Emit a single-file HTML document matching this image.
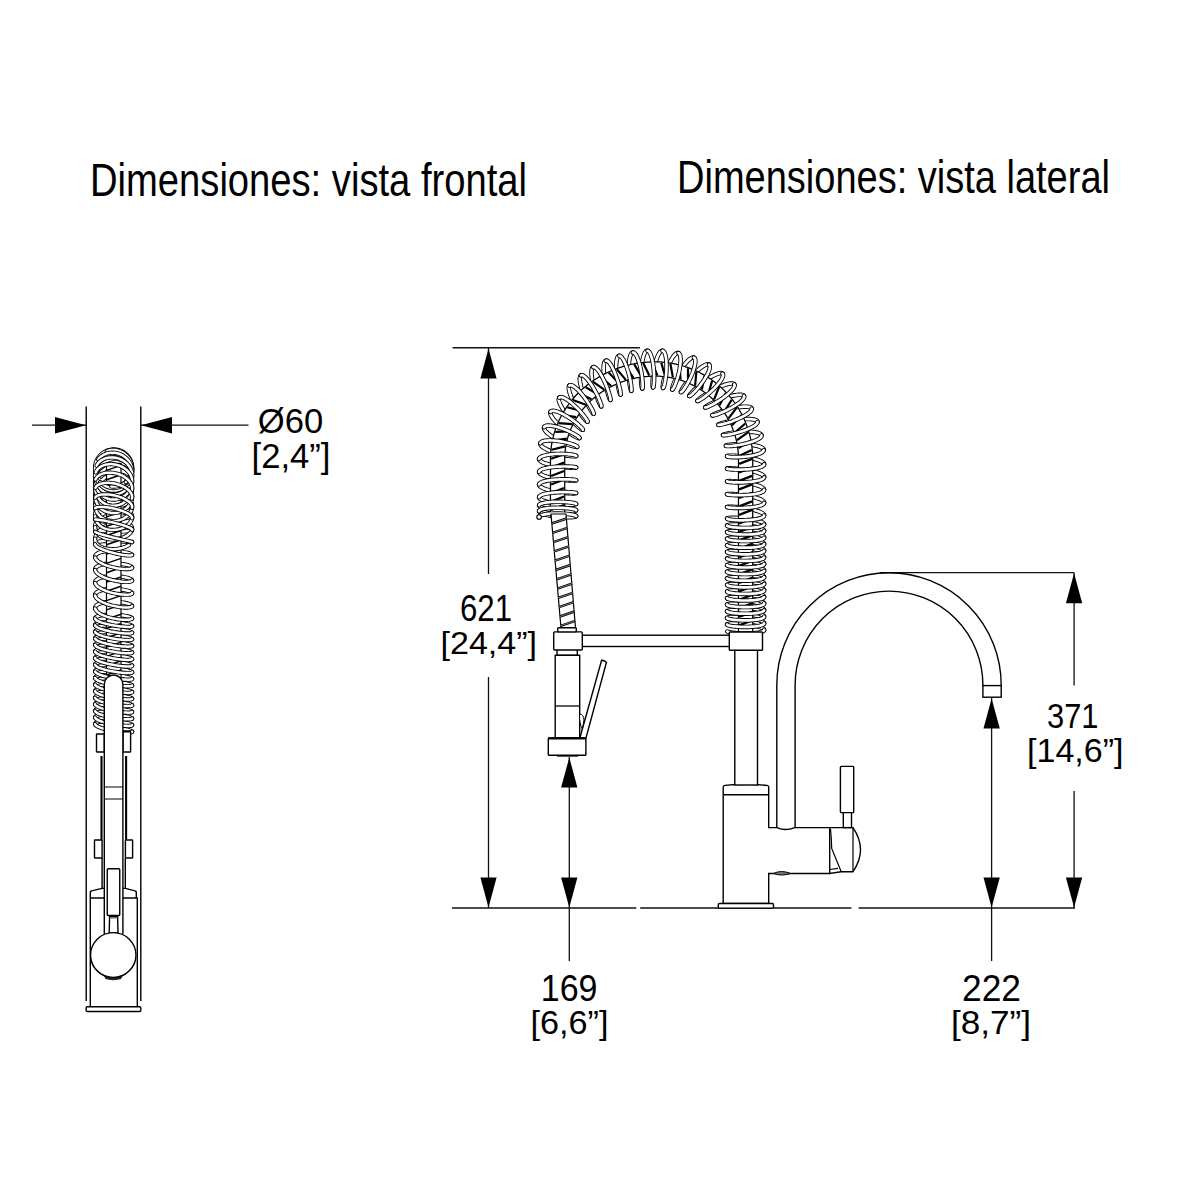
<!DOCTYPE html>
<html><head><meta charset="utf-8"><title>Dimensiones</title><style>
html,body{margin:0;padding:0;background:#fff;}
svg{display:block;}
</style></head><body>
<svg width="1200" height="1200" viewBox="0 0 1200 1200">
<rect width="1200" height="1200" fill="#fff"/>
<g font-family="Liberation Sans, sans-serif" fill="#000">
<text x="90" y="195.75" font-size="46.22" textLength="437" lengthAdjust="spacingAndGlyphs">Dimensiones: vista frontal</text>
<text x="677" y="193" font-size="46.63" textLength="433" lengthAdjust="spacingAndGlyphs">Dimensiones: vista lateral</text>
<text x="257.8" y="433" font-size="35.3" textLength="65.4" lengthAdjust="spacingAndGlyphs">Ø60</text>
<text x="251.5" y="468" font-size="34.17" textLength="79" lengthAdjust="spacingAndGlyphs">[2,4”]</text>
<text x="460" y="620.5" font-size="36.47" textLength="52" lengthAdjust="spacingAndGlyphs">621</text>
<text x="440.5" y="654" font-size="32.24" textLength="96.5" lengthAdjust="spacingAndGlyphs">[24,4”]</text>
<text x="540.75" y="1000.5" font-size="36.17" textLength="56.75" lengthAdjust="spacingAndGlyphs">169</text>
<text x="530.5" y="1034" font-size="33.73" textLength="78" lengthAdjust="spacingAndGlyphs">[6,6”]</text>
<text x="962" y="1000.5" font-size="36.17" textLength="59" lengthAdjust="spacingAndGlyphs">222</text>
<text x="951" y="1034" font-size="33.73" textLength="80" lengthAdjust="spacingAndGlyphs">[8,7”]</text>
<text x="1047" y="728" font-size="34.7" textLength="51.5" lengthAdjust="spacingAndGlyphs">371</text>
<text x="1027" y="762" font-size="33.09" textLength="96.5" lengthAdjust="spacingAndGlyphs">[14,6”]</text>
</g>
<line x1="32" y1="425.2" x2="86" y2="425.2" stroke="#111" stroke-width="1.3"/>
<polygon points="86.0,425.2 55.0,416.9 55.0,433.4" fill="#000"/>
<line x1="141" y1="425.2" x2="248.5" y2="425.2" stroke="#111" stroke-width="1.3"/>
<polygon points="141.0,425.2 172.0,416.9 172.0,433.4" fill="#000"/>
<line x1="86.2" y1="406.5" x2="86.2" y2="1001" stroke="#000" stroke-width="1.4"/>
<line x1="140.8" y1="406.5" x2="140.8" y2="1001" stroke="#000" stroke-width="1.4"/>
<line x1="452.6" y1="347.8" x2="640" y2="347.8" stroke="#111" stroke-width="1.4"/>
<line x1="488.5" y1="347.8" x2="488.5" y2="574" stroke="#111" stroke-width="1.3"/>
<line x1="488.5" y1="677" x2="488.5" y2="908" stroke="#111" stroke-width="1.3"/>
<polygon points="488.5,348.5 480.4,378.5 496.6,378.5" fill="#000"/>
<polygon points="488.5,907.5 480.4,877.5 496.6,877.5" fill="#000"/>
<line x1="452" y1="908" x2="636.3" y2="908" stroke="#111" stroke-width="1.4"/>
<line x1="640.2" y1="908" x2="851.4" y2="908" stroke="#111" stroke-width="1.4"/>
<line x1="858.6" y1="908" x2="1075" y2="908" stroke="#111" stroke-width="1.4"/>
<line x1="569.3" y1="757" x2="569.3" y2="961" stroke="#111" stroke-width="1.3"/>
<polygon points="569.3,757.5 561.1,787.5 577.4,787.5" fill="#000"/>
<polygon points="569.3,907.5 561.1,877.5 577.4,877.5" fill="#000"/>
<line x1="991.6" y1="698" x2="991.6" y2="961" stroke="#111" stroke-width="1.3"/>
<polygon points="991.6,698.5 983.5,728.5 999.8,728.5" fill="#000"/>
<polygon points="991.6,907.5 983.5,877.5 999.8,877.5" fill="#000"/>
<line x1="880" y1="572.6" x2="1074.1" y2="572.6" stroke="#111" stroke-width="1.4"/>
<line x1="1074.1" y1="572.6" x2="1074.1" y2="685.4" stroke="#111" stroke-width="1.3"/>
<line x1="1074.1" y1="791" x2="1074.1" y2="908" stroke="#111" stroke-width="1.3"/>
<polygon points="1074.1,573.2 1065.9,603.2 1082.2,603.2" fill="#000"/>
<polygon points="1074.1,907.5 1065.9,877.5 1082.2,877.5" fill="#000"/>
<path d="M576.1,516.2 L575.9,516.4 L575.7,516.5 L575.3,516.7 L574.8,516.8 L574.2,516.9 L573.5,517.0 L572.7,517.1 L571.8,517.2 L570.8,517.2 L569.7,517.2 L568.5,517.2 L567.3,517.2 L566.0,517.2 L564.7,517.2 L563.3,517.1 L561.9,517.0 L560.4,516.9 L558.9,516.8 L557.5,516.6 L556.0,516.5 L554.5,516.3 L553.1,516.1 L551.6,515.9 L550.3,515.6 L548.9,515.4 L547.7,515.1 L546.4,514.8 L545.3,514.6 L544.2,514.3 L543.3,513.9 L542.4,513.6 L541.6,513.3 L540.9,513.0 L540.3,512.7 L539.8,512.3 L539.5,512.0 L539.2,511.7 L539.1,511.4 L539.1,511.1 M576.1,510.3 L576.0,510.5 L575.8,510.6 L575.5,510.8 L575.1,510.9 L574.5,511.0 L573.9,511.1 L573.1,511.2 L572.3,511.3 L571.3,511.4 L570.3,511.4 L569.2,511.4 L568.0,511.4 L566.7,511.4 L565.4,511.4 L564.0,511.3 L562.6,511.3 L561.2,511.2 L559.7,511.1 L558.3,510.9 L556.8,510.8 L555.3,510.6 L553.8,510.4 L552.4,510.2 L551.0,510.0 L549.6,509.7 L548.3,509.5 L547.1,509.2 L545.9,508.9 L544.8,508.6 L543.8,508.3 L542.8,508.0 L542.0,507.7 L541.2,507.4 L540.6,507.0 L540.1,506.7 L539.7,506.4 L539.4,506.0 L539.2,505.7 L539.1,505.4 L539.2,505.1 M576.1,504.1 L575.9,504.2 L575.7,504.3 L575.3,504.4 L574.8,504.5 L574.2,504.6 L573.5,504.7 L572.7,504.7 L571.8,504.8 L570.9,504.8 L569.8,504.8 L568.6,504.8 L567.4,504.7 L566.1,504.7 L564.8,504.6 L563.4,504.5 L562.0,504.3 L560.5,504.2 L559.1,504.0 L557.6,503.8 L556.1,503.6 L554.6,503.4 L553.2,503.2 L551.8,502.9 L550.4,502.6 L549.0,502.3 L547.8,502.0 L546.5,501.7 L545.4,501.3 L544.3,501.0 L543.3,500.6 L542.4,500.2 L541.6,499.8 L540.9,499.5 L540.3,499.1 L539.9,498.7 L539.5,498.3 L539.3,497.9 L539.1,497.5 L539.1,497.1 M576.1,493.1 L576.0,493.2 L575.8,493.2 L575.5,493.3 L575.1,493.3 L574.6,493.4 L573.9,493.4 L573.2,493.4 L572.3,493.4 L571.4,493.3 L570.4,493.3 L569.3,493.2 L568.1,493.2 L566.8,493.0 L565.5,492.9 L564.2,492.8 L562.7,492.6 L561.3,492.4 L559.9,492.2 L558.4,492.0 L556.9,491.8 L555.4,491.5 L554.0,491.2 L552.5,490.9 L551.1,490.6 L549.8,490.3 L548.4,489.9 L547.2,489.6 L546.0,489.2 L544.9,488.8 L543.8,488.4 L542.9,488.0 L542.1,487.6 L541.3,487.2 L540.7,486.8 L540.1,486.4 L539.7,486.0 L539.4,485.6 L539.2,485.2 L539.1,484.7 L539.1,484.3 M576.1,480.3 L576.0,480.4 L575.7,480.5 L575.4,480.5 L574.9,480.5 L574.3,480.6 L573.6,480.6 L572.8,480.6 L571.9,480.6 L570.9,480.5 L569.9,480.5 L568.7,480.4 L567.5,480.3 L566.2,480.2 L564.9,480.1 L563.5,479.9 L562.1,479.7 L560.6,479.5 L559.2,479.3 L557.7,479.1 L556.2,478.8 L554.7,478.6 L553.3,478.3 L551.9,478.0 L550.5,477.7 L549.1,477.3 L547.9,477.0 L546.6,476.6 L545.5,476.2 L544.4,475.9 L543.4,475.5 L542.5,475.1 L541.7,474.6 L541.0,474.2 L540.4,473.8 L539.9,473.4 L539.5,473.0 L539.3,472.6 L539.1,472.2 L539.1,471.8 M576.1,467.5 L576.0,467.6 L575.9,467.6 L575.6,467.7 L575.1,467.7 L574.6,467.8 L574.0,467.8 L573.2,467.8 L572.4,467.8 L571.5,467.7 L570.5,467.7 L569.4,467.6 L568.2,467.6 L566.9,467.5 L565.6,467.3 L564.3,467.2 L562.9,467.0 L561.4,466.9 L560.0,466.7 L558.5,466.4 L557.0,466.2 L555.5,465.9 L554.1,465.6 L552.6,465.4 L551.2,465.0 L549.9,464.7 L548.5,464.4 L547.3,464.0 L546.1,463.6 L545.0,463.3 L543.9,462.9 L543.0,462.5 L542.1,462.1 L541.4,461.7 L540.7,461.2 L540.2,460.8 L539.7,460.4 L539.4,460.0 L539.2,459.6 L539.1,459.2 L539.1,458.8 M576.1,456.0 L576.0,456.1 L575.8,456.2 L575.4,456.2 L574.9,456.3 L574.4,456.3 L573.7,456.3 L572.9,456.3 L572.0,456.2 L571.0,456.1 L570.0,456.0 L568.8,455.8 L567.6,455.7 L566.3,455.5 L565.0,455.2 L563.7,454.9 L562.3,454.6 L560.8,454.3 L559.4,453.9 L557.9,453.5 L556.5,453.1 L555.0,452.7 L553.6,452.2 L552.2,451.7 L550.9,451.2 L549.6,450.7 L548.4,450.2 L547.2,449.7 L546.1,449.1 L545.0,448.5 L544.1,448.0 L543.2,447.4 L542.5,446.9 L541.8,446.3 L541.3,445.8 L540.9,445.3 L540.6,444.8 L540.4,444.3 L540.3,443.8 L540.3,443.3 M577.2,446.8 L577.0,446.8 L576.7,446.9 L576.3,446.9 L575.7,446.8 L575.1,446.7 L574.4,446.5 L573.6,446.3 L572.7,446.1 L571.7,445.8 L570.6,445.5 L569.5,445.1 L568.3,444.7 L567.1,444.2 L565.8,443.7 L564.5,443.1 L563.2,442.6 L561.8,441.9 L560.5,441.3 L559.1,440.6 L557.8,439.9 L556.4,439.2 L555.1,438.4 L553.9,437.7 L552.7,436.9 L551.5,436.1 L550.4,435.4 L549.4,434.6 L548.4,433.8 L547.5,433.1 L546.7,432.3 L546.0,431.6 L545.4,430.9 L544.9,430.3 L544.6,429.6 L544.3,429.1 L544.1,428.5 L544.0,428.0 L544.1,427.5 L544.2,427.1 M579.5,438.1 L579.3,438.2 L579.1,438.2 L578.7,438.1 L578.3,438.0 L577.7,437.8 L577.1,437.5 L576.4,437.2 L575.6,436.8 L574.7,436.3 L573.8,435.8 L572.8,435.2 L571.8,434.6 L570.7,433.9 L569.5,433.2 L568.4,432.4 L567.2,431.5 L566.0,430.7 L564.8,429.7 L563.5,428.8 L562.3,427.8 L561.2,426.8 L560.0,425.8 L558.9,424.8 L557.8,423.8 L556.8,422.8 L555.8,421.8 L554.9,420.8 L554.1,419.8 L553.3,418.9 L552.6,417.9 L552.0,417.1 L551.5,416.2 L551.0,415.4 L550.7,414.7 L550.5,414.0 L550.3,413.4 L550.3,412.8 L550.4,412.3 L550.5,411.9 M582.8,429.8 L582.6,429.8 L582.3,429.7 L581.9,429.6 L581.5,429.3 L581.0,429.0 L580.4,428.5 L579.7,428.0 L579.0,427.4 L578.2,426.8 L577.4,426.0 L576.5,425.2 L575.5,424.3 L574.6,423.4 L573.6,422.4 L572.6,421.3 L571.6,420.2 L570.6,419.1 L569.6,417.9 L568.5,416.7 L567.6,415.5 L566.6,414.3 L565.7,413.1 L564.8,411.8 L563.9,410.6 L563.1,409.4 L562.3,408.2 L561.7,407.0 L561.0,405.9 L560.5,404.8 L560.0,403.8 L559.6,402.8 L559.2,401.9 L559.0,401.1 L558.8,400.3 L558.8,399.6 L558.8,399.0 L558.9,398.4 L559.0,398.0 L559.3,397.6 M587.5,421.7 L587.4,421.7 L587.1,421.6 L586.9,421.4 L586.5,421.1 L586.1,420.7 L585.6,420.3 L585.1,419.7 L584.5,419.0 L583.9,418.2 L583.2,417.4 L582.5,416.5 L581.7,415.5 L581.0,414.4 L580.2,413.2 L579.4,412.0 L578.6,410.8 L577.8,409.5 L576.9,408.2 L576.1,406.8 L575.4,405.4 L574.6,404.0 L573.9,402.6 L573.2,401.3 L572.5,399.9 L571.9,398.5 L571.3,397.2 L570.8,395.9 L570.3,394.6 L569.9,393.4 L569.5,392.3 L569.3,391.2 L569.0,390.2 L568.9,389.3 L568.8,388.4 L568.8,387.7 L568.8,387.0 L569.0,386.5 L569.2,386.0 L569.4,385.6 M593.6,413.8 L593.4,413.7 L593.2,413.6 L592.9,413.3 L592.6,412.9 L592.3,412.4 L591.8,411.8 L591.4,411.1 L590.9,410.3 L590.4,409.4 L589.8,408.4 L589.2,407.3 L588.6,406.2 L588.0,405.0 L587.4,403.7 L586.8,402.4 L586.2,401.0 L585.6,399.6 L585.0,398.1 L584.4,396.6 L583.8,395.2 L583.2,393.7 L582.7,392.2 L582.2,390.7 L581.8,389.3 L581.4,387.9 L581.0,386.5 L580.7,385.1 L580.4,383.9 L580.2,382.7 L580.0,381.5 L579.9,380.5 L579.8,379.5 L579.8,378.6 L579.9,377.8 L580.0,377.1 L580.2,376.5 L580.4,376.0 L580.7,375.6 L581.0,375.4 M601.3,406.4 L601.2,406.4 L601.0,406.2 L600.8,406.0 L600.6,405.6 L600.3,405.1 L600.0,404.5 L599.6,403.8 L599.3,403.0 L598.9,402.1 L598.4,401.1 L598.0,400.1 L597.6,398.9 L597.1,397.7 L596.6,396.4 L596.2,395.0 L595.7,393.6 L595.3,392.2 L594.8,390.7 L594.4,389.2 L594.0,387.7 L593.6,386.1 L593.2,384.6 L592.9,383.1 L592.6,381.6 L592.3,380.2 L592.1,378.7 L591.9,377.4 L591.7,376.1 L591.6,374.8 L591.5,373.6 L591.5,372.5 L591.5,371.5 L591.6,370.6 L591.7,369.8 L591.9,369.1 L592.1,368.4 L592.3,367.9 L592.6,367.5 L593.0,367.2 L593.3,367.1 M610.4,399.9 L610.2,399.8 L610.1,399.6 L609.9,399.3 L609.7,398.8 L609.4,398.3 L609.1,397.6 L608.9,396.8 L608.6,395.9 L608.2,395.0 L607.9,393.9 L607.6,392.8 L607.2,391.6 L606.9,390.3 L606.5,388.9 L606.2,387.5 L605.9,386.1 L605.6,384.6 L605.3,383.1 L605.0,381.6 L604.7,380.1 L604.5,378.5 L604.3,377.0 L604.1,375.5 L603.9,374.0 L603.8,372.6 L603.7,371.2 L603.7,369.9 L603.6,368.6 L603.6,367.4 L603.7,366.3 L603.8,365.3 L603.9,364.3 L604.1,363.5 L604.3,362.7 L604.5,362.1 L604.8,361.6 L605.1,361.2 L605.5,360.9 L605.9,360.7 M620.6,394.6 L620.4,394.6 L620.3,394.4 L620.2,394.1 L620.0,393.7 L619.8,393.2 L619.6,392.6 L619.4,391.9 L619.1,391.0 L618.9,390.1 L618.7,389.1 L618.4,388.0 L618.2,386.8 L617.9,385.5 L617.7,384.2 L617.4,382.8 L617.2,381.4 L617.0,380.0 L616.8,378.5 L616.7,377.0 L616.5,375.4 L616.4,373.9 L616.3,372.4 L616.2,370.9 L616.1,369.4 L616.1,368.0 L616.1,366.6 L616.1,365.2 L616.2,364.0 L616.3,362.8 L616.4,361.6 L616.6,360.6 L616.8,359.6 L617.0,358.8 L617.2,358.0 L617.5,357.4 L617.8,356.8 L618.2,356.4 L618.5,356.1 L618.9,355.9 L619.3,355.8 M631.3,390.8 L631.2,390.7 L631.0,390.4 L630.9,390.1 L630.7,389.6 L630.6,389.0 L630.4,388.4 L630.3,387.6 L630.1,386.7 L629.9,385.7 L629.7,384.6 L629.6,383.5 L629.4,382.3 L629.3,381.0 L629.2,379.6 L629.0,378.2 L628.9,376.8 L628.9,375.3 L628.8,373.8 L628.7,372.3 L628.7,370.8 L628.7,369.3 L628.7,367.8 L628.8,366.3 L628.9,364.9 L629.0,363.5 L629.1,362.1 L629.2,360.8 L629.4,359.6 L629.6,358.5 L629.9,357.4 L630.1,356.4 L630.4,355.6 L630.7,354.8 L631.0,354.1 L631.4,353.6 L631.7,353.1 L632.1,352.8 L632.5,352.6 L632.9,352.5 M642.3,388.4 L642.2,388.4 L642.1,388.2 L642.0,387.9 L641.8,387.5 L641.7,387.0 L641.6,386.3 L641.5,385.6 L641.4,384.7 L641.3,383.8 L641.2,382.8 L641.2,381.7 L641.1,380.5 L641.1,379.2 L641.1,377.9 L641.1,376.5 L641.1,375.1 L641.1,373.6 L641.2,372.2 L641.3,370.7 L641.4,369.2 L641.5,367.7 L641.6,366.2 L641.8,364.7 L642.0,363.3 L642.2,361.9 L642.5,360.5 L642.7,359.2 L643.0,358.0 L643.3,356.9 L643.6,355.8 L644.0,354.8 L644.3,353.9 L644.7,353.1 L645.1,352.5 L645.5,351.9 L645.9,351.4 L646.3,351.1 L646.7,350.9 L647.2,350.7 L647.6,350.8 M653.0,387.5 L652.9,387.4 L652.8,387.1 L652.7,386.8 L652.7,386.3 L652.6,385.7 L652.6,385.0 L652.6,384.2 L652.6,383.3 L652.6,382.3 L652.6,381.3 L652.7,380.1 L652.8,378.9 L652.9,377.6 L653.0,376.3 L653.2,374.9 L653.3,373.5 L653.6,372.0 L653.8,370.6 L654.1,369.1 L654.3,367.6 L654.7,366.1 L655.0,364.7 L655.3,363.3 L655.7,361.9 L656.1,360.5 L656.5,359.3 L657.0,358.1 L657.4,356.9 L657.9,355.8 L658.3,354.9 L658.8,354.0 L659.3,353.2 L659.7,352.5 L660.2,351.9 L660.7,351.5 L661.2,351.1 L661.6,350.9 L662.1,350.8 L662.5,350.8 M663.0,387.9 L662.9,387.9 L662.9,387.7 L662.8,387.4 L662.8,386.9 L662.8,386.4 L662.8,385.8 L662.9,385.0 L663.0,384.2 L663.2,383.3 L663.3,382.3 L663.6,381.2 L663.8,380.0 L664.1,378.8 L664.4,377.5 L664.8,376.2 L665.2,374.8 L665.6,373.4 L666.1,372.0 L666.5,370.6 L667.0,369.2 L667.6,367.8 L668.1,366.4 L668.7,365.0 L669.3,363.7 L669.9,362.4 L670.5,361.2 L671.2,360.0 L671.8,358.9 L672.4,357.9 L673.0,356.9 L673.7,356.0 L674.3,355.3 L674.9,354.6 L675.5,354.1 L676.0,353.6 L676.6,353.3 L677.1,353.1 L677.6,352.9 L678.0,352.9 L678.5,353.1 M672.2,389.5 L672.2,389.4 L672.2,389.1 L672.2,388.8 L672.2,388.3 L672.4,387.7 L672.6,387.1 L672.8,386.3 L673.1,385.5 L673.4,384.6 L673.8,383.6 L674.2,382.5 L674.7,381.4 L675.2,380.2 L675.8,379.0 L676.4,377.7 L677.1,376.4 L677.8,375.1 L678.5,373.8 L679.3,372.5 L680.0,371.2 L680.9,369.9 L681.7,368.6 L682.5,367.4 L683.4,366.2 L684.2,365.0 L685.0,364.0 L685.9,362.9 L686.7,362.0 L687.5,361.1 L688.3,360.3 L689.1,359.6 L689.9,359.0 L690.6,358.5 L691.2,358.1 L691.9,357.8 L692.5,357.6 L693.0,357.5 L693.5,357.5 L693.9,357.6 M680.9,392.1 L680.9,392.0 L681.0,391.7 L681.1,391.3 L681.3,390.8 L681.6,390.2 L681.9,389.6 L682.3,388.8 L682.8,388.0 L683.3,387.1 L683.9,386.2 L684.6,385.2 L685.3,384.2 L686.1,383.1 L687.0,382.0 L687.8,380.8 L688.8,379.7 L689.7,378.5 L690.7,377.4 L691.8,376.2 L692.8,375.1 L693.9,373.9 L694.9,372.9 L696.0,371.8 L697.1,370.8 L698.2,369.9 L699.2,369.0 L700.3,368.1 L701.3,367.4 L702.2,366.7 L703.2,366.1 L704.1,365.6 L704.9,365.1 L705.7,364.8 L706.4,364.5 L707.1,364.4 L707.7,364.3 L708.2,364.4 L708.7,364.5 L709.1,364.7 M689.3,396.0 L689.3,395.8 L689.4,395.6 L689.5,395.3 L689.8,394.9 L690.1,394.4 L690.5,393.9 L691.0,393.3 L691.6,392.6 L692.3,391.8 L693.0,391.1 L693.8,390.2 L694.7,389.4 L695.7,388.5 L696.7,387.5 L697.8,386.6 L698.9,385.6 L700.1,384.6 L701.3,383.7 L702.5,382.7 L703.7,381.8 L705.0,380.8 L706.3,379.9 L707.6,379.1 L708.8,378.2 L710.1,377.5 L711.3,376.7 L712.5,376.0 L713.7,375.4 L714.8,374.9 L715.9,374.4 L716.9,374.0 L717.9,373.7 L718.8,373.4 L719.6,373.2 L720.3,373.1 L721.0,373.1 L721.6,373.2 L722.1,373.4 L722.5,373.6 M697.4,400.9 L697.5,400.7 L697.6,400.5 L697.9,400.2 L698.2,399.8 L698.7,399.4 L699.3,398.9 L699.9,398.4 L700.7,397.8 L701.5,397.1 L702.4,396.5 L703.4,395.8 L704.5,395.1 L705.6,394.3 L706.8,393.6 L708.1,392.8 L709.4,392.0 L710.7,391.3 L712.1,390.5 L713.5,389.8 L714.9,389.1 L716.3,388.4 L717.7,387.7 L719.2,387.1 L720.6,386.5 L721.9,385.9 L723.3,385.4 L724.5,384.9 L725.8,384.5 L727.0,384.2 L728.1,383.9 L729.1,383.7 L730.1,383.6 L731.0,383.5 L731.8,383.5 L732.5,383.5 L733.1,383.6 L733.6,383.8 L734.0,384.0 L734.3,384.4 M705.2,407.4 L705.2,407.3 L705.4,407.1 L705.6,406.9 L706.0,406.6 L706.4,406.3 L707.0,405.9 L707.7,405.5 L708.4,405.0 L709.3,404.5 L710.3,404.0 L711.3,403.5 L712.4,403.0 L713.6,402.4 L714.9,401.8 L716.2,401.2 L717.6,400.7 L719.0,400.1 L720.5,399.5 L721.9,399.0 L723.4,398.4 L724.9,397.9 L726.4,397.4 L727.9,397.0 L729.4,396.6 L730.8,396.2 L732.2,395.8 L733.6,395.5 L734.9,395.3 L736.2,395.1 L737.3,394.9 L738.4,394.8 L739.5,394.8 L740.4,394.8 L741.2,394.8 L742.0,394.9 L742.6,395.1 L743.2,395.3 L743.6,395.6 L743.9,395.9 M712.3,415.3 L712.4,415.2 L712.6,415.0 L713.0,414.8 L713.4,414.6 L714.0,414.3 L714.6,414.0 L715.4,413.6 L716.2,413.3 L717.2,412.9 L718.2,412.5 L719.4,412.1 L720.6,411.7 L721.9,411.2 L723.2,410.8 L724.6,410.4 L726.0,410.0 L727.5,409.6 L729.0,409.2 L730.5,408.8 L732.1,408.5 L733.6,408.1 L735.1,407.8 L736.6,407.6 L738.1,407.3 L739.5,407.1 L740.9,407.0 L742.3,406.8 L743.5,406.7 L744.7,406.7 L745.9,406.7 L746.9,406.7 L747.9,406.8 L748.7,406.9 L749.5,407.1 L750.2,407.3 L750.7,407.6 L751.1,407.8 L751.5,408.2 L751.7,408.6 M718.4,424.8 L718.4,424.6 L718.6,424.5 L718.9,424.3 L719.3,424.1 L719.8,423.9 L720.4,423.7 L721.2,423.4 L722.0,423.2 L722.9,422.9 L723.9,422.6 L725.0,422.3 L726.2,422.0 L727.5,421.7 L728.8,421.4 L730.2,421.1 L731.6,420.8 L733.1,420.5 L734.6,420.3 L736.1,420.1 L737.6,419.8 L739.1,419.6 L740.7,419.5 L742.2,419.3 L743.6,419.2 L745.1,419.1 L746.5,419.1 L747.8,419.0 L749.1,419.1 L750.4,419.1 L751.5,419.2 L752.6,419.3 L753.5,419.5 L754.4,419.6 L755.2,419.9 L755.8,420.1 L756.4,420.4 L756.9,420.7 L757.2,421.1 L757.4,421.5 L757.5,421.9 M723.0,435.0 L723.1,434.9 L723.3,434.8 L723.7,434.6 L724.2,434.4 L724.7,434.3 L725.4,434.1 L726.2,433.9 L727.1,433.7 L728.1,433.5 L729.2,433.3 L730.3,433.1 L731.5,432.9 L732.8,432.7 L734.2,432.5 L735.6,432.3 L737.0,432.2 L738.5,432.1 L740.0,431.9 L741.5,431.8 L743.0,431.8 L744.6,431.7 L746.1,431.7 L747.5,431.7 L749.0,431.7 L750.4,431.8 L751.7,431.9 L753.0,432.0 L754.3,432.1 L755.4,432.3 L756.5,432.5 L757.5,432.7 L758.3,433.0 L759.1,433.3 L759.8,433.6 L760.4,433.9 L760.8,434.2 L761.2,434.6 L761.4,435.0 L761.5,435.4 M725.9,445.8 L725.9,445.6 L726.1,445.5 L726.4,445.4 L726.8,445.3 L727.4,445.2 L728.0,445.0 L728.7,444.9 L729.6,444.8 L730.5,444.7 L731.6,444.6 L732.7,444.5 L733.9,444.4 L735.1,444.3 L736.5,444.2 L737.8,444.2 L739.3,444.2 L740.7,444.2 L742.2,444.2 L743.7,444.3 L745.2,444.3 L746.7,444.4 L748.2,444.5 L749.7,444.7 L751.1,444.8 L752.5,445.0 L753.9,445.2 L755.2,445.5 L756.4,445.7 L757.5,446.0 L758.6,446.3 L759.6,446.6 L760.5,447.0 L761.3,447.3 L762.0,447.7 L762.6,448.1 L763.0,448.5 L763.4,448.9 L763.6,449.3 L763.7,449.8 L763.7,450.2 M727.1,456.2 L727.2,456.1 L727.5,456.0 L727.8,455.9 L728.3,455.8 L728.9,455.8 L729.6,455.7 L730.4,455.7 L731.3,455.7 L732.3,455.7 L733.4,455.7 L734.5,455.8 L735.7,455.8 L737.0,455.9 L738.4,456.1 L739.8,456.2 L741.2,456.4 L742.6,456.6 L744.1,456.8 L745.6,457.0 L747.0,457.3 L748.5,457.5 L750.0,457.8 L751.4,458.1 L752.8,458.5 L754.1,458.8 L755.4,459.2 L756.6,459.5 L757.8,459.9 L758.9,460.3 L759.8,460.7 L760.7,461.1 L761.5,461.5 L762.2,461.9 L762.8,462.3 L763.3,462.7 L763.7,463.1 L763.9,463.6 L764.1,464.0 L764.1,464.4 M727.1,468.6 L727.2,468.6 L727.4,468.5 L727.7,468.4 L728.1,468.4 L728.6,468.4 L729.2,468.3 L730.0,468.3 L730.8,468.3 L731.8,468.4 L732.8,468.4 L733.9,468.5 L735.1,468.6 L736.3,468.7 L737.6,468.8 L739.0,468.9 L740.4,469.1 L741.8,469.3 L743.3,469.5 L744.8,469.7 L746.3,469.9 L747.7,470.2 L749.2,470.5 L750.6,470.8 L752.0,471.1 L753.4,471.4 L754.7,471.8 L756.0,472.1 L757.2,472.5 L758.3,472.9 L759.3,473.3 L760.3,473.7 L761.1,474.1 L761.9,474.5 L762.5,474.9 L763.1,475.3 L763.5,475.7 L763.8,476.1 L764.0,476.5 L764.1,477.0 L764.1,477.4 M727.1,481.4 L727.2,481.3 L727.5,481.3 L727.8,481.2 L728.3,481.2 L728.9,481.1 L729.6,481.1 L730.4,481.1 L731.2,481.2 L732.2,481.2 L733.3,481.2 L734.4,481.3 L735.6,481.4 L736.9,481.5 L738.3,481.6 L739.6,481.8 L741.1,482.0 L742.5,482.2 L744.0,482.4 L745.5,482.6 L746.9,482.9 L748.4,483.1 L749.9,483.4 L751.3,483.7 L752.7,484.0 L754.0,484.4 L755.3,484.7 L756.5,485.1 L757.7,485.5 L758.8,485.8 L759.8,486.2 L760.7,486.6 L761.5,487.1 L762.2,487.5 L762.8,487.9 L763.3,488.3 L763.7,488.7 L763.9,489.1 L764.1,489.5 L764.1,489.9 M727.2,494.2 L727.3,494.1 L727.6,494.0 L728.0,494.0 L728.6,494.0 L729.2,493.9 L729.9,493.9 L730.8,493.9 L731.7,494.0 L732.7,494.0 L733.8,494.1 L735.0,494.2 L736.2,494.3 L737.5,494.4 L738.9,494.5 L740.3,494.7 L741.7,494.9 L743.2,495.1 L744.7,495.3 L746.1,495.5 L747.6,495.8 L749.1,496.1 L750.5,496.4 L751.9,496.7 L753.3,497.0 L754.6,497.3 L755.9,497.7 L757.1,498.1 L758.2,498.4 L759.2,498.8 L760.2,499.2 L761.1,499.6 L761.8,500.0 L762.5,500.5 L763.0,500.9 L763.5,501.3 L763.8,501.7 L764.0,502.1 L764.1,502.5 L764.1,502.9 M727.1,507.0 L727.2,506.9 L727.5,506.9 L727.8,506.8 L728.3,506.8 L728.8,506.7 L729.5,506.7 L730.3,506.7 L731.2,506.8 L732.1,506.8 L733.2,506.8 L734.3,506.9 L735.5,507.0 L736.8,507.1 L738.2,507.2 L739.5,507.4 L740.9,507.6 L742.4,507.7 L743.9,508.0 L745.3,508.2 L746.8,508.4 L748.3,508.7 L749.7,509.0 L751.2,509.3 L752.6,509.6 L753.9,509.9 L755.2,510.3 L756.4,510.7 L757.6,511.0 L758.7,511.4 L759.7,511.8 L760.6,512.2 L761.4,512.6 L762.1,513.0 L762.7,513.4 L763.2,513.8 L763.6,514.3 L763.9,514.7 L764.1,515.1 L764.1,515.5 M727.1,518.5 L727.3,518.3 L727.6,518.2 L728.0,518.1 L728.5,518.0 L729.1,517.9 L729.9,517.9 L730.7,517.8 L731.6,517.8 L732.6,517.8 L733.7,517.8 L734.9,517.8 L736.1,517.8 L737.4,517.9 L738.8,517.9 L740.2,518.0 L741.6,518.1 L743.1,518.3 L744.5,518.4 L746.0,518.6 L747.5,518.8 L749.0,519.0 L750.4,519.2 L751.8,519.4 L753.2,519.7 L754.5,520.0 L755.8,520.2 L757.0,520.5 L758.1,520.8 L759.2,521.2 L760.1,521.5 L761.0,521.8 L761.8,522.1 L762.4,522.5 L763.0,522.8 L763.4,523.2 L763.8,523.5 L764.0,523.8 L764.1,524.2 L764.1,524.5 M727.1,525.5 L727.2,525.4 L727.4,525.2 L727.8,525.1 L728.2,525.0 L728.8,524.9 L729.5,524.8 L730.2,524.7 L731.1,524.6 L732.1,524.6 L733.1,524.6 L734.2,524.6 L735.5,524.6 L736.7,524.6 L738.0,524.6 L739.4,524.7 L740.8,524.8 L742.3,524.9 L743.7,525.0 L745.2,525.2 L746.7,525.4 L748.2,525.5 L749.6,525.7 L751.1,526.0 L752.5,526.2 L753.8,526.5 L755.1,526.7 L756.3,527.0 L757.5,527.3 L758.6,527.6 L759.6,527.9 L760.5,528.3 L761.4,528.6 L762.1,528.9 L762.7,529.2 L763.2,529.6 L763.6,529.9 L763.9,530.3 L764.1,530.6 L764.1,530.9 M727.1,532.0 L727.3,531.9 L727.6,531.8 L728.0,531.6 L728.5,531.5 L729.1,531.4 L729.8,531.3 L730.6,531.3 L731.5,531.2 L732.5,531.2 L733.6,531.2 L734.8,531.2 L736.0,531.2 L737.3,531.2 L738.7,531.3 L740.1,531.3 L741.5,531.4 L742.9,531.6 L744.4,531.7 L745.9,531.9 L747.4,532.0 L748.8,532.2 L750.3,532.4 L751.7,532.7 L753.1,532.9 L754.4,533.2 L755.7,533.5 L756.9,533.7 L758.0,534.0 L759.1,534.4 L760.0,534.7 L760.9,535.0 L761.7,535.3 L762.4,535.7 L762.9,536.0 L763.4,536.3 L763.8,536.7 L764.0,537.0 L764.1,537.3 L764.1,537.7 M727.1,538.7 L727.2,538.6 L727.4,538.4 L727.7,538.3 L728.2,538.2 L728.7,538.1 L729.4,538.0 L730.2,537.9 L731.0,537.8 L732.0,537.8 L733.0,537.8 L734.2,537.8 L735.4,537.8 L736.6,537.8 L737.9,537.8 L739.3,537.9 L740.7,538.0 L742.2,538.1 L743.6,538.2 L745.1,538.4 L746.6,538.5 L748.1,538.7 L749.5,538.9 L750.9,539.2 L752.3,539.4 L753.7,539.6 L755.0,539.9 L756.2,540.2 L757.4,540.5 L758.5,540.8 L759.5,541.1 L760.5,541.4 L761.3,541.8 L762.0,542.1 L762.7,542.4 L763.2,542.8 L763.6,543.1 L763.9,543.4 L764.0,543.8 L764.1,544.1 M727.1,545.3 L727.3,545.1 L727.5,545.0 L727.9,544.8 L728.4,544.7 L729.0,544.6 L729.7,544.5 L730.5,544.5 L731.5,544.4 L732.5,544.4 L733.5,544.4 L734.7,544.4 L735.9,544.4 L737.2,544.4 L738.6,544.5 L740.0,544.5 L741.4,544.6 L742.8,544.8 L744.3,544.9 L745.8,545.0 L747.3,545.2 L748.7,545.4 L750.2,545.6 L751.6,545.9 L753.0,546.1 L754.3,546.4 L755.6,546.6 L756.8,546.9 L757.9,547.2 L759.0,547.5 L760.0,547.9 L760.9,548.2 L761.6,548.5 L762.3,548.8 L762.9,549.2 L763.4,549.5 L763.7,549.8 L764.0,550.2 L764.1,550.5 L764.1,550.8 M727.1,551.9 L727.2,551.8 L727.4,551.7 L727.7,551.5 L728.1,551.4 L728.7,551.3 L729.3,551.2 L730.1,551.1 L731.0,551.0 L731.9,551.0 L732.9,551.0 L734.1,551.0 L735.3,551.0 L736.5,551.0 L737.8,551.0 L739.2,551.1 L740.6,551.2 L742.0,551.3 L743.5,551.4 L745.0,551.6 L746.5,551.7 L747.9,551.9 L749.4,552.1 L750.8,552.3 L752.2,552.6 L753.6,552.8 L754.9,553.1 L756.1,553.4 L757.3,553.7 L758.4,554.0 L759.5,554.3 L760.4,554.6 L761.2,554.9 L762.0,555.3 L762.6,555.6 L763.1,555.9 L763.6,556.3 L763.9,556.6 L764.0,556.9 L764.1,557.3 L764.0,557.6 M727.1,558.5 L727.3,558.3 L727.5,558.2 L727.9,558.1 L728.4,557.9 L729.0,557.8 L729.7,557.8 L730.5,557.7 L731.4,557.6 L732.4,557.6 L733.4,557.6 L734.6,557.6 L735.8,557.6 L737.1,557.6 L738.5,557.7 L739.8,557.7 L741.3,557.8 L742.7,557.9 L744.2,558.1 L745.7,558.2 L747.1,558.4 L748.6,558.6 L750.1,558.8 L751.5,559.0 L752.9,559.3 L754.2,559.5 L755.5,559.8 L756.7,560.1 L757.8,560.4 L758.9,560.7 L759.9,561.0 L760.8,561.3 L761.6,561.7 L762.3,562.0 L762.9,562.3 L763.3,562.7 L763.7,563.0 L764.0,563.4 L764.1,563.7 L764.1,564.0 M727.1,565.2 L727.2,565.0 L727.4,564.9 L727.7,564.7 L728.1,564.6 L728.6,564.5 L729.3,564.4 L730.0,564.3 L730.9,564.2 L731.8,564.2 L732.9,564.2 L734.0,564.2 L735.2,564.2 L736.4,564.2 L737.7,564.2 L739.1,564.3 L740.5,564.4 L741.9,564.5 L743.4,564.6 L744.9,564.7 L746.3,564.9 L747.8,565.1 L749.3,565.3 L750.7,565.5 L752.1,565.8 L753.5,566.0 L754.8,566.3 L756.0,566.5 L757.2,566.8 L758.3,567.1 L759.4,567.5 L760.3,567.8 L761.2,568.1 L761.9,568.4 L762.6,568.8 L763.1,569.1 L763.5,569.4 L763.8,569.8 L764.0,570.1 L764.1,570.4 L764.1,570.8 M727.1,571.7 L727.3,571.5 L727.5,571.4 L727.9,571.3 L728.3,571.2 L728.9,571.0 L729.6,571.0 L730.4,570.9 L731.3,570.8 L732.3,570.8 L733.4,570.8 L734.5,570.8 L735.7,570.8 L737.0,570.8 L738.3,570.9 L739.7,570.9 L741.1,571.0 L742.6,571.1 L744.1,571.3 L745.5,571.4 L747.0,571.6 L748.5,571.8 L749.9,572.0 L751.4,572.2 L752.8,572.5 L754.1,572.7 L755.4,573.0 L756.6,573.3 L757.8,573.6 L758.8,573.9 L759.8,574.2 L760.7,574.5 L761.5,574.9 L762.2,575.2 L762.8,575.5 L763.3,575.9 L763.7,576.2 L763.9,576.5 L764.1,576.9 L764.1,577.2 M727.1,578.4 L727.2,578.2 L727.4,578.1 L727.7,577.9 L728.1,577.8 L728.6,577.7 L729.2,577.6 L730.0,577.5 L730.8,577.5 L731.7,577.4 L732.8,577.4 L733.9,577.4 L735.1,577.4 L736.3,577.4 L737.6,577.4 L739.0,577.5 L740.4,577.6 L741.8,577.7 L743.3,577.8 L744.7,577.9 L746.2,578.1 L747.7,578.3 L749.2,578.5 L750.6,578.7 L752.0,578.9 L753.4,579.2 L754.7,579.4 L756.0,579.7 L757.1,580.0 L758.3,580.3 L759.3,580.6 L760.2,580.9 L761.1,581.3 L761.9,581.6 L762.5,581.9 L763.1,582.3 L763.5,582.6 L763.8,582.9 L764.0,583.3 L764.1,583.6 L764.1,583.9 M727.1,584.9 L727.2,584.7 L727.5,584.6 L727.8,584.5 L728.3,584.4 L728.9,584.3 L729.6,584.2 L730.3,584.1 L731.2,584.0 L732.2,584.0 L733.3,584.0 L734.4,584.0 L735.6,584.0 L736.9,584.0 L738.2,584.0 L739.6,584.1 L741.0,584.2 L742.5,584.3 L743.9,584.5 L745.4,584.6 L746.9,584.8 L748.4,585.0 L749.8,585.2 L751.3,585.4 L752.6,585.6 L754.0,585.9 L755.3,586.2 L756.5,586.5 L757.7,586.8 L758.7,587.1 L759.7,587.4 L760.7,587.7 L761.5,588.0 L762.2,588.4 L762.8,588.7 L763.3,589.0 L763.7,589.4 L763.9,589.7 L764.1,590.0 L764.1,590.4 M727.2,591.4 L727.3,591.3 L727.6,591.1 L728.0,591.0 L728.5,590.9 L729.2,590.8 L729.9,590.7 L730.7,590.7 L731.7,590.6 L732.7,590.6 L733.8,590.6 L735.0,590.6 L736.2,590.6 L737.5,590.6 L738.9,590.7 L740.3,590.8 L741.7,590.9 L743.2,591.0 L744.6,591.1 L746.1,591.3 L747.6,591.5 L749.0,591.7 L750.5,591.9 L751.9,592.1 L753.3,592.4 L754.6,592.6 L755.9,592.9 L757.1,593.2 L758.2,593.5 L759.2,593.8 L760.2,594.1 L761.0,594.4 L761.8,594.8 L762.5,595.1 L763.0,595.4 L763.5,595.8 L763.8,596.1 L764.0,596.5 L764.1,596.8 L764.1,597.1 M727.1,598.1 L727.2,598.0 L727.5,597.8 L727.8,597.7 L728.3,597.6 L728.8,597.5 L729.5,597.4 L730.3,597.3 L731.2,597.2 L732.1,597.2 L733.2,597.2 L734.3,597.2 L735.5,597.2 L736.8,597.2 L738.1,597.2 L739.5,597.3 L740.9,597.4 L742.4,597.5 L743.8,597.6 L745.3,597.8 L746.8,598.0 L748.3,598.2 L749.7,598.4 L751.1,598.6 L752.5,598.8 L753.9,599.1 L755.2,599.4 L756.4,599.6 L757.6,599.9 L758.7,600.2 L759.7,600.5 L760.6,600.9 L761.4,601.2 L762.1,601.5 L762.7,601.9 L763.2,602.2 L763.6,602.5 L763.9,602.9 L764.1,603.2 L764.1,603.5 M727.1,604.6 L727.3,604.5 L727.6,604.4 L728.0,604.2 L728.5,604.1 L729.1,604.0 L729.8,603.9 L730.7,603.9 L731.6,603.8 L732.6,603.8 L733.7,603.8 L734.9,603.8 L736.1,603.8 L737.4,603.8 L738.8,603.9 L740.2,604.0 L741.6,604.1 L743.0,604.2 L744.5,604.3 L746.0,604.5 L747.5,604.6 L748.9,604.8 L750.4,605.1 L751.8,605.3 L753.2,605.5 L754.5,605.8 L755.8,606.1 L757.0,606.4 L758.1,606.7 L759.1,607.0 L760.1,607.3 L761.0,607.6 L761.7,608.0 L762.4,608.3 L763.0,608.6 L763.4,609.0 L763.8,609.3 L764.0,609.6 L764.1,610.0 L764.1,610.3 M727.1,611.3 L727.2,611.2 L727.4,611.0 L727.8,610.9 L728.2,610.8 L728.8,610.7 L729.4,610.6 L730.2,610.5 L731.1,610.4 L732.0,610.4 L733.1,610.4 L734.2,610.4 L735.4,610.4 L736.7,610.4 L738.0,610.4 L739.4,610.5 L740.8,610.6 L742.2,610.7 L743.7,610.8 L745.2,611.0 L746.7,611.2 L748.1,611.3 L749.6,611.5 L751.0,611.8 L752.4,612.0 L753.8,612.3 L755.1,612.5 L756.3,612.8 L757.5,613.1 L758.6,613.4 L759.6,613.7 L760.5,614.0 L761.3,614.4 L762.1,614.7 L762.7,615.0 L763.2,615.4 L763.6,615.7 L763.9,616.0 L764.1,616.4 L764.1,616.7 M727.1,617.9 L727.3,617.7 L727.6,617.6 L728.0,617.4 L728.5,617.3 L729.1,617.2 L729.8,617.1 L730.6,617.1 L731.5,617.0 L732.5,617.0 L733.6,617.0 L734.8,617.0 L736.0,617.0 L737.3,617.0 L738.6,617.1 L740.0,617.1 L741.5,617.2 L742.9,617.4 L744.4,617.5 L745.9,617.7 L747.3,617.8 L748.8,618.0 L750.3,618.2 L751.7,618.5 L753.1,618.7 L754.4,619.0 L755.7,619.3 L756.9,619.5 L758.0,619.8 L759.1,620.2 L760.0,620.5 L760.9,620.8 L761.7,621.1 L762.4,621.5 L762.9,621.8 L763.4,622.1 L763.7,622.5 L764.0,622.8 L764.1,623.1 L764.1,623.5 M727.1,624.5 L727.2,624.4 L727.4,624.2 L727.7,624.1 L728.2,624.0 L728.7,623.9 L729.4,623.8 L730.1,623.7 L731.0,623.6 L732.0,623.6 L733.0,623.6 L734.1,623.6 L735.3,623.6 L736.6,623.6 L737.9,623.6 L739.3,623.7 L740.7,623.8 L742.1,623.9 L743.6,624.0 L745.1,624.2 L746.6,624.3 L748.0,624.5 L749.5,624.7 L750.9,624.9 L752.3,625.2 L753.7,625.4 L755.0,625.7 L756.2,626.0 L757.4,626.3 L758.5,626.6 L759.5,626.9 L760.4,627.2 L761.3,627.5 L762.0,627.9 L762.6,628.2 L763.2,628.6 L763.6,628.9 L763.9,629.2 L764.0,629.6 L764.1,629.9" fill="none" stroke="#000" stroke-width="4.5" stroke-linecap="round" stroke-linejoin="round"/>
<path d="M576.1,516.2 L575.9,516.4 L575.7,516.5 L575.3,516.7 L574.8,516.8 L574.2,516.9 L573.5,517.0 L572.7,517.1 L571.8,517.2 L570.8,517.2 L569.7,517.2 L568.5,517.2 L567.3,517.2 L566.0,517.2 L564.7,517.2 L563.3,517.1 L561.9,517.0 L560.4,516.9 L558.9,516.8 L557.5,516.6 L556.0,516.5 L554.5,516.3 L553.1,516.1 L551.6,515.9 L550.3,515.6 L548.9,515.4 L547.7,515.1 L546.4,514.8 L545.3,514.6 L544.2,514.3 L543.3,513.9 L542.4,513.6 L541.6,513.3 L540.9,513.0 L540.3,512.7 L539.8,512.3 L539.5,512.0 L539.2,511.7 L539.1,511.4 L539.1,511.1 M576.1,510.3 L576.0,510.5 L575.8,510.6 L575.5,510.8 L575.1,510.9 L574.5,511.0 L573.9,511.1 L573.1,511.2 L572.3,511.3 L571.3,511.4 L570.3,511.4 L569.2,511.4 L568.0,511.4 L566.7,511.4 L565.4,511.4 L564.0,511.3 L562.6,511.3 L561.2,511.2 L559.7,511.1 L558.3,510.9 L556.8,510.8 L555.3,510.6 L553.8,510.4 L552.4,510.2 L551.0,510.0 L549.6,509.7 L548.3,509.5 L547.1,509.2 L545.9,508.9 L544.8,508.6 L543.8,508.3 L542.8,508.0 L542.0,507.7 L541.2,507.4 L540.6,507.0 L540.1,506.7 L539.7,506.4 L539.4,506.0 L539.2,505.7 L539.1,505.4 L539.2,505.1 M576.1,504.1 L575.9,504.2 L575.7,504.3 L575.3,504.4 L574.8,504.5 L574.2,504.6 L573.5,504.7 L572.7,504.7 L571.8,504.8 L570.9,504.8 L569.8,504.8 L568.6,504.8 L567.4,504.7 L566.1,504.7 L564.8,504.6 L563.4,504.5 L562.0,504.3 L560.5,504.2 L559.1,504.0 L557.6,503.8 L556.1,503.6 L554.6,503.4 L553.2,503.2 L551.8,502.9 L550.4,502.6 L549.0,502.3 L547.8,502.0 L546.5,501.7 L545.4,501.3 L544.3,501.0 L543.3,500.6 L542.4,500.2 L541.6,499.8 L540.9,499.5 L540.3,499.1 L539.9,498.7 L539.5,498.3 L539.3,497.9 L539.1,497.5 L539.1,497.1 M576.1,493.1 L576.0,493.2 L575.8,493.2 L575.5,493.3 L575.1,493.3 L574.6,493.4 L573.9,493.4 L573.2,493.4 L572.3,493.4 L571.4,493.3 L570.4,493.3 L569.3,493.2 L568.1,493.2 L566.8,493.0 L565.5,492.9 L564.2,492.8 L562.7,492.6 L561.3,492.4 L559.9,492.2 L558.4,492.0 L556.9,491.8 L555.4,491.5 L554.0,491.2 L552.5,490.9 L551.1,490.6 L549.8,490.3 L548.4,489.9 L547.2,489.6 L546.0,489.2 L544.9,488.8 L543.8,488.4 L542.9,488.0 L542.1,487.6 L541.3,487.2 L540.7,486.8 L540.1,486.4 L539.7,486.0 L539.4,485.6 L539.2,485.2 L539.1,484.7 L539.1,484.3 M576.1,480.3 L576.0,480.4 L575.7,480.5 L575.4,480.5 L574.9,480.5 L574.3,480.6 L573.6,480.6 L572.8,480.6 L571.9,480.6 L570.9,480.5 L569.9,480.5 L568.7,480.4 L567.5,480.3 L566.2,480.2 L564.9,480.1 L563.5,479.9 L562.1,479.7 L560.6,479.5 L559.2,479.3 L557.7,479.1 L556.2,478.8 L554.7,478.6 L553.3,478.3 L551.9,478.0 L550.5,477.7 L549.1,477.3 L547.9,477.0 L546.6,476.6 L545.5,476.2 L544.4,475.9 L543.4,475.5 L542.5,475.1 L541.7,474.6 L541.0,474.2 L540.4,473.8 L539.9,473.4 L539.5,473.0 L539.3,472.6 L539.1,472.2 L539.1,471.8 M576.1,467.5 L576.0,467.6 L575.9,467.6 L575.6,467.7 L575.1,467.7 L574.6,467.8 L574.0,467.8 L573.2,467.8 L572.4,467.8 L571.5,467.7 L570.5,467.7 L569.4,467.6 L568.2,467.6 L566.9,467.5 L565.6,467.3 L564.3,467.2 L562.9,467.0 L561.4,466.9 L560.0,466.7 L558.5,466.4 L557.0,466.2 L555.5,465.9 L554.1,465.6 L552.6,465.4 L551.2,465.0 L549.9,464.7 L548.5,464.4 L547.3,464.0 L546.1,463.6 L545.0,463.3 L543.9,462.9 L543.0,462.5 L542.1,462.1 L541.4,461.7 L540.7,461.2 L540.2,460.8 L539.7,460.4 L539.4,460.0 L539.2,459.6 L539.1,459.2 L539.1,458.8 M576.1,456.0 L576.0,456.1 L575.8,456.2 L575.4,456.2 L574.9,456.3 L574.4,456.3 L573.7,456.3 L572.9,456.3 L572.0,456.2 L571.0,456.1 L570.0,456.0 L568.8,455.8 L567.6,455.7 L566.3,455.5 L565.0,455.2 L563.7,454.9 L562.3,454.6 L560.8,454.3 L559.4,453.9 L557.9,453.5 L556.5,453.1 L555.0,452.7 L553.6,452.2 L552.2,451.7 L550.9,451.2 L549.6,450.7 L548.4,450.2 L547.2,449.7 L546.1,449.1 L545.0,448.5 L544.1,448.0 L543.2,447.4 L542.5,446.9 L541.8,446.3 L541.3,445.8 L540.9,445.3 L540.6,444.8 L540.4,444.3 L540.3,443.8 L540.3,443.3 M577.2,446.8 L577.0,446.8 L576.7,446.9 L576.3,446.9 L575.7,446.8 L575.1,446.7 L574.4,446.5 L573.6,446.3 L572.7,446.1 L571.7,445.8 L570.6,445.5 L569.5,445.1 L568.3,444.7 L567.1,444.2 L565.8,443.7 L564.5,443.1 L563.2,442.6 L561.8,441.9 L560.5,441.3 L559.1,440.6 L557.8,439.9 L556.4,439.2 L555.1,438.4 L553.9,437.7 L552.7,436.9 L551.5,436.1 L550.4,435.4 L549.4,434.6 L548.4,433.8 L547.5,433.1 L546.7,432.3 L546.0,431.6 L545.4,430.9 L544.9,430.3 L544.6,429.6 L544.3,429.1 L544.1,428.5 L544.0,428.0 L544.1,427.5 L544.2,427.1 M579.5,438.1 L579.3,438.2 L579.1,438.2 L578.7,438.1 L578.3,438.0 L577.7,437.8 L577.1,437.5 L576.4,437.2 L575.6,436.8 L574.7,436.3 L573.8,435.8 L572.8,435.2 L571.8,434.6 L570.7,433.9 L569.5,433.2 L568.4,432.4 L567.2,431.5 L566.0,430.7 L564.8,429.7 L563.5,428.8 L562.3,427.8 L561.2,426.8 L560.0,425.8 L558.9,424.8 L557.8,423.8 L556.8,422.8 L555.8,421.8 L554.9,420.8 L554.1,419.8 L553.3,418.9 L552.6,417.9 L552.0,417.1 L551.5,416.2 L551.0,415.4 L550.7,414.7 L550.5,414.0 L550.3,413.4 L550.3,412.8 L550.4,412.3 L550.5,411.9 M582.8,429.8 L582.6,429.8 L582.3,429.7 L581.9,429.6 L581.5,429.3 L581.0,429.0 L580.4,428.5 L579.7,428.0 L579.0,427.4 L578.2,426.8 L577.4,426.0 L576.5,425.2 L575.5,424.3 L574.6,423.4 L573.6,422.4 L572.6,421.3 L571.6,420.2 L570.6,419.1 L569.6,417.9 L568.5,416.7 L567.6,415.5 L566.6,414.3 L565.7,413.1 L564.8,411.8 L563.9,410.6 L563.1,409.4 L562.3,408.2 L561.7,407.0 L561.0,405.9 L560.5,404.8 L560.0,403.8 L559.6,402.8 L559.2,401.9 L559.0,401.1 L558.8,400.3 L558.8,399.6 L558.8,399.0 L558.9,398.4 L559.0,398.0 L559.3,397.6 M587.5,421.7 L587.4,421.7 L587.1,421.6 L586.9,421.4 L586.5,421.1 L586.1,420.7 L585.6,420.3 L585.1,419.7 L584.5,419.0 L583.9,418.2 L583.2,417.4 L582.5,416.5 L581.7,415.5 L581.0,414.4 L580.2,413.2 L579.4,412.0 L578.6,410.8 L577.8,409.5 L576.9,408.2 L576.1,406.8 L575.4,405.4 L574.6,404.0 L573.9,402.6 L573.2,401.3 L572.5,399.9 L571.9,398.5 L571.3,397.2 L570.8,395.9 L570.3,394.6 L569.9,393.4 L569.5,392.3 L569.3,391.2 L569.0,390.2 L568.9,389.3 L568.8,388.4 L568.8,387.7 L568.8,387.0 L569.0,386.5 L569.2,386.0 L569.4,385.6 M593.6,413.8 L593.4,413.7 L593.2,413.6 L592.9,413.3 L592.6,412.9 L592.3,412.4 L591.8,411.8 L591.4,411.1 L590.9,410.3 L590.4,409.4 L589.8,408.4 L589.2,407.3 L588.6,406.2 L588.0,405.0 L587.4,403.7 L586.8,402.4 L586.2,401.0 L585.6,399.6 L585.0,398.1 L584.4,396.6 L583.8,395.2 L583.2,393.7 L582.7,392.2 L582.2,390.7 L581.8,389.3 L581.4,387.9 L581.0,386.5 L580.7,385.1 L580.4,383.9 L580.2,382.7 L580.0,381.5 L579.9,380.5 L579.8,379.5 L579.8,378.6 L579.9,377.8 L580.0,377.1 L580.2,376.5 L580.4,376.0 L580.7,375.6 L581.0,375.4 M601.3,406.4 L601.2,406.4 L601.0,406.2 L600.8,406.0 L600.6,405.6 L600.3,405.1 L600.0,404.5 L599.6,403.8 L599.3,403.0 L598.9,402.1 L598.4,401.1 L598.0,400.1 L597.6,398.9 L597.1,397.7 L596.6,396.4 L596.2,395.0 L595.7,393.6 L595.3,392.2 L594.8,390.7 L594.4,389.2 L594.0,387.7 L593.6,386.1 L593.2,384.6 L592.9,383.1 L592.6,381.6 L592.3,380.2 L592.1,378.7 L591.9,377.4 L591.7,376.1 L591.6,374.8 L591.5,373.6 L591.5,372.5 L591.5,371.5 L591.6,370.6 L591.7,369.8 L591.9,369.1 L592.1,368.4 L592.3,367.9 L592.6,367.5 L593.0,367.2 L593.3,367.1 M610.4,399.9 L610.2,399.8 L610.1,399.6 L609.9,399.3 L609.7,398.8 L609.4,398.3 L609.1,397.6 L608.9,396.8 L608.6,395.9 L608.2,395.0 L607.9,393.9 L607.6,392.8 L607.2,391.6 L606.9,390.3 L606.5,388.9 L606.2,387.5 L605.9,386.1 L605.6,384.6 L605.3,383.1 L605.0,381.6 L604.7,380.1 L604.5,378.5 L604.3,377.0 L604.1,375.5 L603.9,374.0 L603.8,372.6 L603.7,371.2 L603.7,369.9 L603.6,368.6 L603.6,367.4 L603.7,366.3 L603.8,365.3 L603.9,364.3 L604.1,363.5 L604.3,362.7 L604.5,362.1 L604.8,361.6 L605.1,361.2 L605.5,360.9 L605.9,360.7 M620.6,394.6 L620.4,394.6 L620.3,394.4 L620.2,394.1 L620.0,393.7 L619.8,393.2 L619.6,392.6 L619.4,391.9 L619.1,391.0 L618.9,390.1 L618.7,389.1 L618.4,388.0 L618.2,386.8 L617.9,385.5 L617.7,384.2 L617.4,382.8 L617.2,381.4 L617.0,380.0 L616.8,378.5 L616.7,377.0 L616.5,375.4 L616.4,373.9 L616.3,372.4 L616.2,370.9 L616.1,369.4 L616.1,368.0 L616.1,366.6 L616.1,365.2 L616.2,364.0 L616.3,362.8 L616.4,361.6 L616.6,360.6 L616.8,359.6 L617.0,358.8 L617.2,358.0 L617.5,357.4 L617.8,356.8 L618.2,356.4 L618.5,356.1 L618.9,355.9 L619.3,355.8 M631.3,390.8 L631.2,390.7 L631.0,390.4 L630.9,390.1 L630.7,389.6 L630.6,389.0 L630.4,388.4 L630.3,387.6 L630.1,386.7 L629.9,385.7 L629.7,384.6 L629.6,383.5 L629.4,382.3 L629.3,381.0 L629.2,379.6 L629.0,378.2 L628.9,376.8 L628.9,375.3 L628.8,373.8 L628.7,372.3 L628.7,370.8 L628.7,369.3 L628.7,367.8 L628.8,366.3 L628.9,364.9 L629.0,363.5 L629.1,362.1 L629.2,360.8 L629.4,359.6 L629.6,358.5 L629.9,357.4 L630.1,356.4 L630.4,355.6 L630.7,354.8 L631.0,354.1 L631.4,353.6 L631.7,353.1 L632.1,352.8 L632.5,352.6 L632.9,352.5 M642.3,388.4 L642.2,388.4 L642.1,388.2 L642.0,387.9 L641.8,387.5 L641.7,387.0 L641.6,386.3 L641.5,385.6 L641.4,384.7 L641.3,383.8 L641.2,382.8 L641.2,381.7 L641.1,380.5 L641.1,379.2 L641.1,377.9 L641.1,376.5 L641.1,375.1 L641.1,373.6 L641.2,372.2 L641.3,370.7 L641.4,369.2 L641.5,367.7 L641.6,366.2 L641.8,364.7 L642.0,363.3 L642.2,361.9 L642.5,360.5 L642.7,359.2 L643.0,358.0 L643.3,356.9 L643.6,355.8 L644.0,354.8 L644.3,353.9 L644.7,353.1 L645.1,352.5 L645.5,351.9 L645.9,351.4 L646.3,351.1 L646.7,350.9 L647.2,350.7 L647.6,350.8 M653.0,387.5 L652.9,387.4 L652.8,387.1 L652.7,386.8 L652.7,386.3 L652.6,385.7 L652.6,385.0 L652.6,384.2 L652.6,383.3 L652.6,382.3 L652.6,381.3 L652.7,380.1 L652.8,378.9 L652.9,377.6 L653.0,376.3 L653.2,374.9 L653.3,373.5 L653.6,372.0 L653.8,370.6 L654.1,369.1 L654.3,367.6 L654.7,366.1 L655.0,364.7 L655.3,363.3 L655.7,361.9 L656.1,360.5 L656.5,359.3 L657.0,358.1 L657.4,356.9 L657.9,355.8 L658.3,354.9 L658.8,354.0 L659.3,353.2 L659.7,352.5 L660.2,351.9 L660.7,351.5 L661.2,351.1 L661.6,350.9 L662.1,350.8 L662.5,350.8 M663.0,387.9 L662.9,387.9 L662.9,387.7 L662.8,387.4 L662.8,386.9 L662.8,386.4 L662.8,385.8 L662.9,385.0 L663.0,384.2 L663.2,383.3 L663.3,382.3 L663.6,381.2 L663.8,380.0 L664.1,378.8 L664.4,377.5 L664.8,376.2 L665.2,374.8 L665.6,373.4 L666.1,372.0 L666.5,370.6 L667.0,369.2 L667.6,367.8 L668.1,366.4 L668.7,365.0 L669.3,363.7 L669.9,362.4 L670.5,361.2 L671.2,360.0 L671.8,358.9 L672.4,357.9 L673.0,356.9 L673.7,356.0 L674.3,355.3 L674.9,354.6 L675.5,354.1 L676.0,353.6 L676.6,353.3 L677.1,353.1 L677.6,352.9 L678.0,352.9 L678.5,353.1 M672.2,389.5 L672.2,389.4 L672.2,389.1 L672.2,388.8 L672.2,388.3 L672.4,387.7 L672.6,387.1 L672.8,386.3 L673.1,385.5 L673.4,384.6 L673.8,383.6 L674.2,382.5 L674.7,381.4 L675.2,380.2 L675.8,379.0 L676.4,377.7 L677.1,376.4 L677.8,375.1 L678.5,373.8 L679.3,372.5 L680.0,371.2 L680.9,369.9 L681.7,368.6 L682.5,367.4 L683.4,366.2 L684.2,365.0 L685.0,364.0 L685.9,362.9 L686.7,362.0 L687.5,361.1 L688.3,360.3 L689.1,359.6 L689.9,359.0 L690.6,358.5 L691.2,358.1 L691.9,357.8 L692.5,357.6 L693.0,357.5 L693.5,357.5 L693.9,357.6 M680.9,392.1 L680.9,392.0 L681.0,391.7 L681.1,391.3 L681.3,390.8 L681.6,390.2 L681.9,389.6 L682.3,388.8 L682.8,388.0 L683.3,387.1 L683.9,386.2 L684.6,385.2 L685.3,384.2 L686.1,383.1 L687.0,382.0 L687.8,380.8 L688.8,379.7 L689.7,378.5 L690.7,377.4 L691.8,376.2 L692.8,375.1 L693.9,373.9 L694.9,372.9 L696.0,371.8 L697.1,370.8 L698.2,369.9 L699.2,369.0 L700.3,368.1 L701.3,367.4 L702.2,366.7 L703.2,366.1 L704.1,365.6 L704.9,365.1 L705.7,364.8 L706.4,364.5 L707.1,364.4 L707.7,364.3 L708.2,364.4 L708.7,364.5 L709.1,364.7 M689.3,396.0 L689.3,395.8 L689.4,395.6 L689.5,395.3 L689.8,394.9 L690.1,394.4 L690.5,393.9 L691.0,393.3 L691.6,392.6 L692.3,391.8 L693.0,391.1 L693.8,390.2 L694.7,389.4 L695.7,388.5 L696.7,387.5 L697.8,386.6 L698.9,385.6 L700.1,384.6 L701.3,383.7 L702.5,382.7 L703.7,381.8 L705.0,380.8 L706.3,379.9 L707.6,379.1 L708.8,378.2 L710.1,377.5 L711.3,376.7 L712.5,376.0 L713.7,375.4 L714.8,374.9 L715.9,374.4 L716.9,374.0 L717.9,373.7 L718.8,373.4 L719.6,373.2 L720.3,373.1 L721.0,373.1 L721.6,373.2 L722.1,373.4 L722.5,373.6 M697.4,400.9 L697.5,400.7 L697.6,400.5 L697.9,400.2 L698.2,399.8 L698.7,399.4 L699.3,398.9 L699.9,398.4 L700.7,397.8 L701.5,397.1 L702.4,396.5 L703.4,395.8 L704.5,395.1 L705.6,394.3 L706.8,393.6 L708.1,392.8 L709.4,392.0 L710.7,391.3 L712.1,390.5 L713.5,389.8 L714.9,389.1 L716.3,388.4 L717.7,387.7 L719.2,387.1 L720.6,386.5 L721.9,385.9 L723.3,385.4 L724.5,384.9 L725.8,384.5 L727.0,384.2 L728.1,383.9 L729.1,383.7 L730.1,383.6 L731.0,383.5 L731.8,383.5 L732.5,383.5 L733.1,383.6 L733.6,383.8 L734.0,384.0 L734.3,384.4 M705.2,407.4 L705.2,407.3 L705.4,407.1 L705.6,406.9 L706.0,406.6 L706.4,406.3 L707.0,405.9 L707.7,405.5 L708.4,405.0 L709.3,404.5 L710.3,404.0 L711.3,403.5 L712.4,403.0 L713.6,402.4 L714.9,401.8 L716.2,401.2 L717.6,400.7 L719.0,400.1 L720.5,399.5 L721.9,399.0 L723.4,398.4 L724.9,397.9 L726.4,397.4 L727.9,397.0 L729.4,396.6 L730.8,396.2 L732.2,395.8 L733.6,395.5 L734.9,395.3 L736.2,395.1 L737.3,394.9 L738.4,394.8 L739.5,394.8 L740.4,394.8 L741.2,394.8 L742.0,394.9 L742.6,395.1 L743.2,395.3 L743.6,395.6 L743.9,395.9 M712.3,415.3 L712.4,415.2 L712.6,415.0 L713.0,414.8 L713.4,414.6 L714.0,414.3 L714.6,414.0 L715.4,413.6 L716.2,413.3 L717.2,412.9 L718.2,412.5 L719.4,412.1 L720.6,411.7 L721.9,411.2 L723.2,410.8 L724.6,410.4 L726.0,410.0 L727.5,409.6 L729.0,409.2 L730.5,408.8 L732.1,408.5 L733.6,408.1 L735.1,407.8 L736.6,407.6 L738.1,407.3 L739.5,407.1 L740.9,407.0 L742.3,406.8 L743.5,406.7 L744.7,406.7 L745.9,406.7 L746.9,406.7 L747.9,406.8 L748.7,406.9 L749.5,407.1 L750.2,407.3 L750.7,407.6 L751.1,407.8 L751.5,408.2 L751.7,408.6 M718.4,424.8 L718.4,424.6 L718.6,424.5 L718.9,424.3 L719.3,424.1 L719.8,423.9 L720.4,423.7 L721.2,423.4 L722.0,423.2 L722.9,422.9 L723.9,422.6 L725.0,422.3 L726.2,422.0 L727.5,421.7 L728.8,421.4 L730.2,421.1 L731.6,420.8 L733.1,420.5 L734.6,420.3 L736.1,420.1 L737.6,419.8 L739.1,419.6 L740.7,419.5 L742.2,419.3 L743.6,419.2 L745.1,419.1 L746.5,419.1 L747.8,419.0 L749.1,419.1 L750.4,419.1 L751.5,419.2 L752.6,419.3 L753.5,419.5 L754.4,419.6 L755.2,419.9 L755.8,420.1 L756.4,420.4 L756.9,420.7 L757.2,421.1 L757.4,421.5 L757.5,421.9 M723.0,435.0 L723.1,434.9 L723.3,434.8 L723.7,434.6 L724.2,434.4 L724.7,434.3 L725.4,434.1 L726.2,433.9 L727.1,433.7 L728.1,433.5 L729.2,433.3 L730.3,433.1 L731.5,432.9 L732.8,432.7 L734.2,432.5 L735.6,432.3 L737.0,432.2 L738.5,432.1 L740.0,431.9 L741.5,431.8 L743.0,431.8 L744.6,431.7 L746.1,431.7 L747.5,431.7 L749.0,431.7 L750.4,431.8 L751.7,431.9 L753.0,432.0 L754.3,432.1 L755.4,432.3 L756.5,432.5 L757.5,432.7 L758.3,433.0 L759.1,433.3 L759.8,433.6 L760.4,433.9 L760.8,434.2 L761.2,434.6 L761.4,435.0 L761.5,435.4 M725.9,445.8 L725.9,445.6 L726.1,445.5 L726.4,445.4 L726.8,445.3 L727.4,445.2 L728.0,445.0 L728.7,444.9 L729.6,444.8 L730.5,444.7 L731.6,444.6 L732.7,444.5 L733.9,444.4 L735.1,444.3 L736.5,444.2 L737.8,444.2 L739.3,444.2 L740.7,444.2 L742.2,444.2 L743.7,444.3 L745.2,444.3 L746.7,444.4 L748.2,444.5 L749.7,444.7 L751.1,444.8 L752.5,445.0 L753.9,445.2 L755.2,445.5 L756.4,445.7 L757.5,446.0 L758.6,446.3 L759.6,446.6 L760.5,447.0 L761.3,447.3 L762.0,447.7 L762.6,448.1 L763.0,448.5 L763.4,448.9 L763.6,449.3 L763.7,449.8 L763.7,450.2 M727.1,456.2 L727.2,456.1 L727.5,456.0 L727.8,455.9 L728.3,455.8 L728.9,455.8 L729.6,455.7 L730.4,455.7 L731.3,455.7 L732.3,455.7 L733.4,455.7 L734.5,455.8 L735.7,455.8 L737.0,455.9 L738.4,456.1 L739.8,456.2 L741.2,456.4 L742.6,456.6 L744.1,456.8 L745.6,457.0 L747.0,457.3 L748.5,457.5 L750.0,457.8 L751.4,458.1 L752.8,458.5 L754.1,458.8 L755.4,459.2 L756.6,459.5 L757.8,459.9 L758.9,460.3 L759.8,460.7 L760.7,461.1 L761.5,461.5 L762.2,461.9 L762.8,462.3 L763.3,462.7 L763.7,463.1 L763.9,463.6 L764.1,464.0 L764.1,464.4 M727.1,468.6 L727.2,468.6 L727.4,468.5 L727.7,468.4 L728.1,468.4 L728.6,468.4 L729.2,468.3 L730.0,468.3 L730.8,468.3 L731.8,468.4 L732.8,468.4 L733.9,468.5 L735.1,468.6 L736.3,468.7 L737.6,468.8 L739.0,468.9 L740.4,469.1 L741.8,469.3 L743.3,469.5 L744.8,469.7 L746.3,469.9 L747.7,470.2 L749.2,470.5 L750.6,470.8 L752.0,471.1 L753.4,471.4 L754.7,471.8 L756.0,472.1 L757.2,472.5 L758.3,472.9 L759.3,473.3 L760.3,473.7 L761.1,474.1 L761.9,474.5 L762.5,474.9 L763.1,475.3 L763.5,475.7 L763.8,476.1 L764.0,476.5 L764.1,477.0 L764.1,477.4 M727.1,481.4 L727.2,481.3 L727.5,481.3 L727.8,481.2 L728.3,481.2 L728.9,481.1 L729.6,481.1 L730.4,481.1 L731.2,481.2 L732.2,481.2 L733.3,481.2 L734.4,481.3 L735.6,481.4 L736.9,481.5 L738.3,481.6 L739.6,481.8 L741.1,482.0 L742.5,482.2 L744.0,482.4 L745.5,482.6 L746.9,482.9 L748.4,483.1 L749.9,483.4 L751.3,483.7 L752.7,484.0 L754.0,484.4 L755.3,484.7 L756.5,485.1 L757.7,485.5 L758.8,485.8 L759.8,486.2 L760.7,486.6 L761.5,487.1 L762.2,487.5 L762.8,487.9 L763.3,488.3 L763.7,488.7 L763.9,489.1 L764.1,489.5 L764.1,489.9 M727.2,494.2 L727.3,494.1 L727.6,494.0 L728.0,494.0 L728.6,494.0 L729.2,493.9 L729.9,493.9 L730.8,493.9 L731.7,494.0 L732.7,494.0 L733.8,494.1 L735.0,494.2 L736.2,494.3 L737.5,494.4 L738.9,494.5 L740.3,494.7 L741.7,494.9 L743.2,495.1 L744.7,495.3 L746.1,495.5 L747.6,495.8 L749.1,496.1 L750.5,496.4 L751.9,496.7 L753.3,497.0 L754.6,497.3 L755.9,497.7 L757.1,498.1 L758.2,498.4 L759.2,498.8 L760.2,499.2 L761.1,499.6 L761.8,500.0 L762.5,500.5 L763.0,500.9 L763.5,501.3 L763.8,501.7 L764.0,502.1 L764.1,502.5 L764.1,502.9 M727.1,507.0 L727.2,506.9 L727.5,506.9 L727.8,506.8 L728.3,506.8 L728.8,506.7 L729.5,506.7 L730.3,506.7 L731.2,506.8 L732.1,506.8 L733.2,506.8 L734.3,506.9 L735.5,507.0 L736.8,507.1 L738.2,507.2 L739.5,507.4 L740.9,507.6 L742.4,507.7 L743.9,508.0 L745.3,508.2 L746.8,508.4 L748.3,508.7 L749.7,509.0 L751.2,509.3 L752.6,509.6 L753.9,509.9 L755.2,510.3 L756.4,510.7 L757.6,511.0 L758.7,511.4 L759.7,511.8 L760.6,512.2 L761.4,512.6 L762.1,513.0 L762.7,513.4 L763.2,513.8 L763.6,514.3 L763.9,514.7 L764.1,515.1 L764.1,515.5 M727.1,518.5 L727.3,518.3 L727.6,518.2 L728.0,518.1 L728.5,518.0 L729.1,517.9 L729.9,517.9 L730.7,517.8 L731.6,517.8 L732.6,517.8 L733.7,517.8 L734.9,517.8 L736.1,517.8 L737.4,517.9 L738.8,517.9 L740.2,518.0 L741.6,518.1 L743.1,518.3 L744.5,518.4 L746.0,518.6 L747.5,518.8 L749.0,519.0 L750.4,519.2 L751.8,519.4 L753.2,519.7 L754.5,520.0 L755.8,520.2 L757.0,520.5 L758.1,520.8 L759.2,521.2 L760.1,521.5 L761.0,521.8 L761.8,522.1 L762.4,522.5 L763.0,522.8 L763.4,523.2 L763.8,523.5 L764.0,523.8 L764.1,524.2 L764.1,524.5 M727.1,525.5 L727.2,525.4 L727.4,525.2 L727.8,525.1 L728.2,525.0 L728.8,524.9 L729.5,524.8 L730.2,524.7 L731.1,524.6 L732.1,524.6 L733.1,524.6 L734.2,524.6 L735.5,524.6 L736.7,524.6 L738.0,524.6 L739.4,524.7 L740.8,524.8 L742.3,524.9 L743.7,525.0 L745.2,525.2 L746.7,525.4 L748.2,525.5 L749.6,525.7 L751.1,526.0 L752.5,526.2 L753.8,526.5 L755.1,526.7 L756.3,527.0 L757.5,527.3 L758.6,527.6 L759.6,527.9 L760.5,528.3 L761.4,528.6 L762.1,528.9 L762.7,529.2 L763.2,529.6 L763.6,529.9 L763.9,530.3 L764.1,530.6 L764.1,530.9 M727.1,532.0 L727.3,531.9 L727.6,531.8 L728.0,531.6 L728.5,531.5 L729.1,531.4 L729.8,531.3 L730.6,531.3 L731.5,531.2 L732.5,531.2 L733.6,531.2 L734.8,531.2 L736.0,531.2 L737.3,531.2 L738.7,531.3 L740.1,531.3 L741.5,531.4 L742.9,531.6 L744.4,531.7 L745.9,531.9 L747.4,532.0 L748.8,532.2 L750.3,532.4 L751.7,532.7 L753.1,532.9 L754.4,533.2 L755.7,533.5 L756.9,533.7 L758.0,534.0 L759.1,534.4 L760.0,534.7 L760.9,535.0 L761.7,535.3 L762.4,535.7 L762.9,536.0 L763.4,536.3 L763.8,536.7 L764.0,537.0 L764.1,537.3 L764.1,537.7 M727.1,538.7 L727.2,538.6 L727.4,538.4 L727.7,538.3 L728.2,538.2 L728.7,538.1 L729.4,538.0 L730.2,537.9 L731.0,537.8 L732.0,537.8 L733.0,537.8 L734.2,537.8 L735.4,537.8 L736.6,537.8 L737.9,537.8 L739.3,537.9 L740.7,538.0 L742.2,538.1 L743.6,538.2 L745.1,538.4 L746.6,538.5 L748.1,538.7 L749.5,538.9 L750.9,539.2 L752.3,539.4 L753.7,539.6 L755.0,539.9 L756.2,540.2 L757.4,540.5 L758.5,540.8 L759.5,541.1 L760.5,541.4 L761.3,541.8 L762.0,542.1 L762.7,542.4 L763.2,542.8 L763.6,543.1 L763.9,543.4 L764.0,543.8 L764.1,544.1 M727.1,545.3 L727.3,545.1 L727.5,545.0 L727.9,544.8 L728.4,544.7 L729.0,544.6 L729.7,544.5 L730.5,544.5 L731.5,544.4 L732.5,544.4 L733.5,544.4 L734.7,544.4 L735.9,544.4 L737.2,544.4 L738.6,544.5 L740.0,544.5 L741.4,544.6 L742.8,544.8 L744.3,544.9 L745.8,545.0 L747.3,545.2 L748.7,545.4 L750.2,545.6 L751.6,545.9 L753.0,546.1 L754.3,546.4 L755.6,546.6 L756.8,546.9 L757.9,547.2 L759.0,547.5 L760.0,547.9 L760.9,548.2 L761.6,548.5 L762.3,548.8 L762.9,549.2 L763.4,549.5 L763.7,549.8 L764.0,550.2 L764.1,550.5 L764.1,550.8 M727.1,551.9 L727.2,551.8 L727.4,551.7 L727.7,551.5 L728.1,551.4 L728.7,551.3 L729.3,551.2 L730.1,551.1 L731.0,551.0 L731.9,551.0 L732.9,551.0 L734.1,551.0 L735.3,551.0 L736.5,551.0 L737.8,551.0 L739.2,551.1 L740.6,551.2 L742.0,551.3 L743.5,551.4 L745.0,551.6 L746.5,551.7 L747.9,551.9 L749.4,552.1 L750.8,552.3 L752.2,552.6 L753.6,552.8 L754.9,553.1 L756.1,553.4 L757.3,553.7 L758.4,554.0 L759.5,554.3 L760.4,554.6 L761.2,554.9 L762.0,555.3 L762.6,555.6 L763.1,555.9 L763.6,556.3 L763.9,556.6 L764.0,556.9 L764.1,557.3 L764.0,557.6 M727.1,558.5 L727.3,558.3 L727.5,558.2 L727.9,558.1 L728.4,557.9 L729.0,557.8 L729.7,557.8 L730.5,557.7 L731.4,557.6 L732.4,557.6 L733.4,557.6 L734.6,557.6 L735.8,557.6 L737.1,557.6 L738.5,557.7 L739.8,557.7 L741.3,557.8 L742.7,557.9 L744.2,558.1 L745.7,558.2 L747.1,558.4 L748.6,558.6 L750.1,558.8 L751.5,559.0 L752.9,559.3 L754.2,559.5 L755.5,559.8 L756.7,560.1 L757.8,560.4 L758.9,560.7 L759.9,561.0 L760.8,561.3 L761.6,561.7 L762.3,562.0 L762.9,562.3 L763.3,562.7 L763.7,563.0 L764.0,563.4 L764.1,563.7 L764.1,564.0 M727.1,565.2 L727.2,565.0 L727.4,564.9 L727.7,564.7 L728.1,564.6 L728.6,564.5 L729.3,564.4 L730.0,564.3 L730.9,564.2 L731.8,564.2 L732.9,564.2 L734.0,564.2 L735.2,564.2 L736.4,564.2 L737.7,564.2 L739.1,564.3 L740.5,564.4 L741.9,564.5 L743.4,564.6 L744.9,564.7 L746.3,564.9 L747.8,565.1 L749.3,565.3 L750.7,565.5 L752.1,565.8 L753.5,566.0 L754.8,566.3 L756.0,566.5 L757.2,566.8 L758.3,567.1 L759.4,567.5 L760.3,567.8 L761.2,568.1 L761.9,568.4 L762.6,568.8 L763.1,569.1 L763.5,569.4 L763.8,569.8 L764.0,570.1 L764.1,570.4 L764.1,570.8 M727.1,571.7 L727.3,571.5 L727.5,571.4 L727.9,571.3 L728.3,571.2 L728.9,571.0 L729.6,571.0 L730.4,570.9 L731.3,570.8 L732.3,570.8 L733.4,570.8 L734.5,570.8 L735.7,570.8 L737.0,570.8 L738.3,570.9 L739.7,570.9 L741.1,571.0 L742.6,571.1 L744.1,571.3 L745.5,571.4 L747.0,571.6 L748.5,571.8 L749.9,572.0 L751.4,572.2 L752.8,572.5 L754.1,572.7 L755.4,573.0 L756.6,573.3 L757.8,573.6 L758.8,573.9 L759.8,574.2 L760.7,574.5 L761.5,574.9 L762.2,575.2 L762.8,575.5 L763.3,575.9 L763.7,576.2 L763.9,576.5 L764.1,576.9 L764.1,577.2 M727.1,578.4 L727.2,578.2 L727.4,578.1 L727.7,577.9 L728.1,577.8 L728.6,577.7 L729.2,577.6 L730.0,577.5 L730.8,577.5 L731.7,577.4 L732.8,577.4 L733.9,577.4 L735.1,577.4 L736.3,577.4 L737.6,577.4 L739.0,577.5 L740.4,577.6 L741.8,577.7 L743.3,577.8 L744.7,577.9 L746.2,578.1 L747.7,578.3 L749.2,578.5 L750.6,578.7 L752.0,578.9 L753.4,579.2 L754.7,579.4 L756.0,579.7 L757.1,580.0 L758.3,580.3 L759.3,580.6 L760.2,580.9 L761.1,581.3 L761.9,581.6 L762.5,581.9 L763.1,582.3 L763.5,582.6 L763.8,582.9 L764.0,583.3 L764.1,583.6 L764.1,583.9 M727.1,584.9 L727.2,584.7 L727.5,584.6 L727.8,584.5 L728.3,584.4 L728.9,584.3 L729.6,584.2 L730.3,584.1 L731.2,584.0 L732.2,584.0 L733.3,584.0 L734.4,584.0 L735.6,584.0 L736.9,584.0 L738.2,584.0 L739.6,584.1 L741.0,584.2 L742.5,584.3 L743.9,584.5 L745.4,584.6 L746.9,584.8 L748.4,585.0 L749.8,585.2 L751.3,585.4 L752.6,585.6 L754.0,585.9 L755.3,586.2 L756.5,586.5 L757.7,586.8 L758.7,587.1 L759.7,587.4 L760.7,587.7 L761.5,588.0 L762.2,588.4 L762.8,588.7 L763.3,589.0 L763.7,589.4 L763.9,589.7 L764.1,590.0 L764.1,590.4 M727.2,591.4 L727.3,591.3 L727.6,591.1 L728.0,591.0 L728.5,590.9 L729.2,590.8 L729.9,590.7 L730.7,590.7 L731.7,590.6 L732.7,590.6 L733.8,590.6 L735.0,590.6 L736.2,590.6 L737.5,590.6 L738.9,590.7 L740.3,590.8 L741.7,590.9 L743.2,591.0 L744.6,591.1 L746.1,591.3 L747.6,591.5 L749.0,591.7 L750.5,591.9 L751.9,592.1 L753.3,592.4 L754.6,592.6 L755.9,592.9 L757.1,593.2 L758.2,593.5 L759.2,593.8 L760.2,594.1 L761.0,594.4 L761.8,594.8 L762.5,595.1 L763.0,595.4 L763.5,595.8 L763.8,596.1 L764.0,596.5 L764.1,596.8 L764.1,597.1 M727.1,598.1 L727.2,598.0 L727.5,597.8 L727.8,597.7 L728.3,597.6 L728.8,597.5 L729.5,597.4 L730.3,597.3 L731.2,597.2 L732.1,597.2 L733.2,597.2 L734.3,597.2 L735.5,597.2 L736.8,597.2 L738.1,597.2 L739.5,597.3 L740.9,597.4 L742.4,597.5 L743.8,597.6 L745.3,597.8 L746.8,598.0 L748.3,598.2 L749.7,598.4 L751.1,598.6 L752.5,598.8 L753.9,599.1 L755.2,599.4 L756.4,599.6 L757.6,599.9 L758.7,600.2 L759.7,600.5 L760.6,600.9 L761.4,601.2 L762.1,601.5 L762.7,601.9 L763.2,602.2 L763.6,602.5 L763.9,602.9 L764.1,603.2 L764.1,603.5 M727.1,604.6 L727.3,604.5 L727.6,604.4 L728.0,604.2 L728.5,604.1 L729.1,604.0 L729.8,603.9 L730.7,603.9 L731.6,603.8 L732.6,603.8 L733.7,603.8 L734.9,603.8 L736.1,603.8 L737.4,603.8 L738.8,603.9 L740.2,604.0 L741.6,604.1 L743.0,604.2 L744.5,604.3 L746.0,604.5 L747.5,604.6 L748.9,604.8 L750.4,605.1 L751.8,605.3 L753.2,605.5 L754.5,605.8 L755.8,606.1 L757.0,606.4 L758.1,606.7 L759.1,607.0 L760.1,607.3 L761.0,607.6 L761.7,608.0 L762.4,608.3 L763.0,608.6 L763.4,609.0 L763.8,609.3 L764.0,609.6 L764.1,610.0 L764.1,610.3 M727.1,611.3 L727.2,611.2 L727.4,611.0 L727.8,610.9 L728.2,610.8 L728.8,610.7 L729.4,610.6 L730.2,610.5 L731.1,610.4 L732.0,610.4 L733.1,610.4 L734.2,610.4 L735.4,610.4 L736.7,610.4 L738.0,610.4 L739.4,610.5 L740.8,610.6 L742.2,610.7 L743.7,610.8 L745.2,611.0 L746.7,611.2 L748.1,611.3 L749.6,611.5 L751.0,611.8 L752.4,612.0 L753.8,612.3 L755.1,612.5 L756.3,612.8 L757.5,613.1 L758.6,613.4 L759.6,613.7 L760.5,614.0 L761.3,614.4 L762.1,614.7 L762.7,615.0 L763.2,615.4 L763.6,615.7 L763.9,616.0 L764.1,616.4 L764.1,616.7 M727.1,617.9 L727.3,617.7 L727.6,617.6 L728.0,617.4 L728.5,617.3 L729.1,617.2 L729.8,617.1 L730.6,617.1 L731.5,617.0 L732.5,617.0 L733.6,617.0 L734.8,617.0 L736.0,617.0 L737.3,617.0 L738.6,617.1 L740.0,617.1 L741.5,617.2 L742.9,617.4 L744.4,617.5 L745.9,617.7 L747.3,617.8 L748.8,618.0 L750.3,618.2 L751.7,618.5 L753.1,618.7 L754.4,619.0 L755.7,619.3 L756.9,619.5 L758.0,619.8 L759.1,620.2 L760.0,620.5 L760.9,620.8 L761.7,621.1 L762.4,621.5 L762.9,621.8 L763.4,622.1 L763.7,622.5 L764.0,622.8 L764.1,623.1 L764.1,623.5 M727.1,624.5 L727.2,624.4 L727.4,624.2 L727.7,624.1 L728.2,624.0 L728.7,623.9 L729.4,623.8 L730.1,623.7 L731.0,623.6 L732.0,623.6 L733.0,623.6 L734.1,623.6 L735.3,623.6 L736.6,623.6 L737.9,623.6 L739.3,623.7 L740.7,623.8 L742.1,623.9 L743.6,624.0 L745.1,624.2 L746.6,624.3 L748.0,624.5 L749.5,624.7 L750.9,624.9 L752.3,625.2 L753.7,625.4 L755.0,625.7 L756.2,626.0 L757.4,626.3 L758.5,626.6 L759.5,626.9 L760.4,627.2 L761.3,627.5 L762.0,627.9 L762.6,628.2 L763.2,628.6 L763.6,628.9 L763.9,629.2 L764.0,629.6 L764.1,629.9" fill="none" stroke="#fff" stroke-width="2.7" stroke-linecap="round" stroke-linejoin="round"/>
<path d="M557.6,518.0 L557.6,516.3 L557.6,514.5 L557.6,512.8 L557.6,511.0 L557.6,509.3 L557.6,507.5 L557.6,505.8 L557.6,504.1 L557.6,502.3 L557.6,500.6 L557.6,498.8 L557.6,497.1 L557.6,495.3 L557.6,493.6 L557.6,491.9 L557.6,490.1 L557.6,488.4 L557.6,486.6 L557.6,484.9 L557.6,483.1 L557.6,481.4 L557.6,479.7 L557.6,477.9 L557.6,476.2 L557.6,474.4 L557.6,472.7 L557.6,470.9 L557.6,469.2 L557.6,467.5 L557.6,465.7 L557.6,464.0 L557.6,462.2 L557.6,460.5 L557.6,458.7 L557.6,457.0 L557.7,455.3 L557.8,453.5 L557.9,451.8 L558.1,450.0 L558.3,448.3 L558.5,446.6 L558.8,444.9 L559.1,443.2 L559.5,441.5 L559.9,439.8 L560.3,438.1 L560.7,436.4 L561.2,434.7 L561.7,433.0 L562.3,431.4 L562.9,429.8 L563.5,428.1 L564.2,426.5 L564.9,424.9 L565.6,423.3 L566.3,421.8 L567.1,420.2 L567.9,418.7 L568.8,417.1 L569.7,415.6 L570.6,414.1 L571.5,412.7 L572.5,411.2 L573.5,409.8 L574.5,408.4 L575.5,407.0 L576.6,405.6 L577.7,404.3 L578.8,402.9 L580.0,401.6 L581.1,400.3 L582.3,399.1 L583.6,397.8 L584.8,396.6 L586.1,395.4 L587.4,394.2 L588.7,393.1 L590.0,392.0 L591.4,390.9 L592.7,389.8 L594.1,388.7 L595.5,387.7 L597.0,386.7 L598.4,385.7 L599.9,384.8 L601.4,383.9 L602.9,383.0 L604.4,382.1 L605.9,381.3 L607.4,380.5 L609.0,379.7 L610.6,378.9 L612.1,378.2 L613.7,377.5 L615.3,376.8 L617.0,376.1 L618.6,375.5 L620.2,374.9 L621.9,374.4 L623.5,373.8 L625.2,373.3 L626.9,372.8 L628.6,372.4 L630.2,372.0 L631.9,371.6 L633.6,371.2 L635.4,370.9 L637.1,370.5 L638.8,370.3 L640.5,370.0 L642.2,369.8 L644.0,369.6 L645.7,369.4 L647.4,369.3 L649.2,369.2 L650.9,369.1 L652.7,369.0 L654.4,369.0 L656.1,369.0 L657.9,369.0 L659.6,369.1 L661.4,369.2 L663.1,369.4 L664.8,369.5 L666.6,369.7 L668.3,370.0 L670.0,370.2 L671.7,370.5 L673.4,370.9 L675.1,371.3 L676.8,371.7 L678.5,372.1 L680.2,372.6 L681.9,373.1 L683.5,373.6 L685.2,374.1 L686.8,374.7 L688.5,375.4 L690.1,376.0 L691.7,376.7 L693.3,377.4 L694.8,378.2 L696.4,378.9 L697.9,379.8 L699.5,380.6 L701.0,381.5 L702.5,382.3 L704.0,383.3 L705.4,384.2 L706.9,385.2 L708.3,386.2 L709.7,387.2 L711.1,388.3 L712.4,389.4 L713.8,390.5 L715.1,391.6 L716.4,392.8 L717.7,394.0 L718.9,395.2 L720.1,396.4 L721.3,397.7 L722.5,399.0 L723.7,400.3 L724.8,401.6 L725.9,403.0 L727.0,404.3 L728.0,405.7 L729.1,407.1 L730.0,408.6 L731.0,410.0 L732.0,411.5 L732.9,413.0 L733.7,414.5 L734.6,416.0 L735.4,417.5 L736.2,419.1 L737.0,420.7 L737.7,422.2 L738.4,423.8 L739.1,425.5 L739.7,427.1 L740.3,428.7 L740.9,430.4 L741.4,432.0 L741.9,433.7 L742.4,435.4 L742.9,437.0 L743.3,438.7 L743.7,440.4 L744.0,442.1 L744.3,443.9 L744.6,445.6 L744.8,447.3 L745.0,449.0 L745.2,450.8 L745.4,452.5 L745.5,454.2 L745.5,456.0 L745.6,457.7 L745.6,459.5 L745.6,461.2 L745.6,463.0 L745.6,464.7 L745.6,466.4 L745.6,468.2 L745.6,469.9 L745.6,471.7 L745.6,473.4 L745.6,475.2 L745.6,476.9 L745.6,478.6 L745.6,480.4 L745.6,482.1 L745.6,483.9 L745.6,485.6 L745.6,487.4 L745.6,489.1 L745.6,490.8 L745.6,492.6 L745.6,494.3 L745.6,496.1 L745.6,497.8 L745.6,499.6 L745.6,501.3 L745.6,503.0 L745.6,504.8 L745.6,506.5 L745.6,508.3 L745.6,510.0 L745.6,511.7 L745.6,513.5 L745.6,515.2 L745.6,517.0 L745.6,518.7 L745.6,520.5 L745.6,522.2 L745.6,523.9 L745.6,525.7 L745.6,527.4 L745.6,529.2 L745.6,530.9 L745.6,532.7 L745.6,534.4 L745.6,536.1 L745.6,537.9 L745.6,539.6 L745.6,541.4 L745.6,543.1 L745.6,544.9 L745.6,546.6 L745.6,548.3 L745.6,550.1 L745.6,551.8 L745.6,553.6 L745.6,555.3 L745.6,557.1 L745.6,558.8 L745.6,560.5 L745.6,562.3 L745.6,564.0 L745.6,565.8 L745.6,567.5 L745.6,569.3 L745.6,571.0 L745.6,572.7 L745.6,574.5 L745.6,576.2 L745.6,578.0 L745.6,579.7 L745.6,581.5 L745.6,583.2 L745.6,584.9 L745.6,586.7 L745.6,588.4 L745.6,590.2 L745.6,591.9 L745.6,593.7 L745.6,595.4 L745.6,597.1 L745.6,598.9 L745.6,600.6 L745.6,602.4 L745.6,604.1 L745.6,605.9 L745.6,607.6 L745.6,609.3 L745.6,611.1 L745.6,612.8 L745.6,614.6 L745.6,616.3 L745.6,618.1 L745.6,619.8 L745.6,621.5 L745.6,623.3 L745.6,625.0 L745.6,626.8 L745.6,628.5 L745.6,630.3 L745.6,632.0" fill="none" stroke="#000" stroke-width="15.5"/>
<path d="M557.6,518.0 L557.6,516.3 L557.6,514.5 L557.6,512.8 L557.6,511.0 L557.6,509.3 L557.6,507.5 L557.6,505.8 L557.6,504.1 L557.6,502.3 L557.6,500.6 L557.6,498.8 L557.6,497.1 L557.6,495.3 L557.6,493.6 L557.6,491.9 L557.6,490.1 L557.6,488.4 L557.6,486.6 L557.6,484.9 L557.6,483.1 L557.6,481.4 L557.6,479.7 L557.6,477.9 L557.6,476.2 L557.6,474.4 L557.6,472.7 L557.6,470.9 L557.6,469.2 L557.6,467.5 L557.6,465.7 L557.6,464.0 L557.6,462.2 L557.6,460.5 L557.6,458.7 L557.6,457.0 L557.7,455.3 L557.8,453.5 L557.9,451.8 L558.1,450.0 L558.3,448.3 L558.5,446.6 L558.8,444.9 L559.1,443.2 L559.5,441.5 L559.9,439.8 L560.3,438.1 L560.7,436.4 L561.2,434.7 L561.7,433.0 L562.3,431.4 L562.9,429.8 L563.5,428.1 L564.2,426.5 L564.9,424.9 L565.6,423.3 L566.3,421.8 L567.1,420.2 L567.9,418.7 L568.8,417.1 L569.7,415.6 L570.6,414.1 L571.5,412.7 L572.5,411.2 L573.5,409.8 L574.5,408.4 L575.5,407.0 L576.6,405.6 L577.7,404.3 L578.8,402.9 L580.0,401.6 L581.1,400.3 L582.3,399.1 L583.6,397.8 L584.8,396.6 L586.1,395.4 L587.4,394.2 L588.7,393.1 L590.0,392.0 L591.4,390.9 L592.7,389.8 L594.1,388.7 L595.5,387.7 L597.0,386.7 L598.4,385.7 L599.9,384.8 L601.4,383.9 L602.9,383.0 L604.4,382.1 L605.9,381.3 L607.4,380.5 L609.0,379.7 L610.6,378.9 L612.1,378.2 L613.7,377.5 L615.3,376.8 L617.0,376.1 L618.6,375.5 L620.2,374.9 L621.9,374.4 L623.5,373.8 L625.2,373.3 L626.9,372.8 L628.6,372.4 L630.2,372.0 L631.9,371.6 L633.6,371.2 L635.4,370.9 L637.1,370.5 L638.8,370.3 L640.5,370.0 L642.2,369.8 L644.0,369.6 L645.7,369.4 L647.4,369.3 L649.2,369.2 L650.9,369.1 L652.7,369.0 L654.4,369.0 L656.1,369.0 L657.9,369.0 L659.6,369.1 L661.4,369.2 L663.1,369.4 L664.8,369.5 L666.6,369.7 L668.3,370.0 L670.0,370.2 L671.7,370.5 L673.4,370.9 L675.1,371.3 L676.8,371.7 L678.5,372.1 L680.2,372.6 L681.9,373.1 L683.5,373.6 L685.2,374.1 L686.8,374.7 L688.5,375.4 L690.1,376.0 L691.7,376.7 L693.3,377.4 L694.8,378.2 L696.4,378.9 L697.9,379.8 L699.5,380.6 L701.0,381.5 L702.5,382.3 L704.0,383.3 L705.4,384.2 L706.9,385.2 L708.3,386.2 L709.7,387.2 L711.1,388.3 L712.4,389.4 L713.8,390.5 L715.1,391.6 L716.4,392.8 L717.7,394.0 L718.9,395.2 L720.1,396.4 L721.3,397.7 L722.5,399.0 L723.7,400.3 L724.8,401.6 L725.9,403.0 L727.0,404.3 L728.0,405.7 L729.1,407.1 L730.0,408.6 L731.0,410.0 L732.0,411.5 L732.9,413.0 L733.7,414.5 L734.6,416.0 L735.4,417.5 L736.2,419.1 L737.0,420.7 L737.7,422.2 L738.4,423.8 L739.1,425.5 L739.7,427.1 L740.3,428.7 L740.9,430.4 L741.4,432.0 L741.9,433.7 L742.4,435.4 L742.9,437.0 L743.3,438.7 L743.7,440.4 L744.0,442.1 L744.3,443.9 L744.6,445.6 L744.8,447.3 L745.0,449.0 L745.2,450.8 L745.4,452.5 L745.5,454.2 L745.5,456.0 L745.6,457.7 L745.6,459.5 L745.6,461.2 L745.6,463.0 L745.6,464.7 L745.6,466.4 L745.6,468.2 L745.6,469.9 L745.6,471.7 L745.6,473.4 L745.6,475.2 L745.6,476.9 L745.6,478.6 L745.6,480.4 L745.6,482.1 L745.6,483.9 L745.6,485.6 L745.6,487.4 L745.6,489.1 L745.6,490.8 L745.6,492.6 L745.6,494.3 L745.6,496.1 L745.6,497.8 L745.6,499.6 L745.6,501.3 L745.6,503.0 L745.6,504.8 L745.6,506.5 L745.6,508.3 L745.6,510.0 L745.6,511.7 L745.6,513.5 L745.6,515.2 L745.6,517.0 L745.6,518.7 L745.6,520.5 L745.6,522.2 L745.6,523.9 L745.6,525.7 L745.6,527.4 L745.6,529.2 L745.6,530.9 L745.6,532.7 L745.6,534.4 L745.6,536.1 L745.6,537.9 L745.6,539.6 L745.6,541.4 L745.6,543.1 L745.6,544.9 L745.6,546.6 L745.6,548.3 L745.6,550.1 L745.6,551.8 L745.6,553.6 L745.6,555.3 L745.6,557.1 L745.6,558.8 L745.6,560.5 L745.6,562.3 L745.6,564.0 L745.6,565.8 L745.6,567.5 L745.6,569.3 L745.6,571.0 L745.6,572.7 L745.6,574.5 L745.6,576.2 L745.6,578.0 L745.6,579.7 L745.6,581.5 L745.6,583.2 L745.6,584.9 L745.6,586.7 L745.6,588.4 L745.6,590.2 L745.6,591.9 L745.6,593.7 L745.6,595.4 L745.6,597.1 L745.6,598.9 L745.6,600.6 L745.6,602.4 L745.6,604.1 L745.6,605.9 L745.6,607.6 L745.6,609.3 L745.6,611.1 L745.6,612.8 L745.6,614.6 L745.6,616.3 L745.6,618.1 L745.6,619.8 L745.6,621.5 L745.6,623.3 L745.6,625.0 L745.6,626.8 L745.6,628.5 L745.6,630.3 L745.6,632.0" fill="none" stroke="#fff" stroke-width="13"/>
<path d="M551.1,518.5 L564.1,513.5 M551.1,510.0 L564.1,505.0 M551.1,501.5 L564.1,496.5 M551.1,493.0 L564.1,488.0 M551.1,484.5 L564.1,479.5 M551.1,476.0 L564.1,471.0 M551.1,467.5 L564.1,462.5 M551.1,458.8 L564.2,454.2 M551.6,449.7 L565.1,446.4 M553.0,440.6 L566.8,438.7 M555.3,431.8 L569.2,431.3 M558.5,423.2 L572.4,424.1 M562.5,415.0 L576.2,417.2 M567.3,407.2 L580.7,410.8 M572.8,400.0 L585.8,404.8 M578.9,393.2 L591.5,399.2 M585.6,387.1 L597.6,394.2 M592.8,381.6 L604.2,389.7 M600.5,376.8 L611.1,385.9 M608.6,372.6 L618.3,382.6 M616.9,369.2 L625.8,379.9 M625.5,366.4 L633.5,377.8 M634.3,364.4 L641.4,376.4 M643.2,363.1 L649.3,375.6 M652.2,362.5 L657.3,375.5 M661.3,362.7 L665.1,376.1 M670.4,363.7 L672.9,377.4 M679.3,365.5 L680.6,379.4 M688.0,368.2 L688.0,382.1 M696.4,371.7 L695.1,385.6 M704.5,375.9 L701.9,389.6 M712.1,380.9 L708.2,394.3 M719.2,386.6 L714.1,399.5 M725.8,392.9 L719.5,405.3 M731.7,399.8 L724.3,411.6 M737.0,407.3 L728.5,418.3 M741.5,415.2 L732.0,425.3 M745.3,423.5 L734.8,432.7 M748.3,432.1 L737.0,440.2 M750.4,441.0 L738.4,448.0 M751.7,450.0 L739.1,455.9 M752.1,458.9 L739.1,463.9 M752.1,467.4 L739.1,472.4 M752.1,475.9 L739.1,480.9 M752.1,484.4 L739.1,489.4 M752.1,492.9 L739.1,497.9 M752.1,501.4 L739.1,506.4 M752.1,509.9 L739.1,514.9 M752.1,518.4 L739.1,523.4 M752.1,526.9 L739.1,531.9 M752.1,535.4 L739.1,540.4 M752.1,543.9 L739.1,548.9 M752.1,552.4 L739.1,557.4 M752.1,560.9 L739.1,565.9 M752.1,569.4 L739.1,574.4 M752.1,577.9 L739.1,582.9 M752.1,586.4 L739.1,591.4 M752.1,594.9 L739.1,599.9 M752.1,603.4 L739.1,608.4 M752.1,611.9 L739.1,616.9 M752.1,620.4 L739.1,625.4" fill="none" stroke="#000" stroke-width="2.2"/>
<path d="M539.1,517.0 L539.2,516.7 L539.3,516.4 L539.6,516.1 L540.0,515.8 L540.6,515.5 L541.2,515.3 L541.9,515.0 L542.8,514.8 L543.7,514.6 L544.7,514.4 L545.8,514.2 L547.0,514.1 L548.2,513.9 L549.5,513.8 L550.9,513.7 L552.3,513.7 L553.7,513.6 L555.2,513.6 L556.7,513.5 L558.1,513.6 L559.6,513.6 L561.1,513.6 L562.5,513.7 L563.9,513.8 L565.3,513.8 L566.6,513.9 L567.9,514.1 L569.1,514.2 L570.2,514.3 L571.2,514.5 L572.2,514.7 L573.1,514.8 L573.8,515.0 L574.5,515.2 L575.0,515.4 L575.5,515.5 L575.8,515.7 L576.0,515.9 L576.1,516.1 L576.1,516.2 M539.1,511.1 L539.2,510.7 L539.5,510.5 L539.8,510.2 L540.3,509.9 L540.8,509.6 L541.5,509.4 L542.3,509.1 L543.2,508.9 L544.2,508.7 L545.2,508.5 L546.3,508.4 L547.6,508.2 L548.8,508.1 L550.2,508.0 L551.5,507.9 L553.0,507.8 L554.4,507.8 L555.9,507.8 L557.3,507.7 L558.8,507.8 L560.3,507.8 L561.7,507.8 L563.2,507.9 L564.6,508.0 L565.9,508.1 L567.2,508.2 L568.4,508.3 L569.6,508.5 L570.7,508.6 L571.7,508.8 L572.6,508.9 L573.4,509.1 L574.1,509.3 L574.7,509.5 L575.2,509.6 L575.6,509.8 L575.9,510.0 L576.1,510.2 L576.1,510.3 M539.2,505.1 L539.3,504.8 L539.6,504.5 L540.0,504.2 L540.5,503.9 L541.1,503.7 L541.9,503.4 L542.7,503.2 L543.6,503.0 L544.6,502.8 L545.7,502.6 L546.9,502.4 L548.1,502.3 L549.4,502.1 L550.8,502.0 L552.2,501.9 L553.6,501.9 L555.1,501.8 L556.5,501.8 L558.0,501.8 L559.5,501.8 L561.0,501.8 L562.4,501.9 L563.8,501.9 L565.2,502.0 L566.5,502.1 L567.8,502.2 L569.0,502.3 L570.1,502.4 L571.2,502.6 L572.1,502.7 L573.0,502.9 L573.8,503.0 L574.4,503.2 L575.0,503.3 L575.4,503.5 L575.8,503.6 L576.0,503.8 L576.1,503.9 L576.1,504.1 M539.1,497.1 L539.2,496.8 L539.4,496.4 L539.8,496.0 L540.2,495.7 L540.8,495.3 L541.5,495.0 L542.2,494.7 L543.1,494.4 L544.1,494.1 L545.1,493.8 L546.3,493.6 L547.5,493.4 L548.7,493.2 L550.1,493.0 L551.4,492.8 L552.8,492.6 L554.3,492.5 L555.7,492.4 L557.2,492.3 L558.7,492.2 L560.2,492.2 L561.6,492.1 L563.1,492.1 L564.5,492.1 L565.8,492.1 L567.1,492.1 L568.3,492.2 L569.5,492.2 L570.6,492.3 L571.6,492.3 L572.5,492.4 L573.4,492.5 L574.1,492.6 L574.7,492.7 L575.2,492.8 L575.6,492.8 L575.9,492.9 L576.1,493.0 L576.1,493.1 M539.1,484.3 L539.3,484.0 L539.6,483.6 L540.0,483.2 L540.5,482.8 L541.1,482.5 L541.8,482.2 L542.6,481.8 L543.5,481.5 L544.5,481.3 L545.6,481.0 L546.8,480.7 L548.0,480.5 L549.3,480.3 L550.7,480.1 L552.1,479.9 L553.5,479.8 L555.0,479.7 L556.4,479.6 L557.9,479.5 L559.4,479.4 L560.8,479.3 L562.3,479.3 L563.7,479.3 L565.1,479.3 L566.4,479.3 L567.7,479.3 L568.9,479.4 L570.0,479.4 L571.1,479.5 L572.1,479.6 L572.9,479.6 L573.7,479.7 L574.4,479.8 L575.0,479.9 L575.4,480.0 L575.8,480.1 L576.0,480.2 L576.1,480.3 L576.1,480.3 M539.1,471.8 L539.2,471.4 L539.4,471.0 L539.7,470.6 L540.2,470.2 L540.7,469.9 L541.4,469.5 L542.2,469.2 L543.0,468.9 L544.0,468.6 L545.0,468.3 L546.2,468.1 L547.4,467.8 L548.6,467.6 L549.9,467.4 L551.3,467.2 L552.7,467.1 L554.2,466.9 L555.6,466.8 L557.1,466.7 L558.6,466.6 L560.1,466.6 L561.5,466.5 L562.9,466.5 L564.3,466.5 L565.7,466.5 L567.0,466.5 L568.2,466.6 L569.4,466.6 L570.5,466.7 L571.5,466.7 L572.5,466.8 L573.3,466.9 L574.0,467.0 L574.7,467.1 L575.2,467.1 L575.6,467.2 L575.9,467.3 L576.0,467.4 L576.1,467.5 M539.1,458.8 L539.3,458.4 L539.5,458.0 L539.9,457.6 L540.4,457.2 L541.0,456.9 L541.7,456.5 L542.6,456.2 L543.5,455.9 L544.5,455.6 L545.6,455.3 L546.7,455.0 L548.0,454.8 L549.3,454.6 L550.6,454.4 L552.0,454.3 L553.5,454.1 L554.9,454.0 L556.4,453.9 L557.9,453.9 L559.4,453.9 L560.8,453.8 L562.3,453.9 L563.7,453.9 L565.1,454.0 L566.4,454.0 L567.7,454.1 L568.9,454.3 L570.1,454.4 L571.1,454.5 L572.1,454.7 L573.0,454.8 L573.8,455.0 L574.4,455.1 L575.0,455.3 L575.5,455.5 L575.8,455.6 L576.0,455.7 L576.2,455.9 L576.1,456.0 M540.3,443.3 L540.5,442.9 L540.7,442.5 L541.1,442.2 L541.6,441.8 L542.2,441.5 L542.9,441.2 L543.7,441.0 L544.6,440.8 L545.6,440.7 L546.7,440.6 L547.8,440.5 L549.1,440.4 L550.3,440.4 L551.7,440.5 L553.1,440.5 L554.5,440.6 L555.9,440.8 L557.4,440.9 L558.9,441.1 L560.3,441.3 L561.8,441.6 L563.2,441.9 L564.6,442.2 L566.0,442.5 L567.3,442.8 L568.6,443.1 L569.8,443.4 L571.0,443.8 L572.0,444.1 L573.0,444.4 L573.9,444.8 L574.7,445.1 L575.4,445.4 L576.0,445.7 L576.4,445.9 L576.8,446.2 L577.1,446.4 L577.2,446.5 L577.3,446.7 L577.2,446.8 M544.2,427.1 L544.5,426.7 L544.9,426.4 L545.3,426.1 L545.9,425.9 L546.6,425.7 L547.4,425.6 L548.2,425.6 L549.2,425.6 L550.2,425.7 L551.3,425.8 L552.5,426.0 L553.7,426.2 L555.0,426.5 L556.3,426.8 L557.6,427.1 L559.0,427.6 L560.4,428.0 L561.8,428.5 L563.2,429.0 L564.6,429.5 L566.0,430.1 L567.3,430.6 L568.6,431.2 L569.9,431.8 L571.1,432.4 L572.2,433.0 L573.3,433.5 L574.3,434.1 L575.3,434.7 L576.1,435.2 L576.9,435.7 L577.6,436.1 L578.2,436.6 L578.6,436.9 L579.0,437.3 L579.3,437.6 L579.5,437.8 L579.5,438.0 L579.5,438.1 M550.5,411.9 L550.8,411.5 L551.2,411.2 L551.6,411.0 L552.2,410.9 L552.8,410.8 L553.5,410.8 L554.3,410.9 L555.2,411.1 L556.1,411.3 L557.1,411.6 L558.2,412.0 L559.3,412.4 L560.5,412.9 L561.7,413.5 L562.9,414.1 L564.2,414.8 L565.4,415.5 L566.7,416.2 L568.0,417.0 L569.2,417.8 L570.5,418.6 L571.7,419.4 L572.9,420.3 L574.0,421.1 L575.1,422.0 L576.2,422.8 L577.1,423.6 L578.1,424.4 L578.9,425.2 L579.7,425.9 L580.4,426.5 L581.0,427.2 L581.6,427.7 L582.0,428.2 L582.4,428.7 L582.6,429.1 L582.8,429.4 L582.9,429.6 L582.9,429.8 L582.8,429.8 M559.3,397.6 L559.7,397.4 L560.1,397.2 L560.6,397.1 L561.2,397.1 L561.8,397.2 L562.5,397.4 L563.3,397.7 L564.2,398.1 L565.1,398.5 L566.0,399.1 L567.0,399.7 L568.0,400.4 L569.1,401.1 L570.1,401.9 L571.2,402.8 L572.3,403.7 L573.4,404.7 L574.5,405.7 L575.6,406.7 L576.7,407.7 L577.8,408.8 L578.8,409.8 L579.8,410.9 L580.7,411.9 L581.6,413.0 L582.5,414.0 L583.3,415.0 L584.0,415.9 L584.7,416.8 L585.3,417.6 L585.9,418.4 L586.3,419.1 L586.7,419.7 L587.1,420.3 L587.3,420.7 L587.5,421.1 L587.6,421.4 L587.6,421.6 L587.5,421.7 M569.4,385.6 L569.8,385.4 L570.2,385.2 L570.7,385.2 L571.2,385.2 L571.8,385.4 L572.4,385.6 L573.1,386.0 L573.8,386.4 L574.6,387.0 L575.4,387.6 L576.3,388.4 L577.2,389.2 L578.1,390.0 L579.0,391.0 L579.9,392.0 L580.8,393.0 L581.8,394.2 L582.7,395.3 L583.6,396.5 L584.6,397.7 L585.4,398.9 L586.3,400.1 L587.1,401.3 L587.9,402.5 L588.7,403.7 L589.4,404.8 L590.1,405.9 L590.7,407.0 L591.3,408.0 L591.8,409.0 L592.3,409.8 L592.7,410.7 L593.0,411.4 L593.3,412.0 L593.5,412.6 L593.6,413.0 L593.7,413.4 L593.7,413.6 L593.7,413.8 L593.6,413.8 M581.0,375.4 L581.4,375.2 L581.8,375.1 L582.3,375.2 L582.9,375.4 L583.4,375.7 L584.0,376.1 L584.7,376.6 L585.4,377.2 L586.1,377.9 L586.8,378.7 L587.6,379.5 L588.3,380.5 L589.1,381.5 L589.9,382.6 L590.7,383.7 L591.5,384.9 L592.3,386.1 L593.1,387.4 L593.8,388.7 L594.6,390.0 L595.3,391.3 L596.0,392.6 L596.6,393.9 L597.3,395.2 L597.9,396.4 L598.4,397.6 L598.9,398.8 L599.4,399.9 L599.8,400.9 L600.2,401.9 L600.5,402.8 L600.8,403.6 L601.0,404.3 L601.2,404.9 L601.3,405.4 L601.4,405.8 L601.4,406.1 L601.4,406.3 L601.3,406.4 M593.3,367.1 L593.8,367.0 L594.2,367.1 L594.7,367.3 L595.2,367.6 L595.8,368.0 L596.4,368.5 L597.0,369.1 L597.6,369.8 L598.3,370.6 L598.9,371.5 L599.6,372.5 L600.3,373.5 L600.9,374.7 L601.6,375.9 L602.3,377.1 L602.9,378.4 L603.6,379.7 L604.2,381.0 L604.9,382.4 L605.5,383.7 L606.0,385.1 L606.6,386.5 L607.1,387.8 L607.6,389.1 L608.1,390.4 L608.5,391.6 L608.9,392.7 L609.2,393.8 L609.5,394.9 L609.8,395.8 L610.0,396.7 L610.2,397.4 L610.4,398.1 L610.5,398.7 L610.5,399.2 L610.5,399.5 L610.5,399.8 L610.5,399.9 L610.4,399.9 M605.9,360.7 L606.3,360.6 L606.7,360.7 L607.2,360.8 L607.7,361.1 L608.2,361.5 L608.7,362.0 L609.3,362.6 L609.8,363.4 L610.4,364.2 L611.0,365.1 L611.6,366.1 L612.2,367.1 L612.7,368.3 L613.3,369.5 L613.9,370.7 L614.5,372.0 L615.0,373.4 L615.6,374.7 L616.1,376.1 L616.6,377.5 L617.1,378.9 L617.6,380.3 L618.0,381.7 L618.4,383.0 L618.8,384.3 L619.1,385.6 L619.4,386.8 L619.7,388.0 L619.9,389.0 L620.2,390.0 L620.3,391.0 L620.5,391.8 L620.6,392.5 L620.7,393.1 L620.7,393.7 L620.7,394.1 L620.7,394.4 L620.6,394.6 L620.6,394.6 M619.3,355.8 L619.7,355.8 L620.2,356.0 L620.7,356.3 L621.1,356.6 L621.6,357.1 L622.1,357.8 L622.6,358.5 L623.2,359.3 L623.7,360.2 L624.2,361.2 L624.7,362.2 L625.2,363.4 L625.7,364.6 L626.2,365.9 L626.7,367.2 L627.2,368.5 L627.6,369.9 L628.1,371.3 L628.5,372.8 L628.9,374.2 L629.2,375.6 L629.6,377.0 L629.9,378.4 L630.2,379.8 L630.4,381.1 L630.7,382.3 L630.9,383.5 L631.1,384.6 L631.2,385.7 L631.3,386.7 L631.4,387.5 L631.5,388.3 L631.5,389.0 L631.5,389.6 L631.5,390.0 L631.5,390.4 L631.4,390.6 L631.4,390.8 L631.3,390.8 M632.9,352.5 L633.4,352.5 L633.8,352.6 L634.2,352.9 L634.7,353.3 L635.2,353.8 L635.6,354.4 L636.1,355.1 L636.5,355.9 L637.0,356.8 L637.4,357.8 L637.9,358.9 L638.3,360.0 L638.7,361.2 L639.1,362.5 L639.5,363.8 L639.8,365.2 L640.2,366.6 L640.5,368.1 L640.8,369.5 L641.1,371.0 L641.4,372.4 L641.6,373.9 L641.8,375.3 L642.0,376.7 L642.2,378.0 L642.3,379.3 L642.4,380.5 L642.5,381.7 L642.6,382.8 L642.7,383.8 L642.7,384.8 L642.7,385.6 L642.7,386.3 L642.6,387.0 L642.6,387.5 L642.5,387.9 L642.5,388.2 L642.4,388.4 L642.3,388.4 M647.6,350.8 L648.0,350.9 L648.4,351.1 L648.9,351.5 L649.3,352.0 L649.7,352.6 L650.1,353.3 L650.5,354.1 L650.8,355.0 L651.2,356.0 L651.5,357.0 L651.9,358.2 L652.2,359.4 L652.5,360.7 L652.7,362.0 L653.0,363.4 L653.2,364.8 L653.4,366.3 L653.5,367.8 L653.7,369.2 L653.8,370.7 L653.9,372.2 L654.0,373.6 L654.1,375.1 L654.1,376.4 L654.1,377.8 L654.1,379.0 L654.1,380.3 L654.1,381.4 L654.0,382.5 L653.9,383.4 L653.8,384.3 L653.8,385.1 L653.7,385.8 L653.6,386.4 L653.4,386.8 L653.3,387.2 L653.2,387.4 L653.1,387.5 L653.0,387.5 M662.5,350.8 L662.9,350.9 L663.4,351.1 L663.7,351.5 L664.1,351.9 L664.5,352.5 L664.8,353.2 L665.1,354.0 L665.4,354.9 L665.6,355.9 L665.8,356.9 L666.0,358.1 L666.2,359.3 L666.3,360.6 L666.4,361.9 L666.5,363.3 L666.5,364.7 L666.5,366.2 L666.5,367.7 L666.5,369.1 L666.4,370.6 L666.3,372.1 L666.2,373.6 L666.1,375.0 L665.9,376.4 L665.7,377.7 L665.5,379.0 L665.3,380.3 L665.1,381.4 L664.9,382.5 L664.7,383.5 L664.5,384.4 L664.3,385.3 L664.1,386.0 L663.8,386.6 L663.7,387.1 L663.5,387.5 L663.3,387.7 L663.2,387.9 L663.0,387.9 M678.5,353.1 L678.9,353.3 L679.2,353.6 L679.5,354.1 L679.8,354.7 L680.1,355.3 L680.2,356.1 L680.4,357.0 L680.5,357.9 L680.6,359.0 L680.6,360.1 L680.6,361.3 L680.5,362.5 L680.4,363.8 L680.2,365.2 L680.0,366.6 L679.8,368.0 L679.6,369.4 L679.3,370.9 L679.0,372.3 L678.6,373.8 L678.3,375.2 L677.9,376.6 L677.5,378.0 L677.1,379.3 L676.7,380.6 L676.2,381.8 L675.8,382.9 L675.4,384.0 L675.0,385.0 L674.6,385.9 L674.2,386.7 L673.9,387.4 L673.5,388.1 L673.2,388.6 L673.0,389.0 L672.7,389.3 L672.5,389.5 L672.4,389.6 L672.2,389.5 M693.9,357.6 L694.3,357.8 L694.7,358.2 L694.9,358.6 L695.1,359.2 L695.3,359.8 L695.4,360.5 L695.4,361.3 L695.3,362.3 L695.2,363.2 L695.1,364.3 L694.8,365.4 L694.6,366.6 L694.2,367.8 L693.9,369.1 L693.4,370.4 L693.0,371.7 L692.5,373.1 L691.9,374.4 L691.3,375.8 L690.7,377.2 L690.1,378.5 L689.5,379.8 L688.8,381.1 L688.1,382.4 L687.5,383.6 L686.8,384.7 L686.2,385.8 L685.5,386.8 L684.9,387.8 L684.3,388.6 L683.8,389.4 L683.3,390.1 L682.8,390.7 L682.4,391.2 L682.0,391.6 L681.7,391.9 L681.4,392.1 L681.2,392.2 L681.0,392.2 L680.9,392.1 M709.1,364.7 L709.4,365.0 L709.6,365.5 L709.7,366.0 L709.8,366.5 L709.8,367.2 L709.7,368.0 L709.5,368.8 L709.3,369.7 L709.0,370.7 L708.6,371.7 L708.1,372.8 L707.6,373.9 L707.0,375.0 L706.3,376.2 L705.6,377.4 L704.9,378.6 L704.1,379.9 L703.3,381.1 L702.4,382.3 L701.5,383.5 L700.7,384.7 L699.8,385.9 L698.9,387.0 L698.0,388.1 L697.1,389.1 L696.2,390.1 L695.4,391.0 L694.5,391.9 L693.8,392.6 L693.0,393.4 L692.4,394.0 L691.7,394.5 L691.2,395.0 L690.7,395.4 L690.3,395.7 L689.9,395.9 L689.6,396.0 L689.4,396.0 L689.3,396.0 M722.5,373.6 L722.8,373.9 L723.0,374.3 L723.1,374.8 L723.1,375.3 L723.0,375.9 L722.8,376.6 L722.5,377.4 L722.2,378.1 L721.7,379.0 L721.2,379.9 L720.6,380.8 L719.9,381.8 L719.1,382.8 L718.3,383.9 L717.4,384.9 L716.5,386.0 L715.5,387.0 L714.5,388.1 L713.4,389.2 L712.3,390.2 L711.2,391.2 L710.1,392.2 L709.0,393.2 L708.0,394.1 L706.9,395.0 L705.8,395.9 L704.8,396.7 L703.8,397.4 L702.9,398.1 L702.0,398.7 L701.2,399.2 L700.4,399.7 L699.8,400.1 L699.2,400.4 L698.6,400.7 L698.2,400.9 L697.9,401.0 L697.6,401.1 L697.5,401.0 L697.4,400.9 M734.3,384.4 L734.5,384.7 L734.6,385.2 L734.6,385.7 L734.5,386.2 L734.2,386.8 L733.9,387.5 L733.5,388.2 L732.9,388.9 L732.3,389.7 L731.6,390.5 L730.8,391.4 L729.9,392.2 L729.0,393.1 L728.0,394.0 L726.9,394.9 L725.8,395.8 L724.6,396.7 L723.4,397.6 L722.2,398.5 L721.0,399.3 L719.7,400.2 L718.5,401.0 L717.3,401.7 L716.0,402.5 L714.9,403.2 L713.7,403.8 L712.6,404.5 L711.5,405.0 L710.5,405.5 L709.6,406.0 L708.8,406.4 L708.0,406.7 L707.3,407.0 L706.7,407.2 L706.2,407.4 L705.8,407.5 L705.5,407.5 L705.3,407.5 L705.2,407.4 M743.9,395.9 L744.1,396.3 L744.2,396.7 L744.1,397.2 L744.0,397.7 L743.7,398.2 L743.4,398.8 L742.9,399.4 L742.3,400.1 L741.7,400.7 L740.9,401.4 L740.0,402.2 L739.1,402.9 L738.1,403.6 L737.0,404.4 L735.9,405.1 L734.7,405.9 L733.4,406.7 L732.2,407.4 L730.9,408.1 L729.5,408.8 L728.2,409.5 L726.9,410.2 L725.6,410.8 L724.3,411.4 L723.0,412.0 L721.7,412.5 L720.6,413.0 L719.4,413.5 L718.3,413.9 L717.3,414.3 L716.4,414.6 L715.5,414.9 L714.8,415.1 L714.1,415.3 L713.6,415.4 L713.1,415.5 L712.7,415.5 L712.5,415.5 L712.4,415.4 L712.3,415.3 M751.7,408.6 L751.8,409.0 L751.7,409.4 L751.6,409.9 L751.3,410.4 L750.9,410.9 L750.5,411.5 L749.9,412.0 L749.2,412.6 L748.4,413.3 L747.5,413.9 L746.6,414.5 L745.5,415.2 L744.4,415.8 L743.2,416.4 L742.0,417.1 L740.7,417.7 L739.4,418.3 L738.1,418.9 L736.7,419.5 L735.3,420.1 L733.9,420.6 L732.6,421.2 L731.2,421.7 L729.9,422.1 L728.6,422.6 L727.3,423.0 L726.1,423.3 L725.0,423.6 L723.9,423.9 L722.9,424.2 L722.0,424.4 L721.2,424.6 L720.5,424.7 L719.9,424.8 L719.4,424.9 L718.9,424.9 L718.6,424.9 L718.5,424.8 L718.4,424.8 M757.5,421.9 L757.5,422.3 L757.3,422.7 L757.1,423.2 L756.7,423.7 L756.2,424.2 L755.6,424.8 L755.0,425.3 L754.2,425.8 L753.3,426.4 L752.3,426.9 L751.2,427.5 L750.1,428.0 L748.9,428.6 L747.7,429.1 L746.4,429.7 L745.0,430.2 L743.7,430.7 L742.3,431.2 L740.8,431.6 L739.4,432.1 L738.0,432.5 L736.6,432.9 L735.3,433.2 L733.9,433.6 L732.6,433.9 L731.4,434.2 L730.2,434.4 L729.1,434.6 L728.0,434.8 L727.1,435.0 L726.2,435.1 L725.4,435.2 L724.7,435.2 L724.2,435.3 L723.7,435.3 L723.4,435.2 L723.1,435.2 L723.0,435.1 L723.0,435.0 M761.5,435.4 L761.5,435.9 L761.4,436.3 L761.1,436.8 L760.7,437.2 L760.3,437.7 L759.7,438.2 L759.0,438.6 L758.2,439.1 L757.3,439.6 L756.3,440.1 L755.2,440.5 L754.1,441.0 L752.9,441.5 L751.6,441.9 L750.3,442.3 L748.9,442.7 L747.5,443.1 L746.1,443.5 L744.7,443.8 L743.2,444.1 L741.8,444.5 L740.3,444.7 L738.9,445.0 L737.6,445.2 L736.2,445.4 L734.9,445.6 L733.7,445.7 L732.5,445.9 L731.4,446.0 L730.4,446.0 L729.5,446.1 L728.7,446.1 L727.9,446.1 L727.3,446.1 L726.8,446.1 L726.4,446.0 L726.1,445.9 L725.9,445.9 L725.9,445.8 M763.7,450.2 L763.6,450.6 L763.3,451.1 L763.0,451.5 L762.5,451.9 L761.9,452.3 L761.2,452.8 L760.4,453.2 L759.5,453.6 L758.5,453.9 L757.5,454.3 L756.3,454.6 L755.1,455.0 L753.8,455.3 L752.5,455.6 L751.1,455.8 L749.6,456.1 L748.2,456.3 L746.7,456.5 L745.2,456.7 L743.8,456.8 L742.3,456.9 L740.9,457.0 L739.4,457.1 L738.1,457.2 L736.7,457.2 L735.5,457.2 L734.3,457.2 L733.1,457.2 L732.1,457.2 L731.1,457.1 L730.2,457.0 L729.4,456.9 L728.8,456.9 L728.2,456.8 L727.7,456.6 L727.4,456.5 L727.2,456.4 L727.1,456.3 L727.1,456.2 M764.1,464.4 L764.0,464.8 L763.8,465.2 L763.4,465.5 L763.0,465.9 L762.4,466.3 L761.8,466.6 L761.0,466.9 L760.1,467.2 L759.2,467.5 L758.1,467.8 L757.0,468.1 L755.8,468.3 L754.5,468.5 L753.2,468.7 L751.8,468.9 L750.4,469.1 L749.0,469.2 L747.5,469.3 L746.0,469.4 L744.5,469.5 L743.1,469.5 L741.6,469.6 L740.2,469.6 L738.8,469.6 L737.4,469.6 L736.1,469.6 L734.9,469.6 L733.7,469.5 L732.6,469.5 L731.6,469.4 L730.7,469.3 L729.9,469.2 L729.1,469.1 L728.5,469.1 L728.0,469.0 L727.6,468.9 L727.3,468.8 L727.2,468.7 L727.1,468.6 M764.1,477.4 L763.9,477.7 L763.6,478.1 L763.2,478.5 L762.7,478.9 L762.1,479.2 L761.4,479.5 L760.6,479.9 L759.7,480.2 L758.7,480.5 L757.6,480.7 L756.4,481.0 L755.2,481.2 L753.9,481.4 L752.6,481.6 L751.2,481.8 L749.8,481.9 L748.3,482.0 L746.8,482.2 L745.3,482.2 L743.9,482.3 L742.4,482.4 L741.0,482.4 L739.5,482.4 L738.2,482.4 L736.8,482.4 L735.6,482.4 L734.4,482.3 L733.2,482.3 L732.2,482.2 L731.2,482.2 L730.3,482.1 L729.5,482.0 L728.8,481.9 L728.3,481.8 L727.8,481.7 L727.5,481.6 L727.2,481.5 L727.1,481.5 L727.1,481.4 M764.1,489.9 L764.0,490.3 L763.8,490.7 L763.5,491.1 L763.0,491.5 L762.5,491.8 L761.8,492.2 L761.1,492.5 L760.2,492.8 L759.2,493.1 L758.2,493.4 L757.1,493.6 L755.9,493.9 L754.6,494.1 L753.3,494.3 L751.9,494.5 L750.5,494.6 L749.1,494.8 L747.6,494.9 L746.1,495.0 L744.7,495.1 L743.2,495.1 L741.7,495.2 L740.3,495.2 L738.9,495.2 L737.5,495.2 L736.2,495.2 L735.0,495.2 L733.8,495.1 L732.7,495.1 L731.7,495.0 L730.8,494.9 L729.9,494.8 L729.2,494.8 L728.6,494.7 L728.0,494.6 L727.6,494.5 L727.3,494.4 L727.2,494.3 L727.1,494.2 L727.2,494.2 M764.1,502.9 L763.9,503.3 L763.7,503.7 L763.3,504.1 L762.8,504.4 L762.2,504.8 L761.5,505.1 L760.7,505.4 L759.8,505.7 L758.8,506.0 L757.7,506.3 L756.5,506.6 L755.3,506.8 L754.0,507.0 L752.7,507.2 L751.3,507.4 L749.9,507.5 L748.4,507.6 L746.9,507.7 L745.5,507.8 L744.0,507.9 L742.5,508.0 L741.1,508.0 L739.7,508.0 L738.3,508.0 L736.9,508.0 L735.7,508.0 L734.4,507.9 L733.3,507.9 L732.2,507.8 L731.3,507.8 L730.4,507.7 L729.6,507.6 L728.9,507.5 L728.3,507.4 L727.8,507.3 L727.5,507.2 L727.2,507.2 L727.1,507.1 L727.1,507.0 M764.1,515.5 L764.0,515.9 L763.8,516.2 L763.5,516.6 L763.1,517.0 L762.5,517.3 L761.9,517.6 L761.1,518.0 L760.3,518.2 L759.3,518.5 L758.3,518.8 L757.2,519.0 L756.0,519.2 L754.7,519.4 L753.4,519.6 L752.0,519.8 L750.6,519.9 L749.2,520.0 L747.7,520.1 L746.3,520.2 L744.8,520.2 L743.3,520.3 L741.9,520.3 L740.4,520.3 L739.0,520.3 L737.7,520.2 L736.3,520.2 L735.1,520.1 L733.9,520.0 L732.8,519.9 L731.8,519.8 L730.8,519.7 L730.0,519.5 L729.2,519.4 L728.6,519.3 L728.1,519.1 L727.7,519.0 L727.4,518.9 L727.2,518.7 L727.1,518.6 L727.1,518.5 M764.1,524.5 L763.9,524.8 L763.7,525.1 L763.3,525.4 L762.8,525.7 L762.2,526.0 L761.5,526.2 L760.7,526.5 L759.8,526.7 L758.9,526.9 L757.8,527.1 L756.6,527.3 L755.4,527.4 L754.1,527.5 L752.8,527.7 L751.4,527.8 L750.0,527.8 L748.5,527.9 L747.1,527.9 L745.6,527.9 L744.1,527.9 L742.6,527.9 L741.2,527.9 L739.8,527.8 L738.4,527.7 L737.0,527.6 L735.8,527.5 L734.5,527.4 L733.4,527.3 L732.3,527.1 L731.3,527.0 L730.4,526.8 L729.6,526.7 L728.9,526.5 L728.4,526.3 L727.9,526.2 L727.5,526.0 L727.3,525.8 L727.1,525.7 L727.1,525.5 M764.1,530.9 L764.0,531.2 L763.8,531.5 L763.5,531.8 L763.1,532.1 L762.6,532.4 L761.9,532.7 L761.2,532.9 L760.3,533.2 L759.4,533.4 L758.4,533.6 L757.3,533.8 L756.1,533.9 L754.8,534.1 L753.5,534.2 L752.2,534.3 L750.8,534.4 L749.3,534.5 L747.9,534.5 L746.4,534.5 L744.9,534.5 L743.4,534.5 L742.0,534.5 L740.5,534.4 L739.1,534.4 L737.8,534.3 L736.4,534.2 L735.2,534.1 L734.0,533.9 L732.9,533.8 L731.9,533.7 L730.9,533.5 L730.1,533.4 L729.3,533.2 L728.7,533.0 L728.1,532.9 L727.7,532.7 L727.4,532.5 L727.2,532.4 L727.1,532.2 L727.1,532.0 M764.1,537.7 L764.0,538.0 L763.7,538.3 L763.4,538.6 L762.9,538.9 L762.3,539.1 L761.6,539.4 L760.8,539.6 L759.9,539.9 L758.9,540.1 L757.9,540.3 L756.7,540.4 L755.5,540.6 L754.2,540.7 L752.9,540.9 L751.5,540.9 L750.1,541.0 L748.6,541.1 L747.2,541.1 L745.7,541.1 L744.2,541.1 L742.8,541.1 L741.3,541.1 L739.9,541.0 L738.5,540.9 L737.1,540.8 L735.9,540.7 L734.6,540.6 L733.5,540.5 L732.4,540.4 L731.4,540.2 L730.5,540.0 L729.7,539.9 L729.0,539.7 L728.4,539.6 L727.9,539.4 L727.5,539.2 L727.3,539.1 L727.1,538.9 L727.1,538.7 M764.1,544.1 L764.0,544.4 L763.9,544.7 L763.6,545.0 L763.1,545.3 L762.6,545.6 L762.0,545.9 L761.3,546.1 L760.4,546.3 L759.5,546.6 L758.5,546.8 L757.4,547.0 L756.2,547.1 L754.9,547.3 L753.6,547.4 L752.3,547.5 L750.9,547.6 L749.4,547.7 L748.0,547.7 L746.5,547.7 L745.0,547.7 L743.5,547.7 L742.1,547.7 L740.6,547.6 L739.2,547.6 L737.9,547.5 L736.5,547.4 L735.3,547.3 L734.1,547.2 L733.0,547.0 L731.9,546.9 L731.0,546.7 L730.1,546.6 L729.4,546.4 L728.7,546.2 L728.2,546.1 L727.7,545.9 L727.4,545.7 L727.2,545.6 L727.1,545.4 L727.1,545.3 M764.1,550.8 L764.0,551.2 L763.7,551.5 L763.4,551.8 L762.9,552.0 L762.3,552.3 L761.7,552.6 L760.9,552.8 L760.0,553.1 L759.0,553.3 L758.0,553.5 L756.8,553.6 L755.6,553.8 L754.3,553.9 L753.0,554.0 L751.6,554.1 L750.2,554.2 L748.8,554.3 L747.3,554.3 L745.8,554.3 L744.3,554.3 L742.9,554.3 L741.4,554.3 L740.0,554.2 L738.6,554.1 L737.3,554.0 L736.0,553.9 L734.7,553.8 L733.6,553.7 L732.5,553.6 L731.5,553.4 L730.6,553.3 L729.8,553.1 L729.0,552.9 L728.4,552.8 L727.9,552.6 L727.6,552.4 L727.3,552.3 L727.1,552.1 L727.1,551.9 M764.0,557.6 L763.9,557.9 L763.6,558.2 L763.2,558.5 L762.7,558.8 L762.0,559.0 L761.3,559.3 L760.5,559.5 L759.6,559.8 L758.5,560.0 L757.4,560.1 L756.3,560.3 L755.0,560.5 L753.7,560.6 L752.4,560.7 L751.0,560.8 L749.5,560.8 L748.1,560.9 L746.6,560.9 L745.1,560.9 L743.7,560.9 L742.2,560.9 L740.8,560.8 L739.3,560.8 L738.0,560.7 L736.6,560.6 L735.4,560.5 L734.2,560.4 L733.1,560.2 L732.0,560.1 L731.1,559.9 L730.2,559.8 L729.4,559.6 L728.8,559.5 L728.2,559.3 L727.7,559.1 L727.4,559.0 L727.2,558.8 L727.1,558.6 L727.1,558.5 M764.1,564.0 L764.0,564.3 L763.8,564.6 L763.4,564.9 L763.0,565.2 L762.4,565.5 L761.7,565.8 L760.9,566.0 L760.1,566.2 L759.1,566.4 L758.0,566.6 L756.9,566.8 L755.7,567.0 L754.4,567.1 L753.1,567.2 L751.7,567.3 L750.3,567.4 L748.9,567.5 L747.4,567.5 L745.9,567.5 L744.5,567.5 L743.0,567.5 L741.5,567.5 L740.1,567.4 L738.7,567.3 L737.4,567.3 L736.1,567.2 L734.8,567.0 L733.7,566.9 L732.6,566.8 L731.6,566.6 L730.6,566.5 L729.8,566.3 L729.1,566.1 L728.5,566.0 L728.0,565.8 L727.6,565.6 L727.3,565.5 L727.1,565.3 L727.1,565.2 M764.1,570.8 L763.9,571.1 L763.6,571.4 L763.2,571.7 L762.7,572.0 L762.1,572.2 L761.4,572.5 L760.6,572.7 L759.6,572.9 L758.6,573.1 L757.5,573.3 L756.4,573.5 L755.1,573.6 L753.8,573.8 L752.5,573.9 L751.1,574.0 L749.7,574.0 L748.2,574.1 L746.7,574.1 L745.3,574.1 L743.8,574.1 L742.3,574.1 L740.9,574.0 L739.5,574.0 L738.1,573.9 L736.8,573.8 L735.5,573.7 L734.3,573.6 L733.1,573.4 L732.1,573.3 L731.1,573.2 L730.3,573.0 L729.5,572.8 L728.8,572.7 L728.2,572.5 L727.8,572.3 L727.4,572.2 L727.2,572.0 L727.1,571.8 L727.1,571.7 M764.1,577.2 L764.0,577.5 L763.8,577.8 L763.4,578.1 L763.0,578.4 L762.4,578.7 L761.8,578.9 L761.0,579.2 L760.1,579.4 L759.2,579.6 L758.1,579.8 L757.0,580.0 L755.8,580.2 L754.5,580.3 L753.2,580.4 L751.8,580.5 L750.4,580.6 L749.0,580.7 L747.5,580.7 L746.1,580.7 L744.6,580.7 L743.1,580.7 L741.6,580.7 L740.2,580.6 L738.8,580.5 L737.5,580.5 L736.2,580.4 L734.9,580.2 L733.7,580.1 L732.6,580.0 L731.6,579.8 L730.7,579.7 L729.9,579.5 L729.2,579.4 L728.5,579.2 L728.0,579.0 L727.6,578.9 L727.3,578.7 L727.2,578.5 L727.1,578.4 M764.1,583.9 L763.9,584.2 L763.6,584.6 L763.3,584.8 L762.8,585.1 L762.2,585.4 L761.4,585.7 L760.6,585.9 L759.7,586.1 L758.7,586.3 L757.6,586.5 L756.5,586.7 L755.2,586.8 L753.9,587.0 L752.6,587.1 L751.2,587.2 L749.8,587.2 L748.3,587.3 L746.9,587.3 L745.4,587.3 L743.9,587.3 L742.4,587.3 L741.0,587.2 L739.6,587.2 L738.2,587.1 L736.9,587.0 L735.6,586.9 L734.4,586.8 L733.2,586.7 L732.2,586.5 L731.2,586.4 L730.3,586.2 L729.5,586.1 L728.9,585.9 L728.3,585.7 L727.8,585.5 L727.5,585.4 L727.2,585.2 L727.1,585.1 L727.1,584.9 M764.1,590.4 L764.0,590.7 L763.8,591.0 L763.5,591.3 L763.0,591.6 L762.5,591.9 L761.8,592.1 L761.1,592.4 L760.2,592.6 L759.3,592.8 L758.2,593.0 L757.1,593.2 L755.9,593.4 L754.6,593.5 L753.3,593.6 L752.0,593.7 L750.6,593.8 L749.1,593.9 L747.6,593.9 L746.2,593.9 L744.7,593.9 L743.2,593.9 L741.8,593.9 L740.3,593.8 L738.9,593.8 L737.6,593.7 L736.3,593.6 L735.0,593.5 L733.8,593.3 L732.7,593.2 L731.7,593.1 L730.8,592.9 L729.9,592.7 L729.2,592.6 L728.6,592.4 L728.0,592.2 L727.6,592.1 L727.3,591.9 L727.2,591.7 L727.1,591.6 L727.2,591.4 M764.1,597.1 L763.9,597.4 L763.7,597.7 L763.3,598.0 L762.8,598.3 L762.2,598.6 L761.5,598.8 L760.7,599.1 L759.8,599.3 L758.8,599.5 L757.7,599.7 L756.6,599.9 L755.3,600.0 L754.0,600.2 L752.7,600.3 L751.3,600.4 L749.9,600.4 L748.4,600.5 L747.0,600.5 L745.5,600.5 L744.0,600.5 L742.5,600.5 L741.1,600.5 L739.7,600.4 L738.3,600.3 L737.0,600.2 L735.7,600.1 L734.5,600.0 L733.3,599.9 L732.3,599.7 L731.3,599.6 L730.4,599.4 L729.6,599.3 L728.9,599.1 L728.3,598.9 L727.8,598.8 L727.5,598.6 L727.2,598.4 L727.1,598.3 L727.1,598.1 M764.1,603.5 L764.0,603.9 L763.8,604.2 L763.5,604.5 L763.1,604.8 L762.5,605.0 L761.9,605.3 L761.1,605.5 L760.3,605.8 L759.3,606.0 L758.3,606.2 L757.2,606.4 L756.0,606.5 L754.7,606.7 L753.4,606.8 L752.1,606.9 L750.7,607.0 L749.2,607.1 L747.8,607.1 L746.3,607.1 L744.8,607.1 L743.3,607.1 L741.9,607.1 L740.4,607.0 L739.0,607.0 L737.7,606.9 L736.4,606.8 L735.1,606.7 L733.9,606.5 L732.8,606.4 L731.8,606.3 L730.9,606.1 L730.0,606.0 L729.3,605.8 L728.6,605.6 L728.1,605.5 L727.7,605.3 L727.4,605.1 L727.2,605.0 L727.1,604.8 L727.1,604.6 M764.1,610.3 L763.9,610.6 L763.7,610.9 L763.3,611.2 L762.8,611.5 L762.3,611.8 L761.6,612.0 L760.8,612.3 L759.9,612.5 L758.9,612.7 L757.8,612.9 L756.7,613.1 L755.4,613.2 L754.2,613.3 L752.8,613.5 L751.4,613.6 L750.0,613.6 L748.6,613.7 L747.1,613.7 L745.6,613.7 L744.1,613.7 L742.7,613.7 L741.2,613.7 L739.8,613.6 L738.4,613.5 L737.1,613.4 L735.8,613.3 L734.6,613.2 L733.4,613.1 L732.3,612.9 L731.3,612.8 L730.5,612.6 L729.7,612.5 L729.0,612.3 L728.4,612.1 L727.9,612.0 L727.5,611.8 L727.3,611.6 L727.1,611.5 L727.1,611.3 M764.1,616.7 L764.0,617.0 L763.8,617.3 L763.5,617.6 L763.1,617.9 L762.6,618.2 L761.9,618.5 L761.2,618.7 L760.4,619.0 L759.4,619.2 L758.4,619.4 L757.3,619.6 L756.1,619.7 L754.9,619.9 L753.5,620.0 L752.2,620.1 L750.8,620.2 L749.3,620.3 L747.9,620.3 L746.4,620.3 L744.9,620.3 L743.5,620.3 L742.0,620.3 L740.6,620.2 L739.1,620.2 L737.8,620.1 L736.5,620.0 L735.2,619.9 L734.0,619.8 L732.9,619.6 L731.9,619.5 L730.9,619.3 L730.1,619.2 L729.3,619.0 L728.7,618.8 L728.1,618.7 L727.7,618.5 L727.4,618.3 L727.2,618.2 L727.1,618.0 L727.1,617.9 M764.1,623.5 L764.0,623.8 L763.7,624.1 L763.4,624.4 L762.9,624.7 L762.3,624.9 L761.6,625.2 L760.8,625.4 L759.9,625.7 L759.0,625.9 L757.9,626.1 L756.7,626.2 L755.5,626.4 L754.3,626.5 L752.9,626.7 L751.5,626.7 L750.1,626.8 L748.7,626.9 L747.2,626.9 L745.7,626.9 L744.2,626.9 L742.8,626.9 L741.3,626.9 L739.9,626.8 L738.5,626.7 L737.2,626.6 L735.9,626.5 L734.7,626.4 L733.5,626.3 L732.4,626.2 L731.4,626.0 L730.5,625.9 L729.7,625.7 L729.0,625.5 L728.4,625.4 L727.9,625.2 L727.5,625.0 L727.3,624.9 L727.1,624.7 L727.1,624.5 M764.1,629.9 L764.0,630.2 L763.9,630.5 L763.6,630.8 L763.2,631.1 L762.6,631.4 L762.0,631.7 L761.3,631.9 L760.4,632.1 L759.5,632.4 L758.5,632.6 L757.4,632.8 L756.2,632.9 L755.0,633.1 L753.6,633.2 L752.3,633.3 L750.9,633.4 L749.5,633.4 L748.0,633.5 L746.5,633.5 L745.0,633.5 L743.6,633.5 L742.1,633.5 L740.7,633.4 L739.3,633.4 L737.9,633.3 L736.6,633.2 L735.3,633.1 L734.1,633.0 L733.0,632.8 L731.9,632.7 L731.0,632.5 L730.1,632.4 L729.4,632.2 L728.7,632.0 L728.2,631.9 L727.7,631.7 L727.4,631.5" fill="none" stroke="#000" stroke-width="4.5" stroke-linecap="round" stroke-linejoin="round"/>
<path d="M539.1,517.0 L539.2,516.7 L539.3,516.4 L539.6,516.1 L540.0,515.8 L540.6,515.5 L541.2,515.3 L541.9,515.0 L542.8,514.8 L543.7,514.6 L544.7,514.4 L545.8,514.2 L547.0,514.1 L548.2,513.9 L549.5,513.8 L550.9,513.7 L552.3,513.7 L553.7,513.6 L555.2,513.6 L556.7,513.5 L558.1,513.6 L559.6,513.6 L561.1,513.6 L562.5,513.7 L563.9,513.8 L565.3,513.8 L566.6,513.9 L567.9,514.1 L569.1,514.2 L570.2,514.3 L571.2,514.5 L572.2,514.7 L573.1,514.8 L573.8,515.0 L574.5,515.2 L575.0,515.4 L575.5,515.5 L575.8,515.7 L576.0,515.9 L576.1,516.1 L576.1,516.2 M539.1,511.1 L539.2,510.7 L539.5,510.5 L539.8,510.2 L540.3,509.9 L540.8,509.6 L541.5,509.4 L542.3,509.1 L543.2,508.9 L544.2,508.7 L545.2,508.5 L546.3,508.4 L547.6,508.2 L548.8,508.1 L550.2,508.0 L551.5,507.9 L553.0,507.8 L554.4,507.8 L555.9,507.8 L557.3,507.7 L558.8,507.8 L560.3,507.8 L561.7,507.8 L563.2,507.9 L564.6,508.0 L565.9,508.1 L567.2,508.2 L568.4,508.3 L569.6,508.5 L570.7,508.6 L571.7,508.8 L572.6,508.9 L573.4,509.1 L574.1,509.3 L574.7,509.5 L575.2,509.6 L575.6,509.8 L575.9,510.0 L576.1,510.2 L576.1,510.3 M539.2,505.1 L539.3,504.8 L539.6,504.5 L540.0,504.2 L540.5,503.9 L541.1,503.7 L541.9,503.4 L542.7,503.2 L543.6,503.0 L544.6,502.8 L545.7,502.6 L546.9,502.4 L548.1,502.3 L549.4,502.1 L550.8,502.0 L552.2,501.9 L553.6,501.9 L555.1,501.8 L556.5,501.8 L558.0,501.8 L559.5,501.8 L561.0,501.8 L562.4,501.9 L563.8,501.9 L565.2,502.0 L566.5,502.1 L567.8,502.2 L569.0,502.3 L570.1,502.4 L571.2,502.6 L572.1,502.7 L573.0,502.9 L573.8,503.0 L574.4,503.2 L575.0,503.3 L575.4,503.5 L575.8,503.6 L576.0,503.8 L576.1,503.9 L576.1,504.1 M539.1,497.1 L539.2,496.8 L539.4,496.4 L539.8,496.0 L540.2,495.7 L540.8,495.3 L541.5,495.0 L542.2,494.7 L543.1,494.4 L544.1,494.1 L545.1,493.8 L546.3,493.6 L547.5,493.4 L548.7,493.2 L550.1,493.0 L551.4,492.8 L552.8,492.6 L554.3,492.5 L555.7,492.4 L557.2,492.3 L558.7,492.2 L560.2,492.2 L561.6,492.1 L563.1,492.1 L564.5,492.1 L565.8,492.1 L567.1,492.1 L568.3,492.2 L569.5,492.2 L570.6,492.3 L571.6,492.3 L572.5,492.4 L573.4,492.5 L574.1,492.6 L574.7,492.7 L575.2,492.8 L575.6,492.8 L575.9,492.9 L576.1,493.0 L576.1,493.1 M539.1,484.3 L539.3,484.0 L539.6,483.6 L540.0,483.2 L540.5,482.8 L541.1,482.5 L541.8,482.2 L542.6,481.8 L543.5,481.5 L544.5,481.3 L545.6,481.0 L546.8,480.7 L548.0,480.5 L549.3,480.3 L550.7,480.1 L552.1,479.9 L553.5,479.8 L555.0,479.7 L556.4,479.6 L557.9,479.5 L559.4,479.4 L560.8,479.3 L562.3,479.3 L563.7,479.3 L565.1,479.3 L566.4,479.3 L567.7,479.3 L568.9,479.4 L570.0,479.4 L571.1,479.5 L572.1,479.6 L572.9,479.6 L573.7,479.7 L574.4,479.8 L575.0,479.9 L575.4,480.0 L575.8,480.1 L576.0,480.2 L576.1,480.3 L576.1,480.3 M539.1,471.8 L539.2,471.4 L539.4,471.0 L539.7,470.6 L540.2,470.2 L540.7,469.9 L541.4,469.5 L542.2,469.2 L543.0,468.9 L544.0,468.6 L545.0,468.3 L546.2,468.1 L547.4,467.8 L548.6,467.6 L549.9,467.4 L551.3,467.2 L552.7,467.1 L554.2,466.9 L555.6,466.8 L557.1,466.7 L558.6,466.6 L560.1,466.6 L561.5,466.5 L562.9,466.5 L564.3,466.5 L565.7,466.5 L567.0,466.5 L568.2,466.6 L569.4,466.6 L570.5,466.7 L571.5,466.7 L572.5,466.8 L573.3,466.9 L574.0,467.0 L574.7,467.1 L575.2,467.1 L575.6,467.2 L575.9,467.3 L576.0,467.4 L576.1,467.5 M539.1,458.8 L539.3,458.4 L539.5,458.0 L539.9,457.6 L540.4,457.2 L541.0,456.9 L541.7,456.5 L542.6,456.2 L543.5,455.9 L544.5,455.6 L545.6,455.3 L546.7,455.0 L548.0,454.8 L549.3,454.6 L550.6,454.4 L552.0,454.3 L553.5,454.1 L554.9,454.0 L556.4,453.9 L557.9,453.9 L559.4,453.9 L560.8,453.8 L562.3,453.9 L563.7,453.9 L565.1,454.0 L566.4,454.0 L567.7,454.1 L568.9,454.3 L570.1,454.4 L571.1,454.5 L572.1,454.7 L573.0,454.8 L573.8,455.0 L574.4,455.1 L575.0,455.3 L575.5,455.5 L575.8,455.6 L576.0,455.7 L576.2,455.9 L576.1,456.0 M540.3,443.3 L540.5,442.9 L540.7,442.5 L541.1,442.2 L541.6,441.8 L542.2,441.5 L542.9,441.2 L543.7,441.0 L544.6,440.8 L545.6,440.7 L546.7,440.6 L547.8,440.5 L549.1,440.4 L550.3,440.4 L551.7,440.5 L553.1,440.5 L554.5,440.6 L555.9,440.8 L557.4,440.9 L558.9,441.1 L560.3,441.3 L561.8,441.6 L563.2,441.9 L564.6,442.2 L566.0,442.5 L567.3,442.8 L568.6,443.1 L569.8,443.4 L571.0,443.8 L572.0,444.1 L573.0,444.4 L573.9,444.8 L574.7,445.1 L575.4,445.4 L576.0,445.7 L576.4,445.9 L576.8,446.2 L577.1,446.4 L577.2,446.5 L577.3,446.7 L577.2,446.8 M544.2,427.1 L544.5,426.7 L544.9,426.4 L545.3,426.1 L545.9,425.9 L546.6,425.7 L547.4,425.6 L548.2,425.6 L549.2,425.6 L550.2,425.7 L551.3,425.8 L552.5,426.0 L553.7,426.2 L555.0,426.5 L556.3,426.8 L557.6,427.1 L559.0,427.6 L560.4,428.0 L561.8,428.5 L563.2,429.0 L564.6,429.5 L566.0,430.1 L567.3,430.6 L568.6,431.2 L569.9,431.8 L571.1,432.4 L572.2,433.0 L573.3,433.5 L574.3,434.1 L575.3,434.7 L576.1,435.2 L576.9,435.7 L577.6,436.1 L578.2,436.6 L578.6,436.9 L579.0,437.3 L579.3,437.6 L579.5,437.8 L579.5,438.0 L579.5,438.1 M550.5,411.9 L550.8,411.5 L551.2,411.2 L551.6,411.0 L552.2,410.9 L552.8,410.8 L553.5,410.8 L554.3,410.9 L555.2,411.1 L556.1,411.3 L557.1,411.6 L558.2,412.0 L559.3,412.4 L560.5,412.9 L561.7,413.5 L562.9,414.1 L564.2,414.8 L565.4,415.5 L566.7,416.2 L568.0,417.0 L569.2,417.8 L570.5,418.6 L571.7,419.4 L572.9,420.3 L574.0,421.1 L575.1,422.0 L576.2,422.8 L577.1,423.6 L578.1,424.4 L578.9,425.2 L579.7,425.9 L580.4,426.5 L581.0,427.2 L581.6,427.7 L582.0,428.2 L582.4,428.7 L582.6,429.1 L582.8,429.4 L582.9,429.6 L582.9,429.8 L582.8,429.8 M559.3,397.6 L559.7,397.4 L560.1,397.2 L560.6,397.1 L561.2,397.1 L561.8,397.2 L562.5,397.4 L563.3,397.7 L564.2,398.1 L565.1,398.5 L566.0,399.1 L567.0,399.7 L568.0,400.4 L569.1,401.1 L570.1,401.9 L571.2,402.8 L572.3,403.7 L573.4,404.7 L574.5,405.7 L575.6,406.7 L576.7,407.7 L577.8,408.8 L578.8,409.8 L579.8,410.9 L580.7,411.9 L581.6,413.0 L582.5,414.0 L583.3,415.0 L584.0,415.9 L584.7,416.8 L585.3,417.6 L585.9,418.4 L586.3,419.1 L586.7,419.7 L587.1,420.3 L587.3,420.7 L587.5,421.1 L587.6,421.4 L587.6,421.6 L587.5,421.7 M569.4,385.6 L569.8,385.4 L570.2,385.2 L570.7,385.2 L571.2,385.2 L571.8,385.4 L572.4,385.6 L573.1,386.0 L573.8,386.4 L574.6,387.0 L575.4,387.6 L576.3,388.4 L577.2,389.2 L578.1,390.0 L579.0,391.0 L579.9,392.0 L580.8,393.0 L581.8,394.2 L582.7,395.3 L583.6,396.5 L584.6,397.7 L585.4,398.9 L586.3,400.1 L587.1,401.3 L587.9,402.5 L588.7,403.7 L589.4,404.8 L590.1,405.9 L590.7,407.0 L591.3,408.0 L591.8,409.0 L592.3,409.8 L592.7,410.7 L593.0,411.4 L593.3,412.0 L593.5,412.6 L593.6,413.0 L593.7,413.4 L593.7,413.6 L593.7,413.8 L593.6,413.8 M581.0,375.4 L581.4,375.2 L581.8,375.1 L582.3,375.2 L582.9,375.4 L583.4,375.7 L584.0,376.1 L584.7,376.6 L585.4,377.2 L586.1,377.9 L586.8,378.7 L587.6,379.5 L588.3,380.5 L589.1,381.5 L589.9,382.6 L590.7,383.7 L591.5,384.9 L592.3,386.1 L593.1,387.4 L593.8,388.7 L594.6,390.0 L595.3,391.3 L596.0,392.6 L596.6,393.9 L597.3,395.2 L597.9,396.4 L598.4,397.6 L598.9,398.8 L599.4,399.9 L599.8,400.9 L600.2,401.9 L600.5,402.8 L600.8,403.6 L601.0,404.3 L601.2,404.9 L601.3,405.4 L601.4,405.8 L601.4,406.1 L601.4,406.3 L601.3,406.4 M593.3,367.1 L593.8,367.0 L594.2,367.1 L594.7,367.3 L595.2,367.6 L595.8,368.0 L596.4,368.5 L597.0,369.1 L597.6,369.8 L598.3,370.6 L598.9,371.5 L599.6,372.5 L600.3,373.5 L600.9,374.7 L601.6,375.9 L602.3,377.1 L602.9,378.4 L603.6,379.7 L604.2,381.0 L604.9,382.4 L605.5,383.7 L606.0,385.1 L606.6,386.5 L607.1,387.8 L607.6,389.1 L608.1,390.4 L608.5,391.6 L608.9,392.7 L609.2,393.8 L609.5,394.9 L609.8,395.8 L610.0,396.7 L610.2,397.4 L610.4,398.1 L610.5,398.7 L610.5,399.2 L610.5,399.5 L610.5,399.8 L610.5,399.9 L610.4,399.9 M605.9,360.7 L606.3,360.6 L606.7,360.7 L607.2,360.8 L607.7,361.1 L608.2,361.5 L608.7,362.0 L609.3,362.6 L609.8,363.4 L610.4,364.2 L611.0,365.1 L611.6,366.1 L612.2,367.1 L612.7,368.3 L613.3,369.5 L613.9,370.7 L614.5,372.0 L615.0,373.4 L615.6,374.7 L616.1,376.1 L616.6,377.5 L617.1,378.9 L617.6,380.3 L618.0,381.7 L618.4,383.0 L618.8,384.3 L619.1,385.6 L619.4,386.8 L619.7,388.0 L619.9,389.0 L620.2,390.0 L620.3,391.0 L620.5,391.8 L620.6,392.5 L620.7,393.1 L620.7,393.7 L620.7,394.1 L620.7,394.4 L620.6,394.6 L620.6,394.6 M619.3,355.8 L619.7,355.8 L620.2,356.0 L620.7,356.3 L621.1,356.6 L621.6,357.1 L622.1,357.8 L622.6,358.5 L623.2,359.3 L623.7,360.2 L624.2,361.2 L624.7,362.2 L625.2,363.4 L625.7,364.6 L626.2,365.9 L626.7,367.2 L627.2,368.5 L627.6,369.9 L628.1,371.3 L628.5,372.8 L628.9,374.2 L629.2,375.6 L629.6,377.0 L629.9,378.4 L630.2,379.8 L630.4,381.1 L630.7,382.3 L630.9,383.5 L631.1,384.6 L631.2,385.7 L631.3,386.7 L631.4,387.5 L631.5,388.3 L631.5,389.0 L631.5,389.6 L631.5,390.0 L631.5,390.4 L631.4,390.6 L631.4,390.8 L631.3,390.8 M632.9,352.5 L633.4,352.5 L633.8,352.6 L634.2,352.9 L634.7,353.3 L635.2,353.8 L635.6,354.4 L636.1,355.1 L636.5,355.9 L637.0,356.8 L637.4,357.8 L637.9,358.9 L638.3,360.0 L638.7,361.2 L639.1,362.5 L639.5,363.8 L639.8,365.2 L640.2,366.6 L640.5,368.1 L640.8,369.5 L641.1,371.0 L641.4,372.4 L641.6,373.9 L641.8,375.3 L642.0,376.7 L642.2,378.0 L642.3,379.3 L642.4,380.5 L642.5,381.7 L642.6,382.8 L642.7,383.8 L642.7,384.8 L642.7,385.6 L642.7,386.3 L642.6,387.0 L642.6,387.5 L642.5,387.9 L642.5,388.2 L642.4,388.4 L642.3,388.4 M647.6,350.8 L648.0,350.9 L648.4,351.1 L648.9,351.5 L649.3,352.0 L649.7,352.6 L650.1,353.3 L650.5,354.1 L650.8,355.0 L651.2,356.0 L651.5,357.0 L651.9,358.2 L652.2,359.4 L652.5,360.7 L652.7,362.0 L653.0,363.4 L653.2,364.8 L653.4,366.3 L653.5,367.8 L653.7,369.2 L653.8,370.7 L653.9,372.2 L654.0,373.6 L654.1,375.1 L654.1,376.4 L654.1,377.8 L654.1,379.0 L654.1,380.3 L654.1,381.4 L654.0,382.5 L653.9,383.4 L653.8,384.3 L653.8,385.1 L653.7,385.8 L653.6,386.4 L653.4,386.8 L653.3,387.2 L653.2,387.4 L653.1,387.5 L653.0,387.5 M662.5,350.8 L662.9,350.9 L663.4,351.1 L663.7,351.5 L664.1,351.9 L664.5,352.5 L664.8,353.2 L665.1,354.0 L665.4,354.9 L665.6,355.9 L665.8,356.9 L666.0,358.1 L666.2,359.3 L666.3,360.6 L666.4,361.9 L666.5,363.3 L666.5,364.7 L666.5,366.2 L666.5,367.7 L666.5,369.1 L666.4,370.6 L666.3,372.1 L666.2,373.6 L666.1,375.0 L665.9,376.4 L665.7,377.7 L665.5,379.0 L665.3,380.3 L665.1,381.4 L664.9,382.5 L664.7,383.5 L664.5,384.4 L664.3,385.3 L664.1,386.0 L663.8,386.6 L663.7,387.1 L663.5,387.5 L663.3,387.7 L663.2,387.9 L663.0,387.9 M678.5,353.1 L678.9,353.3 L679.2,353.6 L679.5,354.1 L679.8,354.7 L680.1,355.3 L680.2,356.1 L680.4,357.0 L680.5,357.9 L680.6,359.0 L680.6,360.1 L680.6,361.3 L680.5,362.5 L680.4,363.8 L680.2,365.2 L680.0,366.6 L679.8,368.0 L679.6,369.4 L679.3,370.9 L679.0,372.3 L678.6,373.8 L678.3,375.2 L677.9,376.6 L677.5,378.0 L677.1,379.3 L676.7,380.6 L676.2,381.8 L675.8,382.9 L675.4,384.0 L675.0,385.0 L674.6,385.9 L674.2,386.7 L673.9,387.4 L673.5,388.1 L673.2,388.6 L673.0,389.0 L672.7,389.3 L672.5,389.5 L672.4,389.6 L672.2,389.5 M693.9,357.6 L694.3,357.8 L694.7,358.2 L694.9,358.6 L695.1,359.2 L695.3,359.8 L695.4,360.5 L695.4,361.3 L695.3,362.3 L695.2,363.2 L695.1,364.3 L694.8,365.4 L694.6,366.6 L694.2,367.8 L693.9,369.1 L693.4,370.4 L693.0,371.7 L692.5,373.1 L691.9,374.4 L691.3,375.8 L690.7,377.2 L690.1,378.5 L689.5,379.8 L688.8,381.1 L688.1,382.4 L687.5,383.6 L686.8,384.7 L686.2,385.8 L685.5,386.8 L684.9,387.8 L684.3,388.6 L683.8,389.4 L683.3,390.1 L682.8,390.7 L682.4,391.2 L682.0,391.6 L681.7,391.9 L681.4,392.1 L681.2,392.2 L681.0,392.2 L680.9,392.1 M709.1,364.7 L709.4,365.0 L709.6,365.5 L709.7,366.0 L709.8,366.5 L709.8,367.2 L709.7,368.0 L709.5,368.8 L709.3,369.7 L709.0,370.7 L708.6,371.7 L708.1,372.8 L707.6,373.9 L707.0,375.0 L706.3,376.2 L705.6,377.4 L704.9,378.6 L704.1,379.9 L703.3,381.1 L702.4,382.3 L701.5,383.5 L700.7,384.7 L699.8,385.9 L698.9,387.0 L698.0,388.1 L697.1,389.1 L696.2,390.1 L695.4,391.0 L694.5,391.9 L693.8,392.6 L693.0,393.4 L692.4,394.0 L691.7,394.5 L691.2,395.0 L690.7,395.4 L690.3,395.7 L689.9,395.9 L689.6,396.0 L689.4,396.0 L689.3,396.0 M722.5,373.6 L722.8,373.9 L723.0,374.3 L723.1,374.8 L723.1,375.3 L723.0,375.9 L722.8,376.6 L722.5,377.4 L722.2,378.1 L721.7,379.0 L721.2,379.9 L720.6,380.8 L719.9,381.8 L719.1,382.8 L718.3,383.9 L717.4,384.9 L716.5,386.0 L715.5,387.0 L714.5,388.1 L713.4,389.2 L712.3,390.2 L711.2,391.2 L710.1,392.2 L709.0,393.2 L708.0,394.1 L706.9,395.0 L705.8,395.9 L704.8,396.7 L703.8,397.4 L702.9,398.1 L702.0,398.7 L701.2,399.2 L700.4,399.7 L699.8,400.1 L699.2,400.4 L698.6,400.7 L698.2,400.9 L697.9,401.0 L697.6,401.1 L697.5,401.0 L697.4,400.9 M734.3,384.4 L734.5,384.7 L734.6,385.2 L734.6,385.7 L734.5,386.2 L734.2,386.8 L733.9,387.5 L733.5,388.2 L732.9,388.9 L732.3,389.7 L731.6,390.5 L730.8,391.4 L729.9,392.2 L729.0,393.1 L728.0,394.0 L726.9,394.9 L725.8,395.8 L724.6,396.7 L723.4,397.6 L722.2,398.5 L721.0,399.3 L719.7,400.2 L718.5,401.0 L717.3,401.7 L716.0,402.5 L714.9,403.2 L713.7,403.8 L712.6,404.5 L711.5,405.0 L710.5,405.5 L709.6,406.0 L708.8,406.4 L708.0,406.7 L707.3,407.0 L706.7,407.2 L706.2,407.4 L705.8,407.5 L705.5,407.5 L705.3,407.5 L705.2,407.4 M743.9,395.9 L744.1,396.3 L744.2,396.7 L744.1,397.2 L744.0,397.7 L743.7,398.2 L743.4,398.8 L742.9,399.4 L742.3,400.1 L741.7,400.7 L740.9,401.4 L740.0,402.2 L739.1,402.9 L738.1,403.6 L737.0,404.4 L735.9,405.1 L734.7,405.9 L733.4,406.7 L732.2,407.4 L730.9,408.1 L729.5,408.8 L728.2,409.5 L726.9,410.2 L725.6,410.8 L724.3,411.4 L723.0,412.0 L721.7,412.5 L720.6,413.0 L719.4,413.5 L718.3,413.9 L717.3,414.3 L716.4,414.6 L715.5,414.9 L714.8,415.1 L714.1,415.3 L713.6,415.4 L713.1,415.5 L712.7,415.5 L712.5,415.5 L712.4,415.4 L712.3,415.3 M751.7,408.6 L751.8,409.0 L751.7,409.4 L751.6,409.9 L751.3,410.4 L750.9,410.9 L750.5,411.5 L749.9,412.0 L749.2,412.6 L748.4,413.3 L747.5,413.9 L746.6,414.5 L745.5,415.2 L744.4,415.8 L743.2,416.4 L742.0,417.1 L740.7,417.7 L739.4,418.3 L738.1,418.9 L736.7,419.5 L735.3,420.1 L733.9,420.6 L732.6,421.2 L731.2,421.7 L729.9,422.1 L728.6,422.6 L727.3,423.0 L726.1,423.3 L725.0,423.6 L723.9,423.9 L722.9,424.2 L722.0,424.4 L721.2,424.6 L720.5,424.7 L719.9,424.8 L719.4,424.9 L718.9,424.9 L718.6,424.9 L718.5,424.8 L718.4,424.8 M757.5,421.9 L757.5,422.3 L757.3,422.7 L757.1,423.2 L756.7,423.7 L756.2,424.2 L755.6,424.8 L755.0,425.3 L754.2,425.8 L753.3,426.4 L752.3,426.9 L751.2,427.5 L750.1,428.0 L748.9,428.6 L747.7,429.1 L746.4,429.7 L745.0,430.2 L743.7,430.7 L742.3,431.2 L740.8,431.6 L739.4,432.1 L738.0,432.5 L736.6,432.9 L735.3,433.2 L733.9,433.6 L732.6,433.9 L731.4,434.2 L730.2,434.4 L729.1,434.6 L728.0,434.8 L727.1,435.0 L726.2,435.1 L725.4,435.2 L724.7,435.2 L724.2,435.3 L723.7,435.3 L723.4,435.2 L723.1,435.2 L723.0,435.1 L723.0,435.0 M761.5,435.4 L761.5,435.9 L761.4,436.3 L761.1,436.8 L760.7,437.2 L760.3,437.7 L759.7,438.2 L759.0,438.6 L758.2,439.1 L757.3,439.6 L756.3,440.1 L755.2,440.5 L754.1,441.0 L752.9,441.5 L751.6,441.9 L750.3,442.3 L748.9,442.7 L747.5,443.1 L746.1,443.5 L744.7,443.8 L743.2,444.1 L741.8,444.5 L740.3,444.7 L738.9,445.0 L737.6,445.2 L736.2,445.4 L734.9,445.6 L733.7,445.7 L732.5,445.9 L731.4,446.0 L730.4,446.0 L729.5,446.1 L728.7,446.1 L727.9,446.1 L727.3,446.1 L726.8,446.1 L726.4,446.0 L726.1,445.9 L725.9,445.9 L725.9,445.8 M763.7,450.2 L763.6,450.6 L763.3,451.1 L763.0,451.5 L762.5,451.9 L761.9,452.3 L761.2,452.8 L760.4,453.2 L759.5,453.6 L758.5,453.9 L757.5,454.3 L756.3,454.6 L755.1,455.0 L753.8,455.3 L752.5,455.6 L751.1,455.8 L749.6,456.1 L748.2,456.3 L746.7,456.5 L745.2,456.7 L743.8,456.8 L742.3,456.9 L740.9,457.0 L739.4,457.1 L738.1,457.2 L736.7,457.2 L735.5,457.2 L734.3,457.2 L733.1,457.2 L732.1,457.2 L731.1,457.1 L730.2,457.0 L729.4,456.9 L728.8,456.9 L728.2,456.8 L727.7,456.6 L727.4,456.5 L727.2,456.4 L727.1,456.3 L727.1,456.2 M764.1,464.4 L764.0,464.8 L763.8,465.2 L763.4,465.5 L763.0,465.9 L762.4,466.3 L761.8,466.6 L761.0,466.9 L760.1,467.2 L759.2,467.5 L758.1,467.8 L757.0,468.1 L755.8,468.3 L754.5,468.5 L753.2,468.7 L751.8,468.9 L750.4,469.1 L749.0,469.2 L747.5,469.3 L746.0,469.4 L744.5,469.5 L743.1,469.5 L741.6,469.6 L740.2,469.6 L738.8,469.6 L737.4,469.6 L736.1,469.6 L734.9,469.6 L733.7,469.5 L732.6,469.5 L731.6,469.4 L730.7,469.3 L729.9,469.2 L729.1,469.1 L728.5,469.1 L728.0,469.0 L727.6,468.9 L727.3,468.8 L727.2,468.7 L727.1,468.6 M764.1,477.4 L763.9,477.7 L763.6,478.1 L763.2,478.5 L762.7,478.9 L762.1,479.2 L761.4,479.5 L760.6,479.9 L759.7,480.2 L758.7,480.5 L757.6,480.7 L756.4,481.0 L755.2,481.2 L753.9,481.4 L752.6,481.6 L751.2,481.8 L749.8,481.9 L748.3,482.0 L746.8,482.2 L745.3,482.2 L743.9,482.3 L742.4,482.4 L741.0,482.4 L739.5,482.4 L738.2,482.4 L736.8,482.4 L735.6,482.4 L734.4,482.3 L733.2,482.3 L732.2,482.2 L731.2,482.2 L730.3,482.1 L729.5,482.0 L728.8,481.9 L728.3,481.8 L727.8,481.7 L727.5,481.6 L727.2,481.5 L727.1,481.5 L727.1,481.4 M764.1,489.9 L764.0,490.3 L763.8,490.7 L763.5,491.1 L763.0,491.5 L762.5,491.8 L761.8,492.2 L761.1,492.5 L760.2,492.8 L759.2,493.1 L758.2,493.4 L757.1,493.6 L755.9,493.9 L754.6,494.1 L753.3,494.3 L751.9,494.5 L750.5,494.6 L749.1,494.8 L747.6,494.9 L746.1,495.0 L744.7,495.1 L743.2,495.1 L741.7,495.2 L740.3,495.2 L738.9,495.2 L737.5,495.2 L736.2,495.2 L735.0,495.2 L733.8,495.1 L732.7,495.1 L731.7,495.0 L730.8,494.9 L729.9,494.8 L729.2,494.8 L728.6,494.7 L728.0,494.6 L727.6,494.5 L727.3,494.4 L727.2,494.3 L727.1,494.2 L727.2,494.2 M764.1,502.9 L763.9,503.3 L763.7,503.7 L763.3,504.1 L762.8,504.4 L762.2,504.8 L761.5,505.1 L760.7,505.4 L759.8,505.7 L758.8,506.0 L757.7,506.3 L756.5,506.6 L755.3,506.8 L754.0,507.0 L752.7,507.2 L751.3,507.4 L749.9,507.5 L748.4,507.6 L746.9,507.7 L745.5,507.8 L744.0,507.9 L742.5,508.0 L741.1,508.0 L739.7,508.0 L738.3,508.0 L736.9,508.0 L735.7,508.0 L734.4,507.9 L733.3,507.9 L732.2,507.8 L731.3,507.8 L730.4,507.7 L729.6,507.6 L728.9,507.5 L728.3,507.4 L727.8,507.3 L727.5,507.2 L727.2,507.2 L727.1,507.1 L727.1,507.0 M764.1,515.5 L764.0,515.9 L763.8,516.2 L763.5,516.6 L763.1,517.0 L762.5,517.3 L761.9,517.6 L761.1,518.0 L760.3,518.2 L759.3,518.5 L758.3,518.8 L757.2,519.0 L756.0,519.2 L754.7,519.4 L753.4,519.6 L752.0,519.8 L750.6,519.9 L749.2,520.0 L747.7,520.1 L746.3,520.2 L744.8,520.2 L743.3,520.3 L741.9,520.3 L740.4,520.3 L739.0,520.3 L737.7,520.2 L736.3,520.2 L735.1,520.1 L733.9,520.0 L732.8,519.9 L731.8,519.8 L730.8,519.7 L730.0,519.5 L729.2,519.4 L728.6,519.3 L728.1,519.1 L727.7,519.0 L727.4,518.9 L727.2,518.7 L727.1,518.6 L727.1,518.5 M764.1,524.5 L763.9,524.8 L763.7,525.1 L763.3,525.4 L762.8,525.7 L762.2,526.0 L761.5,526.2 L760.7,526.5 L759.8,526.7 L758.9,526.9 L757.8,527.1 L756.6,527.3 L755.4,527.4 L754.1,527.5 L752.8,527.7 L751.4,527.8 L750.0,527.8 L748.5,527.9 L747.1,527.9 L745.6,527.9 L744.1,527.9 L742.6,527.9 L741.2,527.9 L739.8,527.8 L738.4,527.7 L737.0,527.6 L735.8,527.5 L734.5,527.4 L733.4,527.3 L732.3,527.1 L731.3,527.0 L730.4,526.8 L729.6,526.7 L728.9,526.5 L728.4,526.3 L727.9,526.2 L727.5,526.0 L727.3,525.8 L727.1,525.7 L727.1,525.5 M764.1,530.9 L764.0,531.2 L763.8,531.5 L763.5,531.8 L763.1,532.1 L762.6,532.4 L761.9,532.7 L761.2,532.9 L760.3,533.2 L759.4,533.4 L758.4,533.6 L757.3,533.8 L756.1,533.9 L754.8,534.1 L753.5,534.2 L752.2,534.3 L750.8,534.4 L749.3,534.5 L747.9,534.5 L746.4,534.5 L744.9,534.5 L743.4,534.5 L742.0,534.5 L740.5,534.4 L739.1,534.4 L737.8,534.3 L736.4,534.2 L735.2,534.1 L734.0,533.9 L732.9,533.8 L731.9,533.7 L730.9,533.5 L730.1,533.4 L729.3,533.2 L728.7,533.0 L728.1,532.9 L727.7,532.7 L727.4,532.5 L727.2,532.4 L727.1,532.2 L727.1,532.0 M764.1,537.7 L764.0,538.0 L763.7,538.3 L763.4,538.6 L762.9,538.9 L762.3,539.1 L761.6,539.4 L760.8,539.6 L759.9,539.9 L758.9,540.1 L757.9,540.3 L756.7,540.4 L755.5,540.6 L754.2,540.7 L752.9,540.9 L751.5,540.9 L750.1,541.0 L748.6,541.1 L747.2,541.1 L745.7,541.1 L744.2,541.1 L742.8,541.1 L741.3,541.1 L739.9,541.0 L738.5,540.9 L737.1,540.8 L735.9,540.7 L734.6,540.6 L733.5,540.5 L732.4,540.4 L731.4,540.2 L730.5,540.0 L729.7,539.9 L729.0,539.7 L728.4,539.6 L727.9,539.4 L727.5,539.2 L727.3,539.1 L727.1,538.9 L727.1,538.7 M764.1,544.1 L764.0,544.4 L763.9,544.7 L763.6,545.0 L763.1,545.3 L762.6,545.6 L762.0,545.9 L761.3,546.1 L760.4,546.3 L759.5,546.6 L758.5,546.8 L757.4,547.0 L756.2,547.1 L754.9,547.3 L753.6,547.4 L752.3,547.5 L750.9,547.6 L749.4,547.7 L748.0,547.7 L746.5,547.7 L745.0,547.7 L743.5,547.7 L742.1,547.7 L740.6,547.6 L739.2,547.6 L737.9,547.5 L736.5,547.4 L735.3,547.3 L734.1,547.2 L733.0,547.0 L731.9,546.9 L731.0,546.7 L730.1,546.6 L729.4,546.4 L728.7,546.2 L728.2,546.1 L727.7,545.9 L727.4,545.7 L727.2,545.6 L727.1,545.4 L727.1,545.3 M764.1,550.8 L764.0,551.2 L763.7,551.5 L763.4,551.8 L762.9,552.0 L762.3,552.3 L761.7,552.6 L760.9,552.8 L760.0,553.1 L759.0,553.3 L758.0,553.5 L756.8,553.6 L755.6,553.8 L754.3,553.9 L753.0,554.0 L751.6,554.1 L750.2,554.2 L748.8,554.3 L747.3,554.3 L745.8,554.3 L744.3,554.3 L742.9,554.3 L741.4,554.3 L740.0,554.2 L738.6,554.1 L737.3,554.0 L736.0,553.9 L734.7,553.8 L733.6,553.7 L732.5,553.6 L731.5,553.4 L730.6,553.3 L729.8,553.1 L729.0,552.9 L728.4,552.8 L727.9,552.6 L727.6,552.4 L727.3,552.3 L727.1,552.1 L727.1,551.9 M764.0,557.6 L763.9,557.9 L763.6,558.2 L763.2,558.5 L762.7,558.8 L762.0,559.0 L761.3,559.3 L760.5,559.5 L759.6,559.8 L758.5,560.0 L757.4,560.1 L756.3,560.3 L755.0,560.5 L753.7,560.6 L752.4,560.7 L751.0,560.8 L749.5,560.8 L748.1,560.9 L746.6,560.9 L745.1,560.9 L743.7,560.9 L742.2,560.9 L740.8,560.8 L739.3,560.8 L738.0,560.7 L736.6,560.6 L735.4,560.5 L734.2,560.4 L733.1,560.2 L732.0,560.1 L731.1,559.9 L730.2,559.8 L729.4,559.6 L728.8,559.5 L728.2,559.3 L727.7,559.1 L727.4,559.0 L727.2,558.8 L727.1,558.6 L727.1,558.5 M764.1,564.0 L764.0,564.3 L763.8,564.6 L763.4,564.9 L763.0,565.2 L762.4,565.5 L761.7,565.8 L760.9,566.0 L760.1,566.2 L759.1,566.4 L758.0,566.6 L756.9,566.8 L755.7,567.0 L754.4,567.1 L753.1,567.2 L751.7,567.3 L750.3,567.4 L748.9,567.5 L747.4,567.5 L745.9,567.5 L744.5,567.5 L743.0,567.5 L741.5,567.5 L740.1,567.4 L738.7,567.3 L737.4,567.3 L736.1,567.2 L734.8,567.0 L733.7,566.9 L732.6,566.8 L731.6,566.6 L730.6,566.5 L729.8,566.3 L729.1,566.1 L728.5,566.0 L728.0,565.8 L727.6,565.6 L727.3,565.5 L727.1,565.3 L727.1,565.2 M764.1,570.8 L763.9,571.1 L763.6,571.4 L763.2,571.7 L762.7,572.0 L762.1,572.2 L761.4,572.5 L760.6,572.7 L759.6,572.9 L758.6,573.1 L757.5,573.3 L756.4,573.5 L755.1,573.6 L753.8,573.8 L752.5,573.9 L751.1,574.0 L749.7,574.0 L748.2,574.1 L746.7,574.1 L745.3,574.1 L743.8,574.1 L742.3,574.1 L740.9,574.0 L739.5,574.0 L738.1,573.9 L736.8,573.8 L735.5,573.7 L734.3,573.6 L733.1,573.4 L732.1,573.3 L731.1,573.2 L730.3,573.0 L729.5,572.8 L728.8,572.7 L728.2,572.5 L727.8,572.3 L727.4,572.2 L727.2,572.0 L727.1,571.8 L727.1,571.7 M764.1,577.2 L764.0,577.5 L763.8,577.8 L763.4,578.1 L763.0,578.4 L762.4,578.7 L761.8,578.9 L761.0,579.2 L760.1,579.4 L759.2,579.6 L758.1,579.8 L757.0,580.0 L755.8,580.2 L754.5,580.3 L753.2,580.4 L751.8,580.5 L750.4,580.6 L749.0,580.7 L747.5,580.7 L746.1,580.7 L744.6,580.7 L743.1,580.7 L741.6,580.7 L740.2,580.6 L738.8,580.5 L737.5,580.5 L736.2,580.4 L734.9,580.2 L733.7,580.1 L732.6,580.0 L731.6,579.8 L730.7,579.7 L729.9,579.5 L729.2,579.4 L728.5,579.2 L728.0,579.0 L727.6,578.9 L727.3,578.7 L727.2,578.5 L727.1,578.4 M764.1,583.9 L763.9,584.2 L763.6,584.6 L763.3,584.8 L762.8,585.1 L762.2,585.4 L761.4,585.7 L760.6,585.9 L759.7,586.1 L758.7,586.3 L757.6,586.5 L756.5,586.7 L755.2,586.8 L753.9,587.0 L752.6,587.1 L751.2,587.2 L749.8,587.2 L748.3,587.3 L746.9,587.3 L745.4,587.3 L743.9,587.3 L742.4,587.3 L741.0,587.2 L739.6,587.2 L738.2,587.1 L736.9,587.0 L735.6,586.9 L734.4,586.8 L733.2,586.7 L732.2,586.5 L731.2,586.4 L730.3,586.2 L729.5,586.1 L728.9,585.9 L728.3,585.7 L727.8,585.5 L727.5,585.4 L727.2,585.2 L727.1,585.1 L727.1,584.9 M764.1,590.4 L764.0,590.7 L763.8,591.0 L763.5,591.3 L763.0,591.6 L762.5,591.9 L761.8,592.1 L761.1,592.4 L760.2,592.6 L759.3,592.8 L758.2,593.0 L757.1,593.2 L755.9,593.4 L754.6,593.5 L753.3,593.6 L752.0,593.7 L750.6,593.8 L749.1,593.9 L747.6,593.9 L746.2,593.9 L744.7,593.9 L743.2,593.9 L741.8,593.9 L740.3,593.8 L738.9,593.8 L737.6,593.7 L736.3,593.6 L735.0,593.5 L733.8,593.3 L732.7,593.2 L731.7,593.1 L730.8,592.9 L729.9,592.7 L729.2,592.6 L728.6,592.4 L728.0,592.2 L727.6,592.1 L727.3,591.9 L727.2,591.7 L727.1,591.6 L727.2,591.4 M764.1,597.1 L763.9,597.4 L763.7,597.7 L763.3,598.0 L762.8,598.3 L762.2,598.6 L761.5,598.8 L760.7,599.1 L759.8,599.3 L758.8,599.5 L757.7,599.7 L756.6,599.9 L755.3,600.0 L754.0,600.2 L752.7,600.3 L751.3,600.4 L749.9,600.4 L748.4,600.5 L747.0,600.5 L745.5,600.5 L744.0,600.5 L742.5,600.5 L741.1,600.5 L739.7,600.4 L738.3,600.3 L737.0,600.2 L735.7,600.1 L734.5,600.0 L733.3,599.9 L732.3,599.7 L731.3,599.6 L730.4,599.4 L729.6,599.3 L728.9,599.1 L728.3,598.9 L727.8,598.8 L727.5,598.6 L727.2,598.4 L727.1,598.3 L727.1,598.1 M764.1,603.5 L764.0,603.9 L763.8,604.2 L763.5,604.5 L763.1,604.8 L762.5,605.0 L761.9,605.3 L761.1,605.5 L760.3,605.8 L759.3,606.0 L758.3,606.2 L757.2,606.4 L756.0,606.5 L754.7,606.7 L753.4,606.8 L752.1,606.9 L750.7,607.0 L749.2,607.1 L747.8,607.1 L746.3,607.1 L744.8,607.1 L743.3,607.1 L741.9,607.1 L740.4,607.0 L739.0,607.0 L737.7,606.9 L736.4,606.8 L735.1,606.7 L733.9,606.5 L732.8,606.4 L731.8,606.3 L730.9,606.1 L730.0,606.0 L729.3,605.8 L728.6,605.6 L728.1,605.5 L727.7,605.3 L727.4,605.1 L727.2,605.0 L727.1,604.8 L727.1,604.6 M764.1,610.3 L763.9,610.6 L763.7,610.9 L763.3,611.2 L762.8,611.5 L762.3,611.8 L761.6,612.0 L760.8,612.3 L759.9,612.5 L758.9,612.7 L757.8,612.9 L756.7,613.1 L755.4,613.2 L754.2,613.3 L752.8,613.5 L751.4,613.6 L750.0,613.6 L748.6,613.7 L747.1,613.7 L745.6,613.7 L744.1,613.7 L742.7,613.7 L741.2,613.7 L739.8,613.6 L738.4,613.5 L737.1,613.4 L735.8,613.3 L734.6,613.2 L733.4,613.1 L732.3,612.9 L731.3,612.8 L730.5,612.6 L729.7,612.5 L729.0,612.3 L728.4,612.1 L727.9,612.0 L727.5,611.8 L727.3,611.6 L727.1,611.5 L727.1,611.3 M764.1,616.7 L764.0,617.0 L763.8,617.3 L763.5,617.6 L763.1,617.9 L762.6,618.2 L761.9,618.5 L761.2,618.7 L760.4,619.0 L759.4,619.2 L758.4,619.4 L757.3,619.6 L756.1,619.7 L754.9,619.9 L753.5,620.0 L752.2,620.1 L750.8,620.2 L749.3,620.3 L747.9,620.3 L746.4,620.3 L744.9,620.3 L743.5,620.3 L742.0,620.3 L740.6,620.2 L739.1,620.2 L737.8,620.1 L736.5,620.0 L735.2,619.9 L734.0,619.8 L732.9,619.6 L731.9,619.5 L730.9,619.3 L730.1,619.2 L729.3,619.0 L728.7,618.8 L728.1,618.7 L727.7,618.5 L727.4,618.3 L727.2,618.2 L727.1,618.0 L727.1,617.9 M764.1,623.5 L764.0,623.8 L763.7,624.1 L763.4,624.4 L762.9,624.7 L762.3,624.9 L761.6,625.2 L760.8,625.4 L759.9,625.7 L759.0,625.9 L757.9,626.1 L756.7,626.2 L755.5,626.4 L754.3,626.5 L752.9,626.7 L751.5,626.7 L750.1,626.8 L748.7,626.9 L747.2,626.9 L745.7,626.9 L744.2,626.9 L742.8,626.9 L741.3,626.9 L739.9,626.8 L738.5,626.7 L737.2,626.6 L735.9,626.5 L734.7,626.4 L733.5,626.3 L732.4,626.2 L731.4,626.0 L730.5,625.9 L729.7,625.7 L729.0,625.5 L728.4,625.4 L727.9,625.2 L727.5,625.0 L727.3,624.9 L727.1,624.7 L727.1,624.5 M764.1,629.9 L764.0,630.2 L763.9,630.5 L763.6,630.8 L763.2,631.1 L762.6,631.4 L762.0,631.7 L761.3,631.9 L760.4,632.1 L759.5,632.4 L758.5,632.6 L757.4,632.8 L756.2,632.9 L755.0,633.1 L753.6,633.2 L752.3,633.3 L750.9,633.4 L749.5,633.4 L748.0,633.5 L746.5,633.5 L745.0,633.5 L743.6,633.5 L742.1,633.5 L740.7,633.4 L739.3,633.4 L737.9,633.3 L736.6,633.2 L735.3,633.1 L734.1,633.0 L733.0,632.8 L731.9,632.7 L731.0,632.5 L730.1,632.4 L729.4,632.2 L728.7,632.0 L728.2,631.9 L727.7,631.7 L727.4,631.5" fill="none" stroke="#fff" stroke-width="2.7" stroke-linecap="round" stroke-linejoin="round"/>
<circle cx="539.1" cy="517.0" r="2.3" fill="#fff" stroke="#000" stroke-width="1.1"/>
<path d="M95.1,538.7 L95.2,537.8 L95.4,536.8 L95.7,535.9 L96.2,534.9 L96.7,533.9 L97.4,532.9 L98.2,532.0 L99.0,531.1 L100.0,530.2 L101.1,529.3 L102.2,528.5 L103.4,527.7 L104.6,526.9 L106.0,526.2 L107.3,525.6 L108.7,525.0 L110.2,524.4 L111.7,524.0 L113.1,523.6 L114.6,523.2 L116.1,522.9 L117.5,522.7 L119.0,522.6 L120.4,522.5 L121.7,522.5 L123.0,522.6 L124.3,522.7 L125.4,522.9 L126.5,523.2 L127.6,523.6 L128.5,523.9 L129.3,524.4 L130.0,524.9 L130.7,525.4 L131.2,526.0 L131.6,526.7 L131.9,527.3 L132.0,528.0 L132.1,528.7 M95.1,527.1 L95.1,526.0 L95.3,524.8 L95.6,523.7 L95.9,522.5 L96.4,521.4 L97.0,520.3 L97.8,519.2 L98.6,518.1 L99.5,517.0 L100.5,516.0 L101.6,515.1 L102.7,514.2 L104.0,513.3 L105.2,512.5 L106.6,511.8 L108.0,511.1 L109.4,510.5 L110.9,510.0 L112.3,509.5 L113.8,509.2 L115.3,508.9 L116.8,508.7 L118.2,508.6 L119.6,508.5 L121.0,508.6 L122.3,508.7 L123.6,508.9 L124.8,509.2 L126.0,509.6 L127.0,510.1 L128.0,510.6 L128.9,511.2 L129.7,511.8 L130.3,512.5 L130.9,513.2 L131.4,514.0 L131.7,514.9 L132.0,515.7 L132.1,516.6 M95.1,516.3 L95.1,515.0 L95.2,513.8 L95.4,512.5 L95.7,511.2 L96.2,509.9 L96.7,508.6 L97.4,507.4 L98.1,506.2 L99.0,505.0 L99.9,503.9 L101.0,502.8 L102.1,501.8 L103.3,500.8 L104.5,499.9 L105.9,499.1 L107.2,498.3 L108.6,497.7 L110.1,497.1 L111.5,496.6 L113.0,496.3 L114.5,496.0 L116.0,495.8 L117.4,495.7 L118.9,495.6 L120.3,495.7 L121.6,495.9 L122.9,496.2 L124.2,496.5 L125.3,497.0 L126.5,497.5 L127.5,498.1 L128.4,498.8 L129.2,499.6 L130.0,500.4 L130.6,501.3 L131.1,502.2 L131.6,503.2 L131.9,504.2 L132.0,505.3 M95.1,505.2 L95.1,503.8 L95.3,502.4 L95.5,501.0 L95.9,499.6 L96.4,498.2 L97.0,496.8 L97.7,495.5 L98.5,494.2 L99.4,493.0 L100.4,491.8 L101.5,490.7 L102.6,489.6 L103.9,488.7 L105.1,487.8 L106.5,487.0 L107.9,486.3 L109.3,485.6 L110.7,485.1 L112.2,484.7 L113.7,484.4 L115.2,484.2 L116.6,484.1 L118.1,484.1 L119.5,484.2 L120.9,484.4 L122.2,484.7 L123.5,485.1 L124.7,485.6 L125.9,486.2 L126.9,486.9 L127.9,487.7 L128.8,488.5 L129.6,489.4 L130.3,490.4 L130.9,491.5 L131.3,492.5 L131.7,493.7 L132.0,494.8 L132.1,496.0 M95.1,496.6 L95.1,495.1 L95.2,493.6 L95.4,492.1 L95.7,490.6 L96.1,489.1 L96.7,487.7 L97.3,486.3 L98.1,484.9 L98.9,483.6 L99.8,482.3 L100.9,481.1 L102.0,480.0 L103.2,479.0 L104.4,478.0 L105.7,477.1 L107.1,476.4 L108.5,475.7 L110.0,475.1 L111.4,474.7 L112.9,474.4 L114.4,474.1 L115.8,474.0 L117.3,474.0 L118.7,474.1 L120.1,474.3 L121.5,474.7 L122.8,475.1 L124.1,475.6 L125.3,476.3 L126.4,477.0 L127.4,477.8 L128.3,478.8 L129.2,479.7 L129.9,480.8 L130.6,481.9 L131.1,483.1 L131.5,484.3 L131.8,485.6 L132.0,486.9 M95.2,489.3 L95.1,487.8 L95.1,486.2 L95.3,484.6 L95.5,483.1 L95.9,481.5 L96.3,480.0 L96.9,478.6 L97.6,477.1 L98.4,475.7 L99.3,474.4 L100.3,473.2 L101.4,472.0 L102.5,470.9 L103.8,469.9 L105.0,469.0 L106.4,468.1 L107.8,467.4 L109.2,466.8 L110.6,466.3 L112.1,466.0 L113.6,465.7 L115.1,465.6 L116.5,465.6 L118.0,465.7 L119.4,465.9 L120.8,466.2 L122.1,466.7 L123.4,467.2 L124.6,467.9 L125.8,468.7 L126.9,469.5 L127.8,470.5 L128.7,471.5 L129.5,472.6 L130.2,473.8 L130.8,475.0 L131.3,476.3 L131.7,477.6 L131.9,479.0 M95.3,483.4 L95.2,481.8 L95.1,480.2 L95.2,478.6 L95.4,477.0 L95.7,475.5 L96.1,473.9 L96.6,472.4 L97.2,470.9 L98.0,469.5 L98.8,468.1 L99.8,466.8 L100.8,465.6 L101.9,464.5 L103.1,463.4 L104.3,462.5 L105.6,461.6 L107.0,460.9 L108.4,460.2 L109.8,459.7 L111.3,459.3 L112.8,459.0 L114.3,458.9 L115.7,458.9 L117.2,458.9 L118.6,459.2 L120.0,459.5 L121.4,459.9 L122.7,460.5 L124.0,461.2 L125.2,461.9 L126.3,462.8 L127.3,463.8 L128.3,464.8 L129.1,466.0 L129.9,467.2 L130.5,468.4 L131.1,469.8 L131.5,471.1 M95.8,480.4 L95.5,478.9 L95.2,477.3 L95.1,475.7 L95.1,474.1 L95.2,472.5 L95.5,470.9 L95.8,469.4 L96.3,467.8 L96.9,466.4 L97.6,464.9 L98.4,463.5 L99.3,462.2 L100.2,461.0 L101.3,459.8 L102.4,458.7 L103.7,457.7 L104.9,456.9 L106.3,456.1 L107.6,455.4 L109.1,454.9 L110.5,454.5 L112.0,454.2 L113.5,454.0 L114.9,453.9 L116.4,454.0 L117.9,454.2 L119.3,454.5 L120.7,454.9 L122.0,455.5 L123.3,456.1 L124.5,456.9 L125.7,457.8 L126.8,458.7 L127.8,459.8 L128.7,460.9 L129.5,462.1 L130.2,463.4 L130.8,464.8 L131.3,466.1 M96.6,478.8 L96.0,477.3 L95.6,475.8 L95.3,474.2 L95.2,472.7 L95.1,471.1 L95.2,469.5 L95.3,468.0 L95.6,466.4 L96.0,464.9 L96.6,463.4 L97.2,462.0 L97.9,460.6 L98.8,459.2 L99.7,458.0 L100.7,456.8 L101.8,455.7 L103.0,454.7 L104.2,453.9 L105.5,453.1 L106.9,452.4 L108.3,451.8 L109.7,451.4 L111.2,451.1 L112.7,450.9 L114.1,450.8 L115.6,450.8 L117.1,451.0 L118.5,451.3 L119.9,451.7 L121.3,452.2 L122.6,452.8 L123.9,453.6 L125.1,454.4 L126.2,455.4 L127.2,456.4 L128.2,457.6 L129.1,458.8 M100.2,482.0 L99.3,480.9 L98.4,479.7 L97.6,478.4 L96.9,477.0 L96.3,475.6 L95.8,474.1 L95.5,472.6 L95.2,471.1 L95.1,469.6 L95.1,468.1 L95.2,466.5 L95.5,465.0 L95.8,463.5 L96.3,462.1 L96.8,460.6 L97.5,459.3 L98.3,458.0 L99.2,456.7 L100.1,455.6 L101.2,454.5 L102.3,453.5 L103.6,452.6 L104.8,451.8 L106.2,451.1 L107.5,450.6 L108.9,450.1 L110.4,449.8 L111.9,449.5 L113.3,449.4 L114.8,449.5 L116.3,449.6 L117.7,449.9 L119.2,450.2 L120.6,450.7 L121.9,451.4 L123.2,452.1 M111.3,486.4 L109.8,486.2 L108.4,485.8 L107.0,485.3 L105.6,484.7 L104.3,484.0 L103.1,483.2 L101.9,482.3 L100.8,481.3 L99.8,480.3 L98.8,479.1 L98.0,477.9 L97.2,476.6 L96.6,475.3 L96.1,473.9 L95.7,472.5 L95.4,471.0 L95.2,469.6 L95.1,468.1 L95.1,466.6 L95.3,465.2 L95.6,463.7 L96.0,462.3 L96.5,461.0 L97.1,459.6 L97.9,458.4 L98.7,457.2 L99.6,456.0 L100.6,455.0 L101.7,454.0 L102.9,453.2 L104.1,452.4 L105.4,451.7 L106.8,451.1 M125.8,482.1 L124.6,483.0 L123.4,483.8 L122.1,484.5 L120.8,485.1 L119.4,485.6 L118.0,486.0 L116.5,486.2 L115.1,486.4 L113.6,486.4 L112.1,486.3 L110.6,486.2 L109.2,485.9 L107.8,485.5 L106.4,484.9 L105.0,484.3 L103.8,483.6 L102.5,482.8 L101.4,481.9 L100.3,480.9 L99.3,479.9 L98.4,478.8 L97.6,477.6 L96.9,476.4 L96.4,475.1 L95.9,473.8 L95.5,472.4 L95.3,471.1 L95.1,469.7 L95.1,468.3 L95.2,467.0 L95.4,465.6 L95.8,464.3 L96.2,463.0 L96.8,461.8 L97.5,460.6 L98.2,459.5 M129.9,479.0 L129.2,480.2 L128.3,481.3 L127.4,482.3 L126.4,483.3 L125.3,484.1 L124.1,484.9 L122.8,485.6 L121.5,486.2 L120.2,486.7 L118.8,487.1 L117.3,487.4 L115.9,487.6 L114.4,487.7 L112.9,487.7 L111.4,487.6 L110.0,487.3 L108.5,487.0 L107.1,486.6 L105.8,486.0 L104.4,485.4 L103.2,484.7 L102.0,483.9 L100.9,483.1 L99.9,482.1 L98.9,481.1 L98.1,480.1 L97.3,479.0 L96.7,477.8 L96.1,476.6 L95.7,475.4 L95.4,474.2 L95.2,473.0 L95.1,471.7 L95.1,470.5 L95.3,469.2 L95.6,468.0 L96.0,466.9 L96.5,465.7 M130.9,480.8 L130.3,481.9 L129.6,483.0 L128.8,484.0 L127.9,485.0 L126.9,485.9 L125.9,486.8 L124.7,487.5 L123.5,488.2 L122.2,488.8 L120.9,489.3 L119.5,489.7 L118.1,490.0 L116.6,490.2 L115.2,490.4 L113.7,490.4 L112.2,490.3 L110.7,490.2 L109.3,489.9 L107.9,489.6 L106.5,489.1 L105.1,488.6 L103.9,488.0 L102.6,487.3 L101.5,486.6 L100.4,485.8 L99.4,484.9 L98.5,484.0 L97.7,483.0 L97.0,482.0 L96.4,481.0 L95.9,479.9 L95.5,478.8 L95.3,477.8 L95.1,476.7 L95.1,475.6 L95.2,474.5 L95.4,473.4 L95.7,472.4 M131.6,484.3 L131.1,485.4 L130.6,486.4 L130.0,487.5 L129.3,488.4 L128.4,489.3 L127.5,490.1 L126.5,490.9 L125.4,491.6 L124.2,492.3 L122.9,492.8 L121.6,493.3 L120.3,493.7 L118.9,494.0 L117.4,494.2 L116.0,494.4 L114.5,494.4 L113.0,494.4 L111.5,494.3 L110.1,494.1 L108.6,493.8 L107.2,493.5 L105.9,493.1 L104.5,492.6 L103.3,492.0 L102.1,491.4 L101.0,490.8 L99.9,490.0 L99.0,489.3 L98.1,488.4 L97.4,487.6 L96.7,486.7 L96.2,485.8 L95.7,484.9 L95.4,484.0 L95.2,483.1 L95.1,482.1 L95.1,481.2 L95.3,480.3 L95.5,479.5 M131.7,490.7 L131.4,491.6 L130.9,492.6 L130.3,493.4 L129.7,494.3 L128.9,495.1 L128.0,495.8 L127.0,496.5 L126.0,497.1 L124.8,497.7 L123.6,498.2 L122.3,498.6 L121.0,499.0 L119.6,499.3 L118.2,499.5 L116.8,499.7 L115.3,499.7 L113.8,499.7 L112.3,499.7 L110.9,499.6 L109.4,499.4 L108.0,499.1 L106.6,498.8 L105.2,498.4 L104.0,498.0 L102.7,497.5 L101.6,496.9 L100.5,496.3 L99.5,495.7 L98.6,495.1 L97.8,494.4 L97.0,493.7 L96.4,493.0 L95.9,492.3 L95.6,491.5 L95.3,490.8 L95.1,490.0 L95.1,489.3 L95.2,488.6 L95.4,487.9 M131.9,498.6 L131.6,499.4 L131.2,500.1 L130.7,500.9 L130.0,501.6 L129.3,502.2 L128.5,502.9 L127.6,503.4 L126.5,504.0 L125.4,504.4 L124.3,504.9 L123.0,505.2 L121.7,505.5 L120.4,505.8 L119.0,506.0 L117.5,506.1 L116.1,506.2 L114.6,506.2 L113.1,506.2 L111.7,506.1 L110.2,506.0 L108.8,505.8 L107.3,505.6 L106.0,505.3 L104.6,505.0 L103.4,504.6 L102.2,504.2 L101.1,503.8 L100.0,503.3 L99.0,502.8 L98.2,502.3 L97.4,501.8 L96.8,501.3 L96.2,500.7 L95.7,500.2 L95.4,499.6 L95.2,499.1 L95.1,498.6 L95.1,498.1 L95.3,497.6 M132.0,507.8 L131.8,508.4 L131.4,509.1 L131.0,509.6 L130.4,510.2 L129.7,510.7 L128.9,511.2 L128.1,511.6 L127.1,512.0 L126.0,512.4 L124.9,512.7 L123.7,513.0 L122.4,513.2 L121.1,513.4 L119.7,513.6 L118.3,513.7 L116.9,513.7 L115.4,513.8 L113.9,513.8 L112.5,513.7 L111.0,513.6 L109.5,513.5 L108.1,513.3 L106.7,513.1 L105.4,512.9 L104.1,512.7 L102.8,512.4 L101.7,512.1 L100.6,511.8 L99.6,511.5 L98.6,511.1 L97.8,510.8 L97.1,510.5 L96.5,510.1 L96.0,509.8 L95.6,509.4 L95.3,509.1 L95.1,508.8 L95.1,508.5 L95.2,508.2 M132.1,518.3 L131.9,518.7 L131.6,519.2 L131.2,519.6 L130.7,519.9 L130.1,520.3 L129.4,520.6 L128.6,520.9 L127.6,521.1 L126.6,521.4 L125.5,521.6 L124.4,521.8 L123.1,521.9 L121.8,522.0 L120.5,522.1 L119.1,522.2 L117.7,522.2 L116.2,522.2 L114.7,522.2 L113.3,522.1 L111.8,522.1 L110.3,522.0 L108.9,521.9 L107.5,521.8 L106.1,521.7 L104.8,521.5 L103.5,521.4 L102.3,521.2 L101.1,521.1 L100.1,520.9 L99.1,520.7 L98.2,520.6 L97.5,520.4 L96.8,520.3 L96.2,520.1 L95.8,520.0 L95.4,519.9 L95.2,519.8 L95.1,519.7 L95.1,519.7 L95.3,519.6 M132.0,530.0 L131.8,530.3 L131.4,530.5 L131.0,530.7 L130.4,530.8 L129.8,531.0 L129.0,531.1 L128.1,531.2 L127.2,531.3 L126.1,531.3 L125.0,531.4 L123.8,531.4 L122.5,531.4 L121.2,531.5 L119.8,531.4 L118.4,531.4 L117.0,531.4 L115.5,531.4 L114.1,531.3 L112.6,531.3 L111.1,531.2 L109.6,531.2 L108.2,531.1 L106.8,531.1 L105.5,531.0 L104.2,531.0 L102.9,530.9 L101.7,530.9 L100.6,530.9 L99.6,530.9 L98.7,530.9 L97.9,531.0 L97.1,531.0 L96.5,531.1 L96.0,531.1 L95.6,531.2 L95.3,531.3 L95.2,531.5 L95.1,531.6 L95.2,531.8 M132.1,542.1 L131.9,542.2 L131.6,542.2 L131.3,542.2 L130.8,542.1 L130.2,542.1 L129.4,542.0 L128.6,542.0 L127.7,541.9 L126.7,541.8 L125.6,541.7 L124.5,541.6 L123.2,541.5 L121.9,541.4 L120.6,541.3 L119.2,541.2 L117.8,541.2 L116.3,541.1 L114.8,541.0 L113.4,541.0 L111.9,540.9 L110.4,540.9 L109.0,540.9 L107.6,540.9 L106.2,540.9 L104.9,541.0 L103.6,541.1 L102.4,541.2 L101.2,541.3 L100.2,541.5 L99.2,541.6 L98.3,541.8 L97.5,542.0 L96.8,542.3 L96.3,542.6 L95.8,542.9 L95.5,543.2 L95.2,543.5 L95.1,543.9 L95.1,544.3 M132.1,554.8 L132.0,554.6 L131.8,554.4 L131.5,554.2 L131.0,554.0 L130.5,553.7 L129.8,553.5 L129.1,553.2 L128.2,553.0 L127.3,552.7 L126.2,552.5 L125.1,552.3 L123.9,552.1 L122.6,551.8 L121.3,551.6 L120.0,551.5 L118.5,551.3 L117.1,551.2 L115.6,551.1 L114.2,551.0 L112.7,551.0 L111.2,551.0 L109.8,551.0 L108.3,551.0 L106.9,551.1 L105.6,551.3 L104.3,551.4 L103.0,551.6 L101.8,551.9 L100.7,552.2 L99.7,552.5 L98.8,552.8 L97.9,553.2 L97.2,553.7 L96.6,554.1 L96.0,554.6 L95.6,555.1 L95.3,555.7 L95.2,556.2 L95.1,556.8 L95.2,557.4 M132.1,567.4 L131.9,567.2 L131.7,566.9 L131.3,566.6 L130.8,566.3 L130.2,566.0 L129.5,565.7 L128.7,565.4 L127.8,565.1 L126.8,564.9 L125.7,564.6 L124.6,564.4 L123.3,564.2 L122.0,564.0 L120.7,563.8 L119.3,563.6 L117.9,563.5 L116.4,563.4 L115.0,563.4 L113.5,563.4 L112.0,563.4 L110.5,563.4 L109.1,563.5 L107.7,563.6 L106.3,563.7 L105.0,563.9 L103.7,564.1 L102.5,564.4 L101.3,564.7 L100.3,565.0 L99.3,565.4 L98.4,565.8 L97.6,566.2 L96.9,566.7 L96.3,567.1 L95.8,567.7 L95.5,568.2 L95.2,568.7 L95.1,569.3 L95.1,569.9 M132.1,580.4 L132.0,580.1 L131.8,579.8 L131.5,579.6 L131.1,579.3 L130.5,579.0 L129.9,578.7 L129.1,578.4 L128.3,578.1 L127.3,577.8 L126.3,577.6 L125.2,577.3 L124.0,577.1 L122.7,576.9 L121.4,576.7 L120.1,576.5 L118.7,576.4 L117.2,576.3 L115.8,576.2 L114.3,576.2 L112.8,576.1 L111.3,576.2 L109.9,576.2 L108.4,576.3 L107.0,576.5 L105.7,576.6 L104.4,576.8 L103.1,577.1 L101.9,577.3 L100.8,577.6 L99.8,578.0 L98.8,578.4 L98.0,578.8 L97.3,579.2 L96.6,579.7 L96.1,580.2 L95.7,580.7 L95.4,581.2 L95.2,581.8 L95.1,582.4 L95.1,583.0 M132.1,593.1 L131.9,592.8 L131.7,592.5 L131.3,592.2 L130.8,591.9 L130.3,591.6 L129.6,591.3 L128.8,591.1 L127.9,590.8 L126.9,590.5 L125.8,590.2 L124.7,590.0 L123.4,589.8 L122.1,589.6 L120.8,589.4 L119.4,589.3 L118.0,589.1 L116.6,589.0 L115.1,589.0 L113.6,589.0 L112.1,589.0 L110.7,589.0 L109.2,589.1 L107.8,589.2 L106.4,589.3 L105.1,589.5 L103.8,589.7 L102.6,590.0 L101.4,590.3 L100.3,590.6 L99.3,591.0 L98.4,591.4 L97.6,591.8 L97.0,592.2 L96.4,592.7 L95.9,593.2 L95.5,593.7 L95.3,594.3 L95.1,594.9 L95.1,595.4 M132.1,606.0 L132.0,605.7 L131.8,605.5 L131.5,605.2 L131.1,604.9 L130.6,604.6 L129.9,604.3 L129.2,604.0 L128.4,603.7 L127.4,603.4 L126.4,603.2 L125.3,602.9 L124.1,602.7 L122.8,602.5 L121.5,602.3 L120.2,602.1 L118.8,602.0 L117.3,601.9 L115.9,601.8 L114.4,601.8 L112.9,601.7 L111.5,601.8 L110.0,601.8 L108.6,601.9 L107.1,602.0 L105.8,602.2 L104.5,602.4 L103.2,602.6 L102.0,602.9 L100.9,603.2 L99.9,603.6 L98.9,603.9 L98.1,604.3 L97.3,604.8 L96.7,605.2 L96.1,605.7 L95.7,606.3 L95.4,606.8 L95.2,607.4 L95.1,607.9 L95.1,608.5 M132.1,618.3 L132.0,618.1 L131.7,617.8 L131.4,617.6 L130.9,617.3 L130.3,617.1 L129.6,616.9 L128.8,616.6 L127.9,616.4 L127.0,616.2 L125.9,616.0 L124.7,615.8 L123.5,615.6 L122.3,615.4 L120.9,615.2 L119.5,615.1 L118.1,615.0 L116.7,614.9 L115.2,614.8 L113.7,614.8 L112.2,614.7 L110.8,614.7 L109.3,614.8 L107.9,614.8 L106.5,614.9 L105.2,614.9 L103.9,615.1 L102.7,615.2 L101.5,615.4 L100.4,615.5 L99.4,615.8 L98.5,616.0 L97.7,616.2 L97.0,616.5 L96.4,616.8 L95.9,617.1 L95.5,617.4 L95.3,617.7 L95.1,618.1 L95.1,618.4 M132.1,626.1 L132.0,626.0 L131.9,625.8 L131.6,625.6 L131.2,625.4 L130.6,625.2 L130.0,624.9 L129.3,624.7 L128.4,624.5 L127.5,624.3 L126.5,624.1 L125.4,623.9 L124.2,623.6 L123.0,623.5 L121.6,623.3 L120.3,623.1 L118.9,622.9 L117.5,622.8 L116.0,622.6 L114.5,622.5 L113.0,622.4 L111.6,622.4 L110.1,622.3 L108.7,622.3 L107.3,622.3 L105.9,622.3 L104.6,622.3 L103.3,622.4 L102.1,622.5 L101.0,622.6 L99.9,622.7 L99.0,622.9 L98.1,623.1 L97.4,623.3 L96.7,623.5 L96.2,623.8 L95.7,624.0 L95.4,624.3 L95.2,624.6 L95.1,624.9 L95.1,625.3 M132.1,632.6 L132.0,632.5 L131.7,632.3 L131.4,632.1 L130.9,631.9 L130.4,631.7 L129.7,631.4 L128.9,631.2 L128.0,631.0 L127.0,630.8 L126.0,630.6 L124.8,630.4 L123.6,630.2 L122.4,630.0 L121.0,629.8 L119.6,629.6 L118.2,629.5 L116.8,629.3 L115.3,629.2 L113.8,629.1 L112.4,629.0 L110.9,628.9 L109.4,628.9 L108.0,628.9 L106.6,628.9 L105.3,628.9 L104.0,629.0 L102.7,629.0 L101.6,629.1 L100.5,629.3 L99.5,629.4 L98.6,629.6 L97.8,629.8 L97.1,630.0 L96.4,630.2 L95.9,630.5 L95.6,630.8 L95.3,631.1 L95.1,631.4 L95.1,631.7 M132.0,639.2 L131.9,639.0 L131.6,638.8 L131.2,638.6 L130.7,638.4 L130.1,638.2 L129.3,637.9 L128.5,637.7 L127.6,637.5 L126.6,637.3 L125.5,637.1 L124.3,636.9 L123.1,636.7 L121.8,636.5 L120.4,636.3 L119.0,636.1 L117.6,636.0 L116.1,635.9 L114.6,635.7 L113.2,635.6 L111.7,635.6 L110.2,635.5 L108.8,635.5 L107.4,635.5 L106.0,635.5 L104.7,635.5 L103.4,635.6 L102.2,635.7 L101.1,635.8 L100.0,635.9 L99.1,636.1 L98.2,636.3 L97.4,636.5 L96.8,636.7 L96.2,636.9 L95.8,637.2 L95.4,637.5 L95.2,637.8 L95.1,638.1 L95.1,638.5 M132.1,645.9 L132.0,645.7 L131.8,645.5 L131.4,645.3 L131.0,645.1 L130.4,644.9 L129.7,644.7 L129.0,644.4 L128.1,644.2 L127.1,644.0 L126.1,643.8 L124.9,643.6 L123.7,643.4 L122.5,643.2 L121.1,643.0 L119.8,642.8 L118.3,642.7 L116.9,642.5 L115.4,642.4 L114.0,642.3 L112.5,642.2 L111.0,642.1 L109.6,642.1 L108.1,642.1 L106.7,642.1 L105.4,642.1 L104.1,642.1 L102.8,642.2 L101.7,642.3 L100.6,642.4 L99.6,642.6 L98.7,642.8 L97.8,642.9 L97.1,643.2 L96.5,643.4 L96.0,643.7 L95.6,643.9 L95.3,644.2 L95.1,644.5 L95.1,644.9 M132.1,652.4 L131.9,652.2 L131.6,652.0 L131.2,651.8 L130.7,651.6 L130.1,651.4 L129.4,651.2 L128.6,650.9 L127.7,650.7 L126.6,650.5 L125.6,650.3 L124.4,650.1 L123.2,649.9 L121.9,649.7 L120.5,649.5 L119.1,649.3 L117.7,649.2 L116.2,649.1 L114.8,648.9 L113.3,648.9 L111.8,648.8 L110.3,648.7 L108.9,648.7 L107.5,648.7 L106.1,648.7 L104.8,648.7 L103.5,648.8 L102.3,648.9 L101.2,649.0 L100.1,649.1 L99.1,649.3 L98.3,649.4 L97.5,649.6 L96.8,649.9 L96.2,650.1 L95.8,650.4 L95.4,650.7 L95.2,651.0 L95.1,651.3 L95.1,651.6 M132.1,659.1 L132.0,658.9 L131.8,658.7 L131.5,658.5 L131.0,658.3 L130.5,658.1 L129.8,657.9 L129.0,657.7 L128.2,657.4 L127.2,657.2 L126.2,657.0 L125.0,656.8 L123.8,656.6 L122.6,656.4 L121.2,656.2 L119.9,656.0 L118.5,655.9 L117.0,655.7 L115.6,655.6 L114.1,655.5 L112.6,655.4 L111.1,655.3 L109.7,655.3 L108.2,655.3 L106.8,655.3 L105.5,655.3 L104.2,655.3 L102.9,655.4 L101.8,655.5 L100.7,655.6 L99.7,655.8 L98.7,655.9 L97.9,656.1 L97.2,656.3 L96.5,656.6 L96.0,656.8 L95.6,657.1 L95.3,657.4 L95.2,657.7 L95.1,658.0 M132.1,665.6 L131.9,665.4 L131.6,665.2 L131.3,665.0 L130.8,664.8 L130.2,664.6 L129.5,664.4 L128.6,664.2 L127.7,663.9 L126.7,663.7 L125.6,663.5 L124.5,663.3 L123.3,663.1 L122.0,662.9 L120.6,662.7 L119.2,662.6 L117.8,662.4 L116.3,662.3 L114.9,662.2 L113.4,662.1 L111.9,662.0 L110.5,661.9 L109.0,661.9 L107.6,661.9 L106.2,661.9 L104.9,661.9 L103.6,662.0 L102.4,662.1 L101.2,662.2 L100.2,662.3 L99.2,662.4 L98.3,662.6 L97.5,662.8 L96.9,663.1 L96.3,663.3 L95.8,663.6 L95.5,663.8 L95.2,664.1 L95.1,664.5 L95.1,664.8 M132.1,672.3 L132.0,672.1 L131.8,671.9 L131.5,671.7 L131.0,671.5 L130.5,671.3 L129.8,671.1 L129.1,670.9 L128.2,670.7 L127.3,670.4 L126.2,670.2 L125.1,670.0 L123.9,669.8 L122.7,669.6 L121.3,669.4 L120.0,669.2 L118.6,669.1 L117.1,668.9 L115.7,668.8 L114.2,668.7 L112.7,668.6 L111.2,668.5 L109.8,668.5 L108.3,668.5 L106.9,668.5 L105.6,668.5 L104.3,668.5 L103.0,668.6 L101.9,668.7 L100.8,668.8 L99.7,669.0 L98.8,669.1 L98.0,669.3 L97.2,669.5 L96.6,669.8 L96.1,670.0 L95.6,670.3 L95.3,670.6 L95.2,670.9 L95.1,671.2 L95.2,671.6 M132.1,678.8 L131.9,678.6 L131.7,678.4 L131.3,678.2 L130.8,678.0 L130.2,677.8 L129.5,677.6 L128.7,677.4 L127.8,677.2 L126.8,676.9 L125.7,676.7 L124.6,676.5 L123.4,676.3 L122.1,676.1 L120.7,675.9 L119.3,675.8 L117.9,675.6 L116.5,675.5 L115.0,675.4 L113.5,675.3 L112.0,675.2 L110.6,675.1 L109.1,675.1 L107.7,675.1 L106.3,675.1 L105.0,675.1 L103.7,675.2 L102.5,675.2 L101.3,675.4 L100.3,675.5 L99.3,675.6 L98.4,675.8 L97.6,676.0 L96.9,676.2 L96.3,676.5 L95.9,676.7 L95.5,677.0 L95.2,677.3 L95.1,677.6 L95.1,678.0 M132.1,685.5 L132.0,685.3 L131.8,685.1 L131.5,684.9 L131.1,684.7 L130.6,684.5 L129.9,684.3 L129.2,684.1 L128.3,683.9 L127.4,683.7 L126.3,683.4 L125.2,683.2 L124.0,683.0 L122.8,682.8 L121.5,682.6 L120.1,682.5 L118.7,682.3 L117.2,682.2 L115.8,682.0 L114.3,681.9 L112.8,681.8 L111.4,681.8 L109.9,681.7 L108.5,681.7 L107.1,681.7 L105.7,681.7 L104.4,681.7 L103.1,681.8 L101.9,681.9 L100.8,682.0 L99.8,682.2 L98.9,682.3 L98.0,682.5 L97.3,682.7 L96.6,682.9 L96.1,683.2 L95.7,683.5 L95.4,683.8 L95.2,684.1 L95.1,684.4 L95.1,684.7 M132.1,692.0 L131.9,691.8 L131.7,691.7 L131.3,691.5 L130.9,691.2 L130.3,691.0 L129.6,690.8 L128.8,690.6 L127.9,690.4 L126.9,690.2 L125.8,689.9 L124.7,689.7 L123.5,689.5 L122.2,689.3 L120.8,689.2 L119.5,689.0 L118.0,688.8 L116.6,688.7 L115.1,688.6 L113.6,688.5 L112.2,688.4 L110.7,688.3 L109.2,688.3 L107.8,688.3 L106.4,688.3 L105.1,688.3 L103.8,688.4 L102.6,688.4 L101.4,688.5 L100.4,688.7 L99.4,688.8 L98.5,689.0 L97.7,689.2 L97.0,689.4 L96.4,689.7 L95.9,689.9 L95.5,690.2 L95.3,690.5 L95.1,690.8 L95.1,691.1 M132.1,698.7 L132.0,698.5 L131.8,698.4 L131.5,698.2 L131.1,698.0 L130.6,697.7 L130.0,697.5 L129.2,697.3 L128.4,697.1 L127.4,696.9 L126.4,696.7 L125.3,696.4 L124.1,696.2 L122.9,696.0 L121.6,695.9 L120.2,695.7 L118.8,695.5 L117.4,695.4 L115.9,695.2 L114.4,695.1 L113.0,695.0 L111.5,695.0 L110.0,694.9 L108.6,694.9 L107.2,694.9 L105.8,694.9 L104.5,694.9 L103.2,695.0 L102.0,695.1 L100.9,695.2 L99.9,695.3 L98.9,695.5 L98.1,695.7 L97.3,695.9 L96.7,696.1 L96.1,696.4 L95.7,696.6 L95.4,696.9 L95.2,697.2 L95.1,697.6 L95.1,697.9 M132.1,705.2 L132.0,705.1 L131.7,704.9 L131.4,704.7 L130.9,704.5 L130.3,704.2 L129.6,704.0 L128.8,703.8 L128.0,703.6 L127.0,703.4 L125.9,703.2 L124.8,702.9 L123.6,702.7 L122.3,702.6 L120.9,702.4 L119.6,702.2 L118.1,702.0 L116.7,701.9 L115.2,701.8 L113.8,701.7 L112.3,701.6 L110.8,701.5 L109.3,701.5 L107.9,701.5 L106.5,701.5 L105.2,701.5 L103.9,701.6 L102.7,701.6 L101.5,701.7 L100.4,701.9 L99.4,702.0 L98.5,702.2 L97.7,702.4 L97.0,702.6 L96.4,702.8 L95.9,703.1 L95.5,703.4 L95.3,703.7 L95.1,704.0 L95.1,704.3 M132.0,711.8 L131.9,711.6 L131.6,711.4 L131.2,711.2 L130.6,711.0 L130.0,710.7 L129.3,710.5 L128.4,710.3 L127.5,710.1 L126.5,709.9 L125.4,709.7 L124.2,709.5 L123.0,709.3 L121.7,709.1 L120.3,708.9 L118.9,708.7 L117.5,708.6 L116.0,708.4 L114.5,708.3 L113.1,708.2 L111.6,708.2 L110.1,708.1 L108.7,708.1 L107.3,708.1 L105.9,708.1 L104.6,708.1 L103.3,708.2 L102.1,708.3 L101.0,708.4 L100.0,708.5 L99.0,708.7 L98.1,708.9 L97.4,709.1 L96.7,709.3 L96.2,709.6 L95.7,709.8 L95.4,710.1 L95.2,710.4 L95.1,710.7 L95.1,711.1 M132.1,718.5 L132.0,718.3 L131.7,718.1 L131.4,717.9 L130.9,717.7 L130.4,717.5 L129.7,717.2 L128.9,717.0 L128.0,716.8 L127.1,716.6 L126.0,716.4 L124.9,716.2 L123.7,716.0 L122.4,715.8 L121.1,715.6 L119.7,715.4 L118.3,715.3 L116.8,715.1 L115.3,715.0 L113.9,714.9 L112.4,714.8 L110.9,714.7 L109.5,714.7 L108.0,714.7 L106.6,714.7 L105.3,714.7 L104.0,714.8 L102.8,714.8 L101.6,714.9 L100.5,715.0 L99.5,715.2 L98.6,715.4 L97.8,715.6 L97.1,715.8 L96.5,716.0 L96.0,716.3 L95.6,716.6 L95.3,716.8 L95.1,717.2 L95.1,717.5 M132.1,725.0 L131.9,724.8 L131.6,724.6 L131.2,724.4 L130.7,724.2 L130.1,724.0 L129.3,723.7 L128.5,723.5 L127.6,723.3 L126.6,723.1 L125.5,722.9 L124.3,722.7 L123.1,722.5 L121.8,722.3 L120.4,722.1 L119.0,721.9 L117.6,721.8 L116.1,721.7 L114.7,721.5 L113.2,721.4 L111.7,721.4 L110.2,721.3 L108.8,721.3 L107.4,721.3 L106.0,721.3 L104.7,721.3 L103.4,721.4 L102.2,721.5 L101.1,721.6 L100.0,721.7 L99.1,721.9 L98.2,722.1 L97.4,722.3 L96.8,722.5 L96.2,722.7 L95.8,723.0 L95.4,723.3 L95.2,723.6 L95.1,723.9 L95.1,724.2 M132.1,731.7 L132.0,731.5 L131.8,731.3 L131.4,731.1 L131.0,730.9 L130.4,730.7 L129.7,730.5 L129.0,730.2 L128.1,730.0 L127.1,729.8 L126.1,729.6 L125.0,729.4 L123.8,729.2 L122.5,729.0 L121.2,728.8 L119.8,728.6 L118.4,728.5 L116.9,728.3" fill="none" stroke="#000" stroke-width="4.3" stroke-linecap="round" stroke-linejoin="round"/>
<path d="M95.1,538.7 L95.2,537.8 L95.4,536.8 L95.7,535.9 L96.2,534.9 L96.7,533.9 L97.4,532.9 L98.2,532.0 L99.0,531.1 L100.0,530.2 L101.1,529.3 L102.2,528.5 L103.4,527.7 L104.6,526.9 L106.0,526.2 L107.3,525.6 L108.7,525.0 L110.2,524.4 L111.7,524.0 L113.1,523.6 L114.6,523.2 L116.1,522.9 L117.5,522.7 L119.0,522.6 L120.4,522.5 L121.7,522.5 L123.0,522.6 L124.3,522.7 L125.4,522.9 L126.5,523.2 L127.6,523.6 L128.5,523.9 L129.3,524.4 L130.0,524.9 L130.7,525.4 L131.2,526.0 L131.6,526.7 L131.9,527.3 L132.0,528.0 L132.1,528.7 M95.1,527.1 L95.1,526.0 L95.3,524.8 L95.6,523.7 L95.9,522.5 L96.4,521.4 L97.0,520.3 L97.8,519.2 L98.6,518.1 L99.5,517.0 L100.5,516.0 L101.6,515.1 L102.7,514.2 L104.0,513.3 L105.2,512.5 L106.6,511.8 L108.0,511.1 L109.4,510.5 L110.9,510.0 L112.3,509.5 L113.8,509.2 L115.3,508.9 L116.8,508.7 L118.2,508.6 L119.6,508.5 L121.0,508.6 L122.3,508.7 L123.6,508.9 L124.8,509.2 L126.0,509.6 L127.0,510.1 L128.0,510.6 L128.9,511.2 L129.7,511.8 L130.3,512.5 L130.9,513.2 L131.4,514.0 L131.7,514.9 L132.0,515.7 L132.1,516.6 M95.1,516.3 L95.1,515.0 L95.2,513.8 L95.4,512.5 L95.7,511.2 L96.2,509.9 L96.7,508.6 L97.4,507.4 L98.1,506.2 L99.0,505.0 L99.9,503.9 L101.0,502.8 L102.1,501.8 L103.3,500.8 L104.5,499.9 L105.9,499.1 L107.2,498.3 L108.6,497.7 L110.1,497.1 L111.5,496.6 L113.0,496.3 L114.5,496.0 L116.0,495.8 L117.4,495.7 L118.9,495.6 L120.3,495.7 L121.6,495.9 L122.9,496.2 L124.2,496.5 L125.3,497.0 L126.5,497.5 L127.5,498.1 L128.4,498.8 L129.2,499.6 L130.0,500.4 L130.6,501.3 L131.1,502.2 L131.6,503.2 L131.9,504.2 L132.0,505.3 M95.1,505.2 L95.1,503.8 L95.3,502.4 L95.5,501.0 L95.9,499.6 L96.4,498.2 L97.0,496.8 L97.7,495.5 L98.5,494.2 L99.4,493.0 L100.4,491.8 L101.5,490.7 L102.6,489.6 L103.9,488.7 L105.1,487.8 L106.5,487.0 L107.9,486.3 L109.3,485.6 L110.7,485.1 L112.2,484.7 L113.7,484.4 L115.2,484.2 L116.6,484.1 L118.1,484.1 L119.5,484.2 L120.9,484.4 L122.2,484.7 L123.5,485.1 L124.7,485.6 L125.9,486.2 L126.9,486.9 L127.9,487.7 L128.8,488.5 L129.6,489.4 L130.3,490.4 L130.9,491.5 L131.3,492.5 L131.7,493.7 L132.0,494.8 L132.1,496.0 M95.1,496.6 L95.1,495.1 L95.2,493.6 L95.4,492.1 L95.7,490.6 L96.1,489.1 L96.7,487.7 L97.3,486.3 L98.1,484.9 L98.9,483.6 L99.8,482.3 L100.9,481.1 L102.0,480.0 L103.2,479.0 L104.4,478.0 L105.7,477.1 L107.1,476.4 L108.5,475.7 L110.0,475.1 L111.4,474.7 L112.9,474.4 L114.4,474.1 L115.8,474.0 L117.3,474.0 L118.7,474.1 L120.1,474.3 L121.5,474.7 L122.8,475.1 L124.1,475.6 L125.3,476.3 L126.4,477.0 L127.4,477.8 L128.3,478.8 L129.2,479.7 L129.9,480.8 L130.6,481.9 L131.1,483.1 L131.5,484.3 L131.8,485.6 L132.0,486.9 M95.2,489.3 L95.1,487.8 L95.1,486.2 L95.3,484.6 L95.5,483.1 L95.9,481.5 L96.3,480.0 L96.9,478.6 L97.6,477.1 L98.4,475.7 L99.3,474.4 L100.3,473.2 L101.4,472.0 L102.5,470.9 L103.8,469.9 L105.0,469.0 L106.4,468.1 L107.8,467.4 L109.2,466.8 L110.6,466.3 L112.1,466.0 L113.6,465.7 L115.1,465.6 L116.5,465.6 L118.0,465.7 L119.4,465.9 L120.8,466.2 L122.1,466.7 L123.4,467.2 L124.6,467.9 L125.8,468.7 L126.9,469.5 L127.8,470.5 L128.7,471.5 L129.5,472.6 L130.2,473.8 L130.8,475.0 L131.3,476.3 L131.7,477.6 L131.9,479.0 M95.3,483.4 L95.2,481.8 L95.1,480.2 L95.2,478.6 L95.4,477.0 L95.7,475.5 L96.1,473.9 L96.6,472.4 L97.2,470.9 L98.0,469.5 L98.8,468.1 L99.8,466.8 L100.8,465.6 L101.9,464.5 L103.1,463.4 L104.3,462.5 L105.6,461.6 L107.0,460.9 L108.4,460.2 L109.8,459.7 L111.3,459.3 L112.8,459.0 L114.3,458.9 L115.7,458.9 L117.2,458.9 L118.6,459.2 L120.0,459.5 L121.4,459.9 L122.7,460.5 L124.0,461.2 L125.2,461.9 L126.3,462.8 L127.3,463.8 L128.3,464.8 L129.1,466.0 L129.9,467.2 L130.5,468.4 L131.1,469.8 L131.5,471.1 M95.8,480.4 L95.5,478.9 L95.2,477.3 L95.1,475.7 L95.1,474.1 L95.2,472.5 L95.5,470.9 L95.8,469.4 L96.3,467.8 L96.9,466.4 L97.6,464.9 L98.4,463.5 L99.3,462.2 L100.2,461.0 L101.3,459.8 L102.4,458.7 L103.7,457.7 L104.9,456.9 L106.3,456.1 L107.6,455.4 L109.1,454.9 L110.5,454.5 L112.0,454.2 L113.5,454.0 L114.9,453.9 L116.4,454.0 L117.9,454.2 L119.3,454.5 L120.7,454.9 L122.0,455.5 L123.3,456.1 L124.5,456.9 L125.7,457.8 L126.8,458.7 L127.8,459.8 L128.7,460.9 L129.5,462.1 L130.2,463.4 L130.8,464.8 L131.3,466.1 M96.6,478.8 L96.0,477.3 L95.6,475.8 L95.3,474.2 L95.2,472.7 L95.1,471.1 L95.2,469.5 L95.3,468.0 L95.6,466.4 L96.0,464.9 L96.6,463.4 L97.2,462.0 L97.9,460.6 L98.8,459.2 L99.7,458.0 L100.7,456.8 L101.8,455.7 L103.0,454.7 L104.2,453.9 L105.5,453.1 L106.9,452.4 L108.3,451.8 L109.7,451.4 L111.2,451.1 L112.7,450.9 L114.1,450.8 L115.6,450.8 L117.1,451.0 L118.5,451.3 L119.9,451.7 L121.3,452.2 L122.6,452.8 L123.9,453.6 L125.1,454.4 L126.2,455.4 L127.2,456.4 L128.2,457.6 L129.1,458.8 M100.2,482.0 L99.3,480.9 L98.4,479.7 L97.6,478.4 L96.9,477.0 L96.3,475.6 L95.8,474.1 L95.5,472.6 L95.2,471.1 L95.1,469.6 L95.1,468.1 L95.2,466.5 L95.5,465.0 L95.8,463.5 L96.3,462.1 L96.8,460.6 L97.5,459.3 L98.3,458.0 L99.2,456.7 L100.1,455.6 L101.2,454.5 L102.3,453.5 L103.6,452.6 L104.8,451.8 L106.2,451.1 L107.5,450.6 L108.9,450.1 L110.4,449.8 L111.9,449.5 L113.3,449.4 L114.8,449.5 L116.3,449.6 L117.7,449.9 L119.2,450.2 L120.6,450.7 L121.9,451.4 L123.2,452.1 M111.3,486.4 L109.8,486.2 L108.4,485.8 L107.0,485.3 L105.6,484.7 L104.3,484.0 L103.1,483.2 L101.9,482.3 L100.8,481.3 L99.8,480.3 L98.8,479.1 L98.0,477.9 L97.2,476.6 L96.6,475.3 L96.1,473.9 L95.7,472.5 L95.4,471.0 L95.2,469.6 L95.1,468.1 L95.1,466.6 L95.3,465.2 L95.6,463.7 L96.0,462.3 L96.5,461.0 L97.1,459.6 L97.9,458.4 L98.7,457.2 L99.6,456.0 L100.6,455.0 L101.7,454.0 L102.9,453.2 L104.1,452.4 L105.4,451.7 L106.8,451.1 M125.8,482.1 L124.6,483.0 L123.4,483.8 L122.1,484.5 L120.8,485.1 L119.4,485.6 L118.0,486.0 L116.5,486.2 L115.1,486.4 L113.6,486.4 L112.1,486.3 L110.6,486.2 L109.2,485.9 L107.8,485.5 L106.4,484.9 L105.0,484.3 L103.8,483.6 L102.5,482.8 L101.4,481.9 L100.3,480.9 L99.3,479.9 L98.4,478.8 L97.6,477.6 L96.9,476.4 L96.4,475.1 L95.9,473.8 L95.5,472.4 L95.3,471.1 L95.1,469.7 L95.1,468.3 L95.2,467.0 L95.4,465.6 L95.8,464.3 L96.2,463.0 L96.8,461.8 L97.5,460.6 L98.2,459.5 M129.9,479.0 L129.2,480.2 L128.3,481.3 L127.4,482.3 L126.4,483.3 L125.3,484.1 L124.1,484.9 L122.8,485.6 L121.5,486.2 L120.2,486.7 L118.8,487.1 L117.3,487.4 L115.9,487.6 L114.4,487.7 L112.9,487.7 L111.4,487.6 L110.0,487.3 L108.5,487.0 L107.1,486.6 L105.8,486.0 L104.4,485.4 L103.2,484.7 L102.0,483.9 L100.9,483.1 L99.9,482.1 L98.9,481.1 L98.1,480.1 L97.3,479.0 L96.7,477.8 L96.1,476.6 L95.7,475.4 L95.4,474.2 L95.2,473.0 L95.1,471.7 L95.1,470.5 L95.3,469.2 L95.6,468.0 L96.0,466.9 L96.5,465.7 M130.9,480.8 L130.3,481.9 L129.6,483.0 L128.8,484.0 L127.9,485.0 L126.9,485.9 L125.9,486.8 L124.7,487.5 L123.5,488.2 L122.2,488.8 L120.9,489.3 L119.5,489.7 L118.1,490.0 L116.6,490.2 L115.2,490.4 L113.7,490.4 L112.2,490.3 L110.7,490.2 L109.3,489.9 L107.9,489.6 L106.5,489.1 L105.1,488.6 L103.9,488.0 L102.6,487.3 L101.5,486.6 L100.4,485.8 L99.4,484.9 L98.5,484.0 L97.7,483.0 L97.0,482.0 L96.4,481.0 L95.9,479.9 L95.5,478.8 L95.3,477.8 L95.1,476.7 L95.1,475.6 L95.2,474.5 L95.4,473.4 L95.7,472.4 M131.6,484.3 L131.1,485.4 L130.6,486.4 L130.0,487.5 L129.3,488.4 L128.4,489.3 L127.5,490.1 L126.5,490.9 L125.4,491.6 L124.2,492.3 L122.9,492.8 L121.6,493.3 L120.3,493.7 L118.9,494.0 L117.4,494.2 L116.0,494.4 L114.5,494.4 L113.0,494.4 L111.5,494.3 L110.1,494.1 L108.6,493.8 L107.2,493.5 L105.9,493.1 L104.5,492.6 L103.3,492.0 L102.1,491.4 L101.0,490.8 L99.9,490.0 L99.0,489.3 L98.1,488.4 L97.4,487.6 L96.7,486.7 L96.2,485.8 L95.7,484.9 L95.4,484.0 L95.2,483.1 L95.1,482.1 L95.1,481.2 L95.3,480.3 L95.5,479.5 M131.7,490.7 L131.4,491.6 L130.9,492.6 L130.3,493.4 L129.7,494.3 L128.9,495.1 L128.0,495.8 L127.0,496.5 L126.0,497.1 L124.8,497.7 L123.6,498.2 L122.3,498.6 L121.0,499.0 L119.6,499.3 L118.2,499.5 L116.8,499.7 L115.3,499.7 L113.8,499.7 L112.3,499.7 L110.9,499.6 L109.4,499.4 L108.0,499.1 L106.6,498.8 L105.2,498.4 L104.0,498.0 L102.7,497.5 L101.6,496.9 L100.5,496.3 L99.5,495.7 L98.6,495.1 L97.8,494.4 L97.0,493.7 L96.4,493.0 L95.9,492.3 L95.6,491.5 L95.3,490.8 L95.1,490.0 L95.1,489.3 L95.2,488.6 L95.4,487.9 M131.9,498.6 L131.6,499.4 L131.2,500.1 L130.7,500.9 L130.0,501.6 L129.3,502.2 L128.5,502.9 L127.6,503.4 L126.5,504.0 L125.4,504.4 L124.3,504.9 L123.0,505.2 L121.7,505.5 L120.4,505.8 L119.0,506.0 L117.5,506.1 L116.1,506.2 L114.6,506.2 L113.1,506.2 L111.7,506.1 L110.2,506.0 L108.8,505.8 L107.3,505.6 L106.0,505.3 L104.6,505.0 L103.4,504.6 L102.2,504.2 L101.1,503.8 L100.0,503.3 L99.0,502.8 L98.2,502.3 L97.4,501.8 L96.8,501.3 L96.2,500.7 L95.7,500.2 L95.4,499.6 L95.2,499.1 L95.1,498.6 L95.1,498.1 L95.3,497.6 M132.0,507.8 L131.8,508.4 L131.4,509.1 L131.0,509.6 L130.4,510.2 L129.7,510.7 L128.9,511.2 L128.1,511.6 L127.1,512.0 L126.0,512.4 L124.9,512.7 L123.7,513.0 L122.4,513.2 L121.1,513.4 L119.7,513.6 L118.3,513.7 L116.9,513.7 L115.4,513.8 L113.9,513.8 L112.5,513.7 L111.0,513.6 L109.5,513.5 L108.1,513.3 L106.7,513.1 L105.4,512.9 L104.1,512.7 L102.8,512.4 L101.7,512.1 L100.6,511.8 L99.6,511.5 L98.6,511.1 L97.8,510.8 L97.1,510.5 L96.5,510.1 L96.0,509.8 L95.6,509.4 L95.3,509.1 L95.1,508.8 L95.1,508.5 L95.2,508.2 M132.1,518.3 L131.9,518.7 L131.6,519.2 L131.2,519.6 L130.7,519.9 L130.1,520.3 L129.4,520.6 L128.6,520.9 L127.6,521.1 L126.6,521.4 L125.5,521.6 L124.4,521.8 L123.1,521.9 L121.8,522.0 L120.5,522.1 L119.1,522.2 L117.7,522.2 L116.2,522.2 L114.7,522.2 L113.3,522.1 L111.8,522.1 L110.3,522.0 L108.9,521.9 L107.5,521.8 L106.1,521.7 L104.8,521.5 L103.5,521.4 L102.3,521.2 L101.1,521.1 L100.1,520.9 L99.1,520.7 L98.2,520.6 L97.5,520.4 L96.8,520.3 L96.2,520.1 L95.8,520.0 L95.4,519.9 L95.2,519.8 L95.1,519.7 L95.1,519.7 L95.3,519.6 M132.0,530.0 L131.8,530.3 L131.4,530.5 L131.0,530.7 L130.4,530.8 L129.8,531.0 L129.0,531.1 L128.1,531.2 L127.2,531.3 L126.1,531.3 L125.0,531.4 L123.8,531.4 L122.5,531.4 L121.2,531.5 L119.8,531.4 L118.4,531.4 L117.0,531.4 L115.5,531.4 L114.1,531.3 L112.6,531.3 L111.1,531.2 L109.6,531.2 L108.2,531.1 L106.8,531.1 L105.5,531.0 L104.2,531.0 L102.9,530.9 L101.7,530.9 L100.6,530.9 L99.6,530.9 L98.7,530.9 L97.9,531.0 L97.1,531.0 L96.5,531.1 L96.0,531.1 L95.6,531.2 L95.3,531.3 L95.2,531.5 L95.1,531.6 L95.2,531.8 M132.1,542.1 L131.9,542.2 L131.6,542.2 L131.3,542.2 L130.8,542.1 L130.2,542.1 L129.4,542.0 L128.6,542.0 L127.7,541.9 L126.7,541.8 L125.6,541.7 L124.5,541.6 L123.2,541.5 L121.9,541.4 L120.6,541.3 L119.2,541.2 L117.8,541.2 L116.3,541.1 L114.8,541.0 L113.4,541.0 L111.9,540.9 L110.4,540.9 L109.0,540.9 L107.6,540.9 L106.2,540.9 L104.9,541.0 L103.6,541.1 L102.4,541.2 L101.2,541.3 L100.2,541.5 L99.2,541.6 L98.3,541.8 L97.5,542.0 L96.8,542.3 L96.3,542.6 L95.8,542.9 L95.5,543.2 L95.2,543.5 L95.1,543.9 L95.1,544.3 M132.1,554.8 L132.0,554.6 L131.8,554.4 L131.5,554.2 L131.0,554.0 L130.5,553.7 L129.8,553.5 L129.1,553.2 L128.2,553.0 L127.3,552.7 L126.2,552.5 L125.1,552.3 L123.9,552.1 L122.6,551.8 L121.3,551.6 L120.0,551.5 L118.5,551.3 L117.1,551.2 L115.6,551.1 L114.2,551.0 L112.7,551.0 L111.2,551.0 L109.8,551.0 L108.3,551.0 L106.9,551.1 L105.6,551.3 L104.3,551.4 L103.0,551.6 L101.8,551.9 L100.7,552.2 L99.7,552.5 L98.8,552.8 L97.9,553.2 L97.2,553.7 L96.6,554.1 L96.0,554.6 L95.6,555.1 L95.3,555.7 L95.2,556.2 L95.1,556.8 L95.2,557.4 M132.1,567.4 L131.9,567.2 L131.7,566.9 L131.3,566.6 L130.8,566.3 L130.2,566.0 L129.5,565.7 L128.7,565.4 L127.8,565.1 L126.8,564.9 L125.7,564.6 L124.6,564.4 L123.3,564.2 L122.0,564.0 L120.7,563.8 L119.3,563.6 L117.9,563.5 L116.4,563.4 L115.0,563.4 L113.5,563.4 L112.0,563.4 L110.5,563.4 L109.1,563.5 L107.7,563.6 L106.3,563.7 L105.0,563.9 L103.7,564.1 L102.5,564.4 L101.3,564.7 L100.3,565.0 L99.3,565.4 L98.4,565.8 L97.6,566.2 L96.9,566.7 L96.3,567.1 L95.8,567.7 L95.5,568.2 L95.2,568.7 L95.1,569.3 L95.1,569.9 M132.1,580.4 L132.0,580.1 L131.8,579.8 L131.5,579.6 L131.1,579.3 L130.5,579.0 L129.9,578.7 L129.1,578.4 L128.3,578.1 L127.3,577.8 L126.3,577.6 L125.2,577.3 L124.0,577.1 L122.7,576.9 L121.4,576.7 L120.1,576.5 L118.7,576.4 L117.2,576.3 L115.8,576.2 L114.3,576.2 L112.8,576.1 L111.3,576.2 L109.9,576.2 L108.4,576.3 L107.0,576.5 L105.7,576.6 L104.4,576.8 L103.1,577.1 L101.9,577.3 L100.8,577.6 L99.8,578.0 L98.8,578.4 L98.0,578.8 L97.3,579.2 L96.6,579.7 L96.1,580.2 L95.7,580.7 L95.4,581.2 L95.2,581.8 L95.1,582.4 L95.1,583.0 M132.1,593.1 L131.9,592.8 L131.7,592.5 L131.3,592.2 L130.8,591.9 L130.3,591.6 L129.6,591.3 L128.8,591.1 L127.9,590.8 L126.9,590.5 L125.8,590.2 L124.7,590.0 L123.4,589.8 L122.1,589.6 L120.8,589.4 L119.4,589.3 L118.0,589.1 L116.6,589.0 L115.1,589.0 L113.6,589.0 L112.1,589.0 L110.7,589.0 L109.2,589.1 L107.8,589.2 L106.4,589.3 L105.1,589.5 L103.8,589.7 L102.6,590.0 L101.4,590.3 L100.3,590.6 L99.3,591.0 L98.4,591.4 L97.6,591.8 L97.0,592.2 L96.4,592.7 L95.9,593.2 L95.5,593.7 L95.3,594.3 L95.1,594.9 L95.1,595.4 M132.1,606.0 L132.0,605.7 L131.8,605.5 L131.5,605.2 L131.1,604.9 L130.6,604.6 L129.9,604.3 L129.2,604.0 L128.4,603.7 L127.4,603.4 L126.4,603.2 L125.3,602.9 L124.1,602.7 L122.8,602.5 L121.5,602.3 L120.2,602.1 L118.8,602.0 L117.3,601.9 L115.9,601.8 L114.4,601.8 L112.9,601.7 L111.5,601.8 L110.0,601.8 L108.6,601.9 L107.1,602.0 L105.8,602.2 L104.5,602.4 L103.2,602.6 L102.0,602.9 L100.9,603.2 L99.9,603.6 L98.9,603.9 L98.1,604.3 L97.3,604.8 L96.7,605.2 L96.1,605.7 L95.7,606.3 L95.4,606.8 L95.2,607.4 L95.1,607.9 L95.1,608.5 M132.1,618.3 L132.0,618.1 L131.7,617.8 L131.4,617.6 L130.9,617.3 L130.3,617.1 L129.6,616.9 L128.8,616.6 L127.9,616.4 L127.0,616.2 L125.9,616.0 L124.7,615.8 L123.5,615.6 L122.3,615.4 L120.9,615.2 L119.5,615.1 L118.1,615.0 L116.7,614.9 L115.2,614.8 L113.7,614.8 L112.2,614.7 L110.8,614.7 L109.3,614.8 L107.9,614.8 L106.5,614.9 L105.2,614.9 L103.9,615.1 L102.7,615.2 L101.5,615.4 L100.4,615.5 L99.4,615.8 L98.5,616.0 L97.7,616.2 L97.0,616.5 L96.4,616.8 L95.9,617.1 L95.5,617.4 L95.3,617.7 L95.1,618.1 L95.1,618.4 M132.1,626.1 L132.0,626.0 L131.9,625.8 L131.6,625.6 L131.2,625.4 L130.6,625.2 L130.0,624.9 L129.3,624.7 L128.4,624.5 L127.5,624.3 L126.5,624.1 L125.4,623.9 L124.2,623.6 L123.0,623.5 L121.6,623.3 L120.3,623.1 L118.9,622.9 L117.5,622.8 L116.0,622.6 L114.5,622.5 L113.0,622.4 L111.6,622.4 L110.1,622.3 L108.7,622.3 L107.3,622.3 L105.9,622.3 L104.6,622.3 L103.3,622.4 L102.1,622.5 L101.0,622.6 L99.9,622.7 L99.0,622.9 L98.1,623.1 L97.4,623.3 L96.7,623.5 L96.2,623.8 L95.7,624.0 L95.4,624.3 L95.2,624.6 L95.1,624.9 L95.1,625.3 M132.1,632.6 L132.0,632.5 L131.7,632.3 L131.4,632.1 L130.9,631.9 L130.4,631.7 L129.7,631.4 L128.9,631.2 L128.0,631.0 L127.0,630.8 L126.0,630.6 L124.8,630.4 L123.6,630.2 L122.4,630.0 L121.0,629.8 L119.6,629.6 L118.2,629.5 L116.8,629.3 L115.3,629.2 L113.8,629.1 L112.4,629.0 L110.9,628.9 L109.4,628.9 L108.0,628.9 L106.6,628.9 L105.3,628.9 L104.0,629.0 L102.7,629.0 L101.6,629.1 L100.5,629.3 L99.5,629.4 L98.6,629.6 L97.8,629.8 L97.1,630.0 L96.4,630.2 L95.9,630.5 L95.6,630.8 L95.3,631.1 L95.1,631.4 L95.1,631.7 M132.0,639.2 L131.9,639.0 L131.6,638.8 L131.2,638.6 L130.7,638.4 L130.1,638.2 L129.3,637.9 L128.5,637.7 L127.6,637.5 L126.6,637.3 L125.5,637.1 L124.3,636.9 L123.1,636.7 L121.8,636.5 L120.4,636.3 L119.0,636.1 L117.6,636.0 L116.1,635.9 L114.6,635.7 L113.2,635.6 L111.7,635.6 L110.2,635.5 L108.8,635.5 L107.4,635.5 L106.0,635.5 L104.7,635.5 L103.4,635.6 L102.2,635.7 L101.1,635.8 L100.0,635.9 L99.1,636.1 L98.2,636.3 L97.4,636.5 L96.8,636.7 L96.2,636.9 L95.8,637.2 L95.4,637.5 L95.2,637.8 L95.1,638.1 L95.1,638.5 M132.1,645.9 L132.0,645.7 L131.8,645.5 L131.4,645.3 L131.0,645.1 L130.4,644.9 L129.7,644.7 L129.0,644.4 L128.1,644.2 L127.1,644.0 L126.1,643.8 L124.9,643.6 L123.7,643.4 L122.5,643.2 L121.1,643.0 L119.8,642.8 L118.3,642.7 L116.9,642.5 L115.4,642.4 L114.0,642.3 L112.5,642.2 L111.0,642.1 L109.6,642.1 L108.1,642.1 L106.7,642.1 L105.4,642.1 L104.1,642.1 L102.8,642.2 L101.7,642.3 L100.6,642.4 L99.6,642.6 L98.7,642.8 L97.8,642.9 L97.1,643.2 L96.5,643.4 L96.0,643.7 L95.6,643.9 L95.3,644.2 L95.1,644.5 L95.1,644.9 M132.1,652.4 L131.9,652.2 L131.6,652.0 L131.2,651.8 L130.7,651.6 L130.1,651.4 L129.4,651.2 L128.6,650.9 L127.7,650.7 L126.6,650.5 L125.6,650.3 L124.4,650.1 L123.2,649.9 L121.9,649.7 L120.5,649.5 L119.1,649.3 L117.7,649.2 L116.2,649.1 L114.8,648.9 L113.3,648.9 L111.8,648.8 L110.3,648.7 L108.9,648.7 L107.5,648.7 L106.1,648.7 L104.8,648.7 L103.5,648.8 L102.3,648.9 L101.2,649.0 L100.1,649.1 L99.1,649.3 L98.3,649.4 L97.5,649.6 L96.8,649.9 L96.2,650.1 L95.8,650.4 L95.4,650.7 L95.2,651.0 L95.1,651.3 L95.1,651.6 M132.1,659.1 L132.0,658.9 L131.8,658.7 L131.5,658.5 L131.0,658.3 L130.5,658.1 L129.8,657.9 L129.0,657.7 L128.2,657.4 L127.2,657.2 L126.2,657.0 L125.0,656.8 L123.8,656.6 L122.6,656.4 L121.2,656.2 L119.9,656.0 L118.5,655.9 L117.0,655.7 L115.6,655.6 L114.1,655.5 L112.6,655.4 L111.1,655.3 L109.7,655.3 L108.2,655.3 L106.8,655.3 L105.5,655.3 L104.2,655.3 L102.9,655.4 L101.8,655.5 L100.7,655.6 L99.7,655.8 L98.7,655.9 L97.9,656.1 L97.2,656.3 L96.5,656.6 L96.0,656.8 L95.6,657.1 L95.3,657.4 L95.2,657.7 L95.1,658.0 M132.1,665.6 L131.9,665.4 L131.6,665.2 L131.3,665.0 L130.8,664.8 L130.2,664.6 L129.5,664.4 L128.6,664.2 L127.7,663.9 L126.7,663.7 L125.6,663.5 L124.5,663.3 L123.3,663.1 L122.0,662.9 L120.6,662.7 L119.2,662.6 L117.8,662.4 L116.3,662.3 L114.9,662.2 L113.4,662.1 L111.9,662.0 L110.5,661.9 L109.0,661.9 L107.6,661.9 L106.2,661.9 L104.9,661.9 L103.6,662.0 L102.4,662.1 L101.2,662.2 L100.2,662.3 L99.2,662.4 L98.3,662.6 L97.5,662.8 L96.9,663.1 L96.3,663.3 L95.8,663.6 L95.5,663.8 L95.2,664.1 L95.1,664.5 L95.1,664.8 M132.1,672.3 L132.0,672.1 L131.8,671.9 L131.5,671.7 L131.0,671.5 L130.5,671.3 L129.8,671.1 L129.1,670.9 L128.2,670.7 L127.3,670.4 L126.2,670.2 L125.1,670.0 L123.9,669.8 L122.7,669.6 L121.3,669.4 L120.0,669.2 L118.6,669.1 L117.1,668.9 L115.7,668.8 L114.2,668.7 L112.7,668.6 L111.2,668.5 L109.8,668.5 L108.3,668.5 L106.9,668.5 L105.6,668.5 L104.3,668.5 L103.0,668.6 L101.9,668.7 L100.8,668.8 L99.7,669.0 L98.8,669.1 L98.0,669.3 L97.2,669.5 L96.6,669.8 L96.1,670.0 L95.6,670.3 L95.3,670.6 L95.2,670.9 L95.1,671.2 L95.2,671.6 M132.1,678.8 L131.9,678.6 L131.7,678.4 L131.3,678.2 L130.8,678.0 L130.2,677.8 L129.5,677.6 L128.7,677.4 L127.8,677.2 L126.8,676.9 L125.7,676.7 L124.6,676.5 L123.4,676.3 L122.1,676.1 L120.7,675.9 L119.3,675.8 L117.9,675.6 L116.5,675.5 L115.0,675.4 L113.5,675.3 L112.0,675.2 L110.6,675.1 L109.1,675.1 L107.7,675.1 L106.3,675.1 L105.0,675.1 L103.7,675.2 L102.5,675.2 L101.3,675.4 L100.3,675.5 L99.3,675.6 L98.4,675.8 L97.6,676.0 L96.9,676.2 L96.3,676.5 L95.9,676.7 L95.5,677.0 L95.2,677.3 L95.1,677.6 L95.1,678.0 M132.1,685.5 L132.0,685.3 L131.8,685.1 L131.5,684.9 L131.1,684.7 L130.6,684.5 L129.9,684.3 L129.2,684.1 L128.3,683.9 L127.4,683.7 L126.3,683.4 L125.2,683.2 L124.0,683.0 L122.8,682.8 L121.5,682.6 L120.1,682.5 L118.7,682.3 L117.2,682.2 L115.8,682.0 L114.3,681.9 L112.8,681.8 L111.4,681.8 L109.9,681.7 L108.5,681.7 L107.1,681.7 L105.7,681.7 L104.4,681.7 L103.1,681.8 L101.9,681.9 L100.8,682.0 L99.8,682.2 L98.9,682.3 L98.0,682.5 L97.3,682.7 L96.6,682.9 L96.1,683.2 L95.7,683.5 L95.4,683.8 L95.2,684.1 L95.1,684.4 L95.1,684.7 M132.1,692.0 L131.9,691.8 L131.7,691.7 L131.3,691.5 L130.9,691.2 L130.3,691.0 L129.6,690.8 L128.8,690.6 L127.9,690.4 L126.9,690.2 L125.8,689.9 L124.7,689.7 L123.5,689.5 L122.2,689.3 L120.8,689.2 L119.5,689.0 L118.0,688.8 L116.6,688.7 L115.1,688.6 L113.6,688.5 L112.2,688.4 L110.7,688.3 L109.2,688.3 L107.8,688.3 L106.4,688.3 L105.1,688.3 L103.8,688.4 L102.6,688.4 L101.4,688.5 L100.4,688.7 L99.4,688.8 L98.5,689.0 L97.7,689.2 L97.0,689.4 L96.4,689.7 L95.9,689.9 L95.5,690.2 L95.3,690.5 L95.1,690.8 L95.1,691.1 M132.1,698.7 L132.0,698.5 L131.8,698.4 L131.5,698.2 L131.1,698.0 L130.6,697.7 L130.0,697.5 L129.2,697.3 L128.4,697.1 L127.4,696.9 L126.4,696.7 L125.3,696.4 L124.1,696.2 L122.9,696.0 L121.6,695.9 L120.2,695.7 L118.8,695.5 L117.4,695.4 L115.9,695.2 L114.4,695.1 L113.0,695.0 L111.5,695.0 L110.0,694.9 L108.6,694.9 L107.2,694.9 L105.8,694.9 L104.5,694.9 L103.2,695.0 L102.0,695.1 L100.9,695.2 L99.9,695.3 L98.9,695.5 L98.1,695.7 L97.3,695.9 L96.7,696.1 L96.1,696.4 L95.7,696.6 L95.4,696.9 L95.2,697.2 L95.1,697.6 L95.1,697.9 M132.1,705.2 L132.0,705.1 L131.7,704.9 L131.4,704.7 L130.9,704.5 L130.3,704.2 L129.6,704.0 L128.8,703.8 L128.0,703.6 L127.0,703.4 L125.9,703.2 L124.8,702.9 L123.6,702.7 L122.3,702.6 L120.9,702.4 L119.6,702.2 L118.1,702.0 L116.7,701.9 L115.2,701.8 L113.8,701.7 L112.3,701.6 L110.8,701.5 L109.3,701.5 L107.9,701.5 L106.5,701.5 L105.2,701.5 L103.9,701.6 L102.7,701.6 L101.5,701.7 L100.4,701.9 L99.4,702.0 L98.5,702.2 L97.7,702.4 L97.0,702.6 L96.4,702.8 L95.9,703.1 L95.5,703.4 L95.3,703.7 L95.1,704.0 L95.1,704.3 M132.0,711.8 L131.9,711.6 L131.6,711.4 L131.2,711.2 L130.6,711.0 L130.0,710.7 L129.3,710.5 L128.4,710.3 L127.5,710.1 L126.5,709.9 L125.4,709.7 L124.2,709.5 L123.0,709.3 L121.7,709.1 L120.3,708.9 L118.9,708.7 L117.5,708.6 L116.0,708.4 L114.5,708.3 L113.1,708.2 L111.6,708.2 L110.1,708.1 L108.7,708.1 L107.3,708.1 L105.9,708.1 L104.6,708.1 L103.3,708.2 L102.1,708.3 L101.0,708.4 L100.0,708.5 L99.0,708.7 L98.1,708.9 L97.4,709.1 L96.7,709.3 L96.2,709.6 L95.7,709.8 L95.4,710.1 L95.2,710.4 L95.1,710.7 L95.1,711.1 M132.1,718.5 L132.0,718.3 L131.7,718.1 L131.4,717.9 L130.9,717.7 L130.4,717.5 L129.7,717.2 L128.9,717.0 L128.0,716.8 L127.1,716.6 L126.0,716.4 L124.9,716.2 L123.7,716.0 L122.4,715.8 L121.1,715.6 L119.7,715.4 L118.3,715.3 L116.8,715.1 L115.3,715.0 L113.9,714.9 L112.4,714.8 L110.9,714.7 L109.5,714.7 L108.0,714.7 L106.6,714.7 L105.3,714.7 L104.0,714.8 L102.8,714.8 L101.6,714.9 L100.5,715.0 L99.5,715.2 L98.6,715.4 L97.8,715.6 L97.1,715.8 L96.5,716.0 L96.0,716.3 L95.6,716.6 L95.3,716.8 L95.1,717.2 L95.1,717.5 M132.1,725.0 L131.9,724.8 L131.6,724.6 L131.2,724.4 L130.7,724.2 L130.1,724.0 L129.3,723.7 L128.5,723.5 L127.6,723.3 L126.6,723.1 L125.5,722.9 L124.3,722.7 L123.1,722.5 L121.8,722.3 L120.4,722.1 L119.0,721.9 L117.6,721.8 L116.1,721.7 L114.7,721.5 L113.2,721.4 L111.7,721.4 L110.2,721.3 L108.8,721.3 L107.4,721.3 L106.0,721.3 L104.7,721.3 L103.4,721.4 L102.2,721.5 L101.1,721.6 L100.0,721.7 L99.1,721.9 L98.2,722.1 L97.4,722.3 L96.8,722.5 L96.2,722.7 L95.8,723.0 L95.4,723.3 L95.2,723.6 L95.1,723.9 L95.1,724.2 M132.1,731.7 L132.0,731.5 L131.8,731.3 L131.4,731.1 L131.0,730.9 L130.4,730.7 L129.7,730.5 L129.0,730.2 L128.1,730.0 L127.1,729.8 L126.1,729.6 L125.0,729.4 L123.8,729.2 L122.5,729.0 L121.2,728.8 L119.8,728.6 L118.4,728.5 L116.9,728.3" fill="none" stroke="#fff" stroke-width="2.5" stroke-linecap="round" stroke-linejoin="round"/>
<rect x="106.5" y="463.4" width="14.5" height="269.0" fill="#fff" stroke="#000" stroke-width="1.2"/>
<path d="M106.5,470.4 L121.0,465.4 M106.5,479.7 L121.0,474.7 M106.5,489.0 L121.0,484.0 M106.5,498.3 L121.0,493.3 M106.5,507.6 L121.0,502.6 M106.5,516.9 L121.0,511.9 M106.5,526.2 L121.0,521.2 M106.5,535.5 L121.0,530.5 M106.5,544.8 L121.0,539.8 M106.5,554.1 L121.0,549.1 M106.5,563.4 L121.0,558.4 M106.5,572.7 L121.0,567.7 M106.5,582.0 L121.0,577.0 M106.5,591.3 L121.0,586.3 M106.5,600.6 L121.0,595.6 M106.5,609.9 L121.0,604.9 M106.5,619.2 L121.0,614.2 M106.5,628.5 L121.0,623.5 M106.5,637.8 L121.0,632.8 M106.5,647.1 L121.0,642.1 M106.5,656.4 L121.0,651.4 M106.5,665.7 L121.0,660.7 M106.5,675.0 L121.0,670.0 M106.5,684.3 L121.0,679.3 M106.5,693.6 L121.0,688.6 M106.5,702.9 L121.0,697.9 M106.5,712.2 L121.0,707.2 M106.5,721.5 L121.0,716.5 M106.5,730.8 L121.0,725.8" fill="none" stroke="#000" stroke-width="1.5"/>
<path d="M128.8,545.2 L127.9,545.7 L126.9,546.2 L125.9,546.7 L124.7,547.1 L123.5,547.5 L122.2,547.9 L120.9,548.2 L119.5,548.5 L118.1,548.8 L116.6,549.0 L115.2,549.1 L113.7,549.2 L112.2,549.2 L110.7,549.1 L109.3,549.0 L107.8,548.9 L106.5,548.6 L105.1,548.4 L103.8,548.0 L102.6,547.6 L101.5,547.1 L100.4,546.6 L99.4,546.0 L98.5,545.4 L97.7,544.7 L97.0,543.9 L96.4,543.2 L95.9,542.3 L95.5,541.5 L95.3,540.6 L95.1,539.7 L95.1,538.7" fill="none" stroke="#000" stroke-width="4.3" stroke-linecap="round" stroke-linejoin="round"/><path d="M128.8,545.2 L127.9,545.7 L126.9,546.2 L125.9,546.7 L124.7,547.1 L123.5,547.5 L122.2,547.9 L120.9,548.2 L119.5,548.5 L118.1,548.8 L116.6,549.0 L115.2,549.1 L113.7,549.2 L112.2,549.2 L110.7,549.1 L109.3,549.0 L107.8,548.9 L106.5,548.6 L105.1,548.4 L103.8,548.0 L102.6,547.6 L101.5,547.1 L100.4,546.6 L99.4,546.0 L98.5,545.4 L97.7,544.7 L97.0,543.9 L96.4,543.2 L95.9,542.3 L95.5,541.5 L95.3,540.6 L95.1,539.7 L95.1,538.7" fill="none" stroke="#fff" stroke-width="2.5" stroke-linecap="round" stroke-linejoin="round"/>
<path d="M132.1,528.7 L132.0,529.5 L131.9,530.2 L131.6,531.0 L131.1,531.7 L130.6,532.5 L130.0,533.2 L129.2,533.9 L128.4,534.6 L127.5,535.3 L126.4,535.9 L125.3,536.5 L124.2,537.1 L122.9,537.6 L121.6,538.0 L120.2,538.4 L118.8,538.8 L117.4,539.0 L115.9,539.2 L114.5,539.3 L113.0,539.4 L111.5,539.4 L110.1,539.2 L108.6,539.1 L107.2,538.8 L105.8,538.5 L104.5,538.1 L103.3,537.6 L102.1,537.0 L101.0,536.4 L99.9,535.7 L99.0,535.0 L98.1,534.1 L97.3,533.3 L96.7,532.3 L96.1,531.4 L95.7,530.3 L95.4,529.3 L95.2,528.2 L95.1,527.1" fill="none" stroke="#000" stroke-width="4.3" stroke-linecap="round" stroke-linejoin="round"/><path d="M132.1,528.7 L132.0,529.5 L131.9,530.2 L131.6,531.0 L131.1,531.7 L130.6,532.5 L130.0,533.2 L129.2,533.9 L128.4,534.6 L127.5,535.3 L126.4,535.9 L125.3,536.5 L124.2,537.1 L122.9,537.6 L121.6,538.0 L120.2,538.4 L118.8,538.8 L117.4,539.0 L115.9,539.2 L114.5,539.3 L113.0,539.4 L111.5,539.4 L110.1,539.2 L108.6,539.1 L107.2,538.8 L105.8,538.5 L104.5,538.1 L103.3,537.6 L102.1,537.0 L101.0,536.4 L99.9,535.7 L99.0,535.0 L98.1,534.1 L97.3,533.3 L96.7,532.3 L96.1,531.4 L95.7,530.3 L95.4,529.3 L95.2,528.2 L95.1,527.1" fill="none" stroke="#fff" stroke-width="2.5" stroke-linecap="round" stroke-linejoin="round"/>
<path d="M132.1,516.6 L132.1,517.6 L132.0,518.5 L131.7,519.4 L131.4,520.3 L130.9,521.3 L130.3,522.2 L129.6,523.1 L128.9,523.9 L128.0,524.8 L127.0,525.5 L125.9,526.3 L124.8,527.0 L123.6,527.6 L122.3,528.2 L121.0,528.6 L119.6,529.1 L118.2,529.4 L116.7,529.7 L115.3,529.8 L113.8,529.9 L112.3,529.9 L110.8,529.9 L109.4,529.7 L108.0,529.4 L106.6,529.1 L105.2,528.6 L103.9,528.1 L102.7,527.5 L101.5,526.8 L100.5,526.0 L99.5,525.2 L98.6,524.2 L97.7,523.3 L97.0,522.2 L96.4,521.1 L95.9,520.0 L95.6,518.8 L95.3,517.6 L95.1,516.3" fill="none" stroke="#000" stroke-width="4.3" stroke-linecap="round" stroke-linejoin="round"/><path d="M132.1,516.6 L132.1,517.6 L132.0,518.5 L131.7,519.4 L131.4,520.3 L130.9,521.3 L130.3,522.2 L129.6,523.1 L128.9,523.9 L128.0,524.8 L127.0,525.5 L125.9,526.3 L124.8,527.0 L123.6,527.6 L122.3,528.2 L121.0,528.6 L119.6,529.1 L118.2,529.4 L116.7,529.7 L115.3,529.8 L113.8,529.9 L112.3,529.9 L110.8,529.9 L109.4,529.7 L108.0,529.4 L106.6,529.1 L105.2,528.6 L103.9,528.1 L102.7,527.5 L101.5,526.8 L100.5,526.0 L99.5,525.2 L98.6,524.2 L97.7,523.3 L97.0,522.2 L96.4,521.1 L95.9,520.0 L95.6,518.8 L95.3,517.6 L95.1,516.3" fill="none" stroke="#fff" stroke-width="2.5" stroke-linecap="round" stroke-linejoin="round"/>
<path d="M132.0,505.3 L132.1,506.3 L132.0,507.4 L131.9,508.5 L131.6,509.6 L131.2,510.7 L130.7,511.7 L130.0,512.8 L129.3,513.8 L128.5,514.8 L127.5,515.7 L126.5,516.6 L125.4,517.4 L124.3,518.1 L123.0,518.8 L121.7,519.4 L120.3,519.9 L119.0,520.3 L117.5,520.7 L116.1,520.9 L114.6,521.1 L113.1,521.1 L111.6,521.0 L110.2,520.9 L108.7,520.6 L107.3,520.3 L105.9,519.8 L104.6,519.3 L103.4,518.6 L102.2,517.9 L101.0,517.1 L100.0,516.2 L99.0,515.2 L98.2,514.1 L97.4,513.0 L96.7,511.8 L96.2,510.6 L95.7,509.3 L95.4,508.0 L95.2,506.6 L95.1,505.2" fill="none" stroke="#000" stroke-width="4.3" stroke-linecap="round" stroke-linejoin="round"/><path d="M132.0,505.3 L132.1,506.3 L132.0,507.4 L131.9,508.5 L131.6,509.6 L131.2,510.7 L130.7,511.7 L130.0,512.8 L129.3,513.8 L128.5,514.8 L127.5,515.7 L126.5,516.6 L125.4,517.4 L124.3,518.1 L123.0,518.8 L121.7,519.4 L120.3,519.9 L119.0,520.3 L117.5,520.7 L116.1,520.9 L114.6,521.1 L113.1,521.1 L111.6,521.0 L110.2,520.9 L108.7,520.6 L107.3,520.3 L105.9,519.8 L104.6,519.3 L103.4,518.6 L102.2,517.9 L101.0,517.1 L100.0,516.2 L99.0,515.2 L98.2,514.1 L97.4,513.0 L96.7,511.8 L96.2,510.6 L95.7,509.3 L95.4,508.0 L95.2,506.6 L95.1,505.2" fill="none" stroke="#fff" stroke-width="2.5" stroke-linecap="round" stroke-linejoin="round"/>
<path d="M132.1,496.0 L132.1,497.3 L132.0,498.5 L131.8,499.7 L131.4,500.9 L131.0,502.1 L130.4,503.3 L129.7,504.4 L128.9,505.5 L128.1,506.6 L127.1,507.6 L126.0,508.5 L124.9,509.3 L123.7,510.1 L122.4,510.8 L121.1,511.4 L119.7,511.9 L118.3,512.4 L116.9,512.7 L115.4,512.9 L113.9,513.0 L112.4,513.0 L111.0,512.9 L109.5,512.6 L108.1,512.3 L106.7,511.9 L105.3,511.3 L104.0,510.7 L102.8,509.9 L101.6,509.1 L100.5,508.1 L99.5,507.1 L98.6,506.0 L97.8,504.8 L97.1,503.6 L96.5,502.3 L96.0,500.9 L95.6,499.5 L95.3,498.1 L95.1,496.6" fill="none" stroke="#000" stroke-width="4.3" stroke-linecap="round" stroke-linejoin="round"/><path d="M132.1,496.0 L132.1,497.3 L132.0,498.5 L131.8,499.7 L131.4,500.9 L131.0,502.1 L130.4,503.3 L129.7,504.4 L128.9,505.5 L128.1,506.6 L127.1,507.6 L126.0,508.5 L124.9,509.3 L123.7,510.1 L122.4,510.8 L121.1,511.4 L119.7,511.9 L118.3,512.4 L116.9,512.7 L115.4,512.9 L113.9,513.0 L112.4,513.0 L111.0,512.9 L109.5,512.6 L108.1,512.3 L106.7,511.9 L105.3,511.3 L104.0,510.7 L102.8,509.9 L101.6,509.1 L100.5,508.1 L99.5,507.1 L98.6,506.0 L97.8,504.8 L97.1,503.6 L96.5,502.3 L96.0,500.9 L95.6,499.5 L95.3,498.1 L95.1,496.6" fill="none" stroke="#fff" stroke-width="2.5" stroke-linecap="round" stroke-linejoin="round"/>
<path d="M132.0,486.9 L132.1,488.2 L132.1,489.5 L131.9,490.9 L131.6,492.2 L131.2,493.5 L130.7,494.8 L130.1,496.0 L129.4,497.2 L128.5,498.4 L127.6,499.5 L126.6,500.5 L125.5,501.5 L124.3,502.3 L123.1,503.1 L121.8,503.8 L120.5,504.4 L119.1,504.9 L117.6,505.3 L116.2,505.6 L114.7,505.7 L113.2,505.8 L111.7,505.7 L110.3,505.5 L108.8,505.2 L107.4,504.8 L106.1,504.3 L104.7,503.6 L103.5,502.9 L102.3,502.1 L101.1,501.1 L100.1,500.1 L99.1,499.0 L98.2,497.8 L97.5,496.5 L96.8,495.1 L96.2,493.7 L95.8,492.3 L95.4,490.8 L95.2,489.3" fill="none" stroke="#000" stroke-width="4.3" stroke-linecap="round" stroke-linejoin="round"/><path d="M132.0,486.9 L132.1,488.2 L132.1,489.5 L131.9,490.9 L131.6,492.2 L131.2,493.5 L130.7,494.8 L130.1,496.0 L129.4,497.2 L128.5,498.4 L127.6,499.5 L126.6,500.5 L125.5,501.5 L124.3,502.3 L123.1,503.1 L121.8,503.8 L120.5,504.4 L119.1,504.9 L117.6,505.3 L116.2,505.6 L114.7,505.7 L113.2,505.8 L111.7,505.7 L110.3,505.5 L108.8,505.2 L107.4,504.8 L106.1,504.3 L104.7,503.6 L103.5,502.9 L102.3,502.1 L101.1,501.1 L100.1,500.1 L99.1,499.0 L98.2,497.8 L97.5,496.5 L96.8,495.1 L96.2,493.7 L95.8,492.3 L95.4,490.8 L95.2,489.3" fill="none" stroke="#fff" stroke-width="2.5" stroke-linecap="round" stroke-linejoin="round"/>
<path d="M131.9,479.0 L132.1,480.4 L132.1,481.8 L132.0,483.2 L131.8,484.6 L131.4,486.0 L131.0,487.4 L130.4,488.7 L129.8,490.0 L129.0,491.3 L128.1,492.4 L127.2,493.6 L126.1,494.6 L125.0,495.6 L123.8,496.4 L122.5,497.2 L121.2,497.9 L119.8,498.4 L118.4,498.9 L117.0,499.2 L115.5,499.5 L114.0,499.6 L112.5,499.6 L111.1,499.4 L109.6,499.2 L108.2,498.8 L106.8,498.3 L105.4,497.7 L104.1,497.0 L102.9,496.2 L101.7,495.2 L100.6,494.2 L99.6,493.1 L98.7,491.9 L97.9,490.6 L97.1,489.3 L96.5,487.9 L96.0,486.4 L95.6,484.9 L95.3,483.4" fill="none" stroke="#000" stroke-width="4.3" stroke-linecap="round" stroke-linejoin="round"/><path d="M131.9,479.0 L132.1,480.4 L132.1,481.8 L132.0,483.2 L131.8,484.6 L131.4,486.0 L131.0,487.4 L130.4,488.7 L129.8,490.0 L129.0,491.3 L128.1,492.4 L127.2,493.6 L126.1,494.6 L125.0,495.6 L123.8,496.4 L122.5,497.2 L121.2,497.9 L119.8,498.4 L118.4,498.9 L117.0,499.2 L115.5,499.5 L114.0,499.6 L112.5,499.6 L111.1,499.4 L109.6,499.2 L108.2,498.8 L106.8,498.3 L105.4,497.7 L104.1,497.0 L102.9,496.2 L101.7,495.2 L100.6,494.2 L99.6,493.1 L98.7,491.9 L97.9,490.6 L97.1,489.3 L96.5,487.9 L96.0,486.4 L95.6,484.9 L95.3,483.4" fill="none" stroke="#fff" stroke-width="2.5" stroke-linecap="round" stroke-linejoin="round"/>
<path d="M131.5,471.1 L131.8,472.5 L132.0,474.0 L132.1,475.4 L132.1,476.9 L131.9,478.4 L131.6,479.8 L131.2,481.2 L130.7,482.6 L130.1,484.0 L129.4,485.3 L128.6,486.6 L127.7,487.8 L126.7,488.9 L125.6,489.9 L124.4,490.8 L123.2,491.7 L121.9,492.4 L120.6,493.1 L119.2,493.6 L117.7,494.0 L116.3,494.3 L114.8,494.5 L113.3,494.5 L111.9,494.4 L110.4,494.2 L109.0,493.9 L107.5,493.5 L106.2,492.9 L104.8,492.2 L103.6,491.5 L102.3,490.6 L101.2,489.6 L100.2,488.5 L99.2,487.3 L98.3,486.1 L97.5,484.7 L96.8,483.3 L96.3,481.9 L95.8,480.4" fill="none" stroke="#000" stroke-width="4.3" stroke-linecap="round" stroke-linejoin="round"/><path d="M131.5,471.1 L131.8,472.5 L132.0,474.0 L132.1,475.4 L132.1,476.9 L131.9,478.4 L131.6,479.8 L131.2,481.2 L130.7,482.6 L130.1,484.0 L129.4,485.3 L128.6,486.6 L127.7,487.8 L126.7,488.9 L125.6,489.9 L124.4,490.8 L123.2,491.7 L121.9,492.4 L120.6,493.1 L119.2,493.6 L117.7,494.0 L116.3,494.3 L114.8,494.5 L113.3,494.5 L111.9,494.4 L110.4,494.2 L109.0,493.9 L107.5,493.5 L106.2,492.9 L104.8,492.2 L103.6,491.5 L102.3,490.6 L101.2,489.6 L100.2,488.5 L99.2,487.3 L98.3,486.1 L97.5,484.7 L96.8,483.3 L96.3,481.9 L95.8,480.4" fill="none" stroke="#fff" stroke-width="2.5" stroke-linecap="round" stroke-linejoin="round"/>
<path d="M131.3,466.1 L131.7,467.6 L131.9,469.0 L132.1,470.5 L132.1,472.0 L132.0,473.5 L131.8,475.0 L131.5,476.5 L131.0,477.9 L130.5,479.3 L129.8,480.7 L129.1,482.0 L128.2,483.2 L127.2,484.4 L126.2,485.5 L125.1,486.5 L123.9,487.4 L122.6,488.2 L121.3,488.9 L119.9,489.4 L118.5,489.9 L117.1,490.3 L115.6,490.5 L114.1,490.6 L112.7,490.6 L111.2,490.5 L109.7,490.2 L108.3,489.8 L106.9,489.3 L105.5,488.7 L104.2,488.0 L103.0,487.1 L101.8,486.2 L100.7,485.2 L99.7,484.0 L98.8,482.8 L97.9,481.5 L97.2,480.2 L96.6,478.8" fill="none" stroke="#000" stroke-width="4.3" stroke-linecap="round" stroke-linejoin="round"/><path d="M131.3,466.1 L131.7,467.6 L131.9,469.0 L132.1,470.5 L132.1,472.0 L132.0,473.5 L131.8,475.0 L131.5,476.5 L131.0,477.9 L130.5,479.3 L129.8,480.7 L129.1,482.0 L128.2,483.2 L127.2,484.4 L126.2,485.5 L125.1,486.5 L123.9,487.4 L122.6,488.2 L121.3,488.9 L119.9,489.4 L118.5,489.9 L117.1,490.3 L115.6,490.5 L114.1,490.6 L112.7,490.6 L111.2,490.5 L109.7,490.2 L108.3,489.8 L106.9,489.3 L105.5,488.7 L104.2,488.0 L103.0,487.1 L101.8,486.2 L100.7,485.2 L99.7,484.0 L98.8,482.8 L97.9,481.5 L97.2,480.2 L96.6,478.8" fill="none" stroke="#fff" stroke-width="2.5" stroke-linecap="round" stroke-linejoin="round"/>
<path d="M129.1,458.8 L129.8,460.0 L130.5,461.4 L131.0,462.7 L131.5,464.2 L131.8,465.6 L132.0,467.1 L132.1,468.6 L132.1,470.1 L131.9,471.6 L131.7,473.1 L131.3,474.6 L130.8,476.0 L130.2,477.4 L129.5,478.7 L128.7,480.0 L127.8,481.2 L126.8,482.3 L125.7,483.3 L124.5,484.3 L123.3,485.1 L122.0,485.9 L120.7,486.5 L119.3,487.0 L117.9,487.4 L116.4,487.7 L114.9,487.9 L113.5,488.0 L112.0,487.9 L110.5,487.7 L109.1,487.4 L107.6,486.9 L106.3,486.4 L104.9,485.7 L103.7,484.9 L102.4,484.1 L101.3,483.1 L100.2,482.0" fill="none" stroke="#000" stroke-width="4.3" stroke-linecap="round" stroke-linejoin="round"/><path d="M129.1,458.8 L129.8,460.0 L130.5,461.4 L131.0,462.7 L131.5,464.2 L131.8,465.6 L132.0,467.1 L132.1,468.6 L132.1,470.1 L131.9,471.6 L131.7,473.1 L131.3,474.6 L130.8,476.0 L130.2,477.4 L129.5,478.7 L128.7,480.0 L127.8,481.2 L126.8,482.3 L125.7,483.3 L124.5,484.3 L123.3,485.1 L122.0,485.9 L120.7,486.5 L119.3,487.0 L117.9,487.4 L116.4,487.7 L114.9,487.9 L113.5,488.0 L112.0,487.9 L110.5,487.7 L109.1,487.4 L107.6,486.9 L106.3,486.4 L104.9,485.7 L103.7,484.9 L102.4,484.1 L101.3,483.1 L100.2,482.0" fill="none" stroke="#fff" stroke-width="2.5" stroke-linecap="round" stroke-linejoin="round"/>
<path d="M123.2,452.1 L124.4,452.9 L125.6,453.8 L126.7,454.8 L127.7,455.9 L128.6,457.1 L129.4,458.3 L130.1,459.6 L130.7,461.0 L131.2,462.4 L131.6,463.8 L131.9,465.3 L132.1,466.8 L132.1,468.3 L132.0,469.8 L131.8,471.2 L131.5,472.7 L131.1,474.1 L130.5,475.5 L129.9,476.9 L129.1,478.1 L128.3,479.3 L127.3,480.5 L126.3,481.6 L125.2,482.5 L124.0,483.4 L122.7,484.2 L121.4,484.9 L120.0,485.4 L118.6,485.9 L117.2,486.2 L115.7,486.4 L114.3,486.6 L112.8,486.5 L111.3,486.4" fill="none" stroke="#000" stroke-width="4.3" stroke-linecap="round" stroke-linejoin="round"/><path d="M123.2,452.1 L124.4,452.9 L125.6,453.8 L126.7,454.8 L127.7,455.9 L128.6,457.1 L129.4,458.3 L130.1,459.6 L130.7,461.0 L131.2,462.4 L131.6,463.8 L131.9,465.3 L132.1,466.8 L132.1,468.3 L132.0,469.8 L131.8,471.2 L131.5,472.7 L131.1,474.1 L130.5,475.5 L129.9,476.9 L129.1,478.1 L128.3,479.3 L127.3,480.5 L126.3,481.6 L125.2,482.5 L124.0,483.4 L122.7,484.2 L121.4,484.9 L120.0,485.4 L118.6,485.9 L117.2,486.2 L115.7,486.4 L114.3,486.6 L112.8,486.5 L111.3,486.4" fill="none" stroke="#fff" stroke-width="2.5" stroke-linecap="round" stroke-linejoin="round"/>
<path d="M106.8,451.1 L108.2,450.7 L109.6,450.3 L111.1,450.1 L112.5,450.0 L114.0,450.0 L115.5,450.1 L117.0,450.4 L118.4,450.7 L119.8,451.2 L121.2,451.8 L122.5,452.4 L123.8,453.2 L125.0,454.1 L126.1,455.1 L127.2,456.1 L128.1,457.2 L129.0,458.4 L129.8,459.7 L130.4,461.0 L131.0,462.4 L131.4,463.8 L131.8,465.2 L132.0,466.6 L132.1,468.1 L132.1,469.5 L131.9,471.0 L131.7,472.4 L131.3,473.8 L130.8,475.2 L130.2,476.5 L129.5,477.7 L128.7,479.0 L127.8,480.1 L126.9,481.1 L125.8,482.1" fill="none" stroke="#000" stroke-width="4.3" stroke-linecap="round" stroke-linejoin="round"/><path d="M106.8,451.1 L108.2,450.7 L109.6,450.3 L111.1,450.1 L112.5,450.0 L114.0,450.0 L115.5,450.1 L117.0,450.4 L118.4,450.7 L119.8,451.2 L121.2,451.8 L122.5,452.4 L123.8,453.2 L125.0,454.1 L126.1,455.1 L127.2,456.1 L128.1,457.2 L129.0,458.4 L129.8,459.7 L130.4,461.0 L131.0,462.4 L131.4,463.8 L131.8,465.2 L132.0,466.6 L132.1,468.1 L132.1,469.5 L131.9,471.0 L131.7,472.4 L131.3,473.8 L130.8,475.2 L130.2,476.5 L129.5,477.7 L128.7,479.0 L127.8,480.1 L126.9,481.1 L125.8,482.1" fill="none" stroke="#fff" stroke-width="2.5" stroke-linecap="round" stroke-linejoin="round"/>
<path d="M98.2,459.5 L99.1,458.4 L100.1,457.4 L101.1,456.5 L102.2,455.7 L103.5,454.9 L104.7,454.3 L106.0,453.8 L107.4,453.3 L108.8,453.0 L110.3,452.8 L111.7,452.7 L113.2,452.7 L114.7,452.8 L116.2,453.0 L117.6,453.3 L119.1,453.8 L120.5,454.3 L121.8,454.9 L123.1,455.7 L124.3,456.5 L125.5,457.4 L126.6,458.4 L127.6,459.5 L128.5,460.6 L129.4,461.8 L130.1,463.0 L130.7,464.3 L131.2,465.6 L131.6,467.0 L131.9,468.4 L132.1,469.7 L132.1,471.1 L132.0,472.5 L131.8,473.9 L131.5,475.2 L131.1,476.5 L130.6,477.8 L129.9,479.0" fill="none" stroke="#000" stroke-width="4.3" stroke-linecap="round" stroke-linejoin="round"/><path d="M98.2,459.5 L99.1,458.4 L100.1,457.4 L101.1,456.5 L102.2,455.7 L103.5,454.9 L104.7,454.3 L106.0,453.8 L107.4,453.3 L108.8,453.0 L110.3,452.8 L111.7,452.7 L113.2,452.7 L114.7,452.8 L116.2,453.0 L117.6,453.3 L119.1,453.8 L120.5,454.3 L121.8,454.9 L123.1,455.7 L124.3,456.5 L125.5,457.4 L126.6,458.4 L127.6,459.5 L128.5,460.6 L129.4,461.8 L130.1,463.0 L130.7,464.3 L131.2,465.6 L131.6,467.0 L131.9,468.4 L132.1,469.7 L132.1,471.1 L132.0,472.5 L131.8,473.9 L131.5,475.2 L131.1,476.5 L130.6,477.8 L129.9,479.0" fill="none" stroke="#fff" stroke-width="2.5" stroke-linecap="round" stroke-linejoin="round"/>
<path d="M96.5,465.7 L97.1,464.7 L97.8,463.6 L98.6,462.7 L99.5,461.8 L100.5,460.9 L101.6,460.2 L102.8,459.5 L104.0,458.9 L105.3,458.4 L106.7,458.0 L108.1,457.7 L109.5,457.5 L111.0,457.4 L112.4,457.4 L113.9,457.5 L115.4,457.7 L116.8,458.0 L118.3,458.4 L119.7,458.9 L121.1,459.5 L122.4,460.2 L123.7,461.0 L124.9,461.8 L126.0,462.7 L127.1,463.7 L128.0,464.7 L128.9,465.9 L129.7,467.0 L130.4,468.2 L130.9,469.4 L131.4,470.7 L131.8,472.0 L132.0,473.3 L132.1,474.5 L132.1,475.8 L132.0,477.1 L131.7,478.4 L131.4,479.6 L130.9,480.8" fill="none" stroke="#000" stroke-width="4.3" stroke-linecap="round" stroke-linejoin="round"/><path d="M96.5,465.7 L97.1,464.7 L97.8,463.6 L98.6,462.7 L99.5,461.8 L100.5,460.9 L101.6,460.2 L102.8,459.5 L104.0,458.9 L105.3,458.4 L106.7,458.0 L108.1,457.7 L109.5,457.5 L111.0,457.4 L112.4,457.4 L113.9,457.5 L115.4,457.7 L116.8,458.0 L118.3,458.4 L119.7,458.9 L121.1,459.5 L122.4,460.2 L123.7,461.0 L124.9,461.8 L126.0,462.7 L127.1,463.7 L128.0,464.7 L128.9,465.9 L129.7,467.0 L130.4,468.2 L130.9,469.4 L131.4,470.7 L131.8,472.0 L132.0,473.3 L132.1,474.5 L132.1,475.8 L132.0,477.1 L131.7,478.4 L131.4,479.6 L130.9,480.8" fill="none" stroke="#fff" stroke-width="2.5" stroke-linecap="round" stroke-linejoin="round"/>
<path d="M95.7,472.4 L96.2,471.4 L96.7,470.4 L97.4,469.5 L98.2,468.7 L99.0,467.9 L100.0,467.2 L101.0,466.5 L102.2,465.9 L103.4,465.4 L104.6,465.0 L105.9,464.6 L107.3,464.4 L108.7,464.2 L110.2,464.1 L111.6,464.1 L113.1,464.2 L114.6,464.4 L116.1,464.7 L117.5,465.1 L118.9,465.5 L120.3,466.1 L121.7,466.7 L123.0,467.4 L124.2,468.2 L125.4,469.0 L126.5,469.9 L127.5,470.8 L128.5,471.9 L129.3,472.9 L130.0,474.0 L130.7,475.1 L131.2,476.2 L131.6,477.4 L131.9,478.6 L132.0,479.7 L132.1,480.9 L132.0,482.1 L131.9,483.2 L131.6,484.3" fill="none" stroke="#000" stroke-width="4.3" stroke-linecap="round" stroke-linejoin="round"/><path d="M95.7,472.4 L96.2,471.4 L96.7,470.4 L97.4,469.5 L98.2,468.7 L99.0,467.9 L100.0,467.2 L101.0,466.5 L102.2,465.9 L103.4,465.4 L104.6,465.0 L105.9,464.6 L107.3,464.4 L108.7,464.2 L110.2,464.1 L111.6,464.1 L113.1,464.2 L114.6,464.4 L116.1,464.7 L117.5,465.1 L118.9,465.5 L120.3,466.1 L121.7,466.7 L123.0,467.4 L124.2,468.2 L125.4,469.0 L126.5,469.9 L127.5,470.8 L128.5,471.9 L129.3,472.9 L130.0,474.0 L130.7,475.1 L131.2,476.2 L131.6,477.4 L131.9,478.6 L132.0,479.7 L132.1,480.9 L132.0,482.1 L131.9,483.2 L131.6,484.3" fill="none" stroke="#fff" stroke-width="2.5" stroke-linecap="round" stroke-linejoin="round"/>
<path d="M95.5,479.5 L95.9,478.6 L96.4,477.8 L97.0,477.1 L97.7,476.3 L98.6,475.7 L99.5,475.1 L100.5,474.5 L101.5,474.0 L102.7,473.6 L103.9,473.3 L105.2,473.0 L106.6,472.8 L108.0,472.7 L109.4,472.7 L110.8,472.7 L112.3,472.8 L113.8,473.0 L115.3,473.3 L116.7,473.6 L118.2,474.0 L119.6,474.5 L121.0,475.1 L122.3,475.7 L123.6,476.4 L124.8,477.2 L125.9,478.0 L127.0,478.8 L128.0,479.7 L128.9,480.6 L129.6,481.6 L130.3,482.6 L130.9,483.6 L131.4,484.6 L131.7,485.6 L132.0,486.7 L132.1,487.7 L132.1,488.7 L132.0,489.7 L131.7,490.7" fill="none" stroke="#000" stroke-width="4.3" stroke-linecap="round" stroke-linejoin="round"/><path d="M95.5,479.5 L95.9,478.6 L96.4,477.8 L97.0,477.1 L97.7,476.3 L98.6,475.7 L99.5,475.1 L100.5,474.5 L101.5,474.0 L102.7,473.6 L103.9,473.3 L105.2,473.0 L106.6,472.8 L108.0,472.7 L109.4,472.7 L110.8,472.7 L112.3,472.8 L113.8,473.0 L115.3,473.3 L116.7,473.6 L118.2,474.0 L119.6,474.5 L121.0,475.1 L122.3,475.7 L123.6,476.4 L124.8,477.2 L125.9,478.0 L127.0,478.8 L128.0,479.7 L128.9,480.6 L129.6,481.6 L130.3,482.6 L130.9,483.6 L131.4,484.6 L131.7,485.6 L132.0,486.7 L132.1,487.7 L132.1,488.7 L132.0,489.7 L131.7,490.7" fill="none" stroke="#fff" stroke-width="2.5" stroke-linecap="round" stroke-linejoin="round"/>
<path d="M95.4,487.9 L95.7,487.3 L96.1,486.6 L96.7,486.0 L97.3,485.5 L98.1,485.0 L99.0,484.5 L99.9,484.1 L100.9,483.7 L102.1,483.4 L103.3,483.2 L104.5,483.0 L105.8,482.9 L107.2,482.8 L108.6,482.8 L110.0,482.9 L111.5,483.1 L113.0,483.3 L114.5,483.5 L115.9,483.9 L117.4,484.3 L118.8,484.7 L120.2,485.2 L121.6,485.8 L122.9,486.4 L124.1,487.0 L125.3,487.7 L126.4,488.5 L127.5,489.2 L128.4,490.0 L129.2,490.8 L130.0,491.7 L130.6,492.5 L131.1,493.4 L131.6,494.3 L131.9,495.2 L132.0,496.0 L132.1,496.9 L132.0,497.7 L131.9,498.6" fill="none" stroke="#000" stroke-width="4.3" stroke-linecap="round" stroke-linejoin="round"/><path d="M95.4,487.9 L95.7,487.3 L96.1,486.6 L96.7,486.0 L97.3,485.5 L98.1,485.0 L99.0,484.5 L99.9,484.1 L100.9,483.7 L102.1,483.4 L103.3,483.2 L104.5,483.0 L105.8,482.9 L107.2,482.8 L108.6,482.8 L110.0,482.9 L111.5,483.1 L113.0,483.3 L114.5,483.5 L115.9,483.9 L117.4,484.3 L118.8,484.7 L120.2,485.2 L121.6,485.8 L122.9,486.4 L124.1,487.0 L125.3,487.7 L126.4,488.5 L127.5,489.2 L128.4,490.0 L129.2,490.8 L130.0,491.7 L130.6,492.5 L131.1,493.4 L131.6,494.3 L131.9,495.2 L132.0,496.0 L132.1,496.9 L132.0,497.7 L131.9,498.6" fill="none" stroke="#fff" stroke-width="2.5" stroke-linecap="round" stroke-linejoin="round"/>
<path d="M95.3,497.6 L95.5,497.1 L95.9,496.7 L96.4,496.3 L97.0,495.9 L97.7,495.5 L98.5,495.2 L99.4,495.0 L100.4,494.8 L101.5,494.6 L102.6,494.5 L103.8,494.4 L105.1,494.4 L106.5,494.4 L107.8,494.5 L109.3,494.6 L110.7,494.8 L112.2,495.0 L113.7,495.3 L115.1,495.6 L116.6,496.0 L118.1,496.4 L119.5,496.9 L120.9,497.3 L122.2,497.9 L123.5,498.4 L124.7,499.0 L125.8,499.7 L126.9,500.3 L127.9,501.0 L128.8,501.6 L129.6,502.3 L130.3,503.0 L130.9,503.7 L131.3,504.4 L131.7,505.1 L132.0,505.8 L132.1,506.5 L132.1,507.2 L132.0,507.8" fill="none" stroke="#000" stroke-width="4.3" stroke-linecap="round" stroke-linejoin="round"/><path d="M95.3,497.6 L95.5,497.1 L95.9,496.7 L96.4,496.3 L97.0,495.9 L97.7,495.5 L98.5,495.2 L99.4,495.0 L100.4,494.8 L101.5,494.6 L102.6,494.5 L103.8,494.4 L105.1,494.4 L106.5,494.4 L107.8,494.5 L109.3,494.6 L110.7,494.8 L112.2,495.0 L113.7,495.3 L115.1,495.6 L116.6,496.0 L118.1,496.4 L119.5,496.9 L120.9,497.3 L122.2,497.9 L123.5,498.4 L124.7,499.0 L125.8,499.7 L126.9,500.3 L127.9,501.0 L128.8,501.6 L129.6,502.3 L130.3,503.0 L130.9,503.7 L131.3,504.4 L131.7,505.1 L132.0,505.8 L132.1,506.5 L132.1,507.2 L132.0,507.8" fill="none" stroke="#fff" stroke-width="2.5" stroke-linecap="round" stroke-linejoin="round"/>
<path d="M95.2,508.2 L95.4,508.0 L95.7,507.7 L96.1,507.5 L96.6,507.3 L97.3,507.2 L98.0,507.1 L98.9,507.0 L99.8,506.9 L100.9,506.9 L102.0,506.9 L103.2,507.0 L104.4,507.0 L105.7,507.2 L107.1,507.3 L108.5,507.5 L109.9,507.7 L111.4,508.0 L112.9,508.3 L114.3,508.6 L115.8,509.0 L117.3,509.4 L118.7,509.8 L120.1,510.2 L121.5,510.7 L122.8,511.2 L124.1,511.6 L125.2,512.1 L126.3,512.7 L127.4,513.2 L128.3,513.7 L129.2,514.3 L129.9,514.8 L130.6,515.3 L131.1,515.8 L131.5,516.4 L131.8,516.9 L132.0,517.4 L132.1,517.8 L132.1,518.3" fill="none" stroke="#000" stroke-width="4.3" stroke-linecap="round" stroke-linejoin="round"/><path d="M95.2,508.2 L95.4,508.0 L95.7,507.7 L96.1,507.5 L96.6,507.3 L97.3,507.2 L98.0,507.1 L98.9,507.0 L99.8,506.9 L100.9,506.9 L102.0,506.9 L103.2,507.0 L104.4,507.0 L105.7,507.2 L107.1,507.3 L108.5,507.5 L109.9,507.7 L111.4,508.0 L112.9,508.3 L114.3,508.6 L115.8,509.0 L117.3,509.4 L118.7,509.8 L120.1,510.2 L121.5,510.7 L122.8,511.2 L124.1,511.6 L125.2,512.1 L126.3,512.7 L127.4,513.2 L128.3,513.7 L129.2,514.3 L129.9,514.8 L130.6,515.3 L131.1,515.8 L131.5,516.4 L131.8,516.9 L132.0,517.4 L132.1,517.8 L132.1,518.3" fill="none" stroke="#fff" stroke-width="2.5" stroke-linecap="round" stroke-linejoin="round"/>
<path d="M95.3,519.6 L95.5,519.6 L95.9,519.6 L96.3,519.6 L96.9,519.6 L97.6,519.7 L98.4,519.8 L99.3,519.9 L100.3,520.1 L101.4,520.2 L102.5,520.4 L103.7,520.6 L105.0,520.8 L106.3,521.1 L107.7,521.4 L109.2,521.7 L110.6,522.0 L112.1,522.3 L113.5,522.6 L115.0,523.0 L116.5,523.4 L117.9,523.7 L119.4,524.1 L120.8,524.5 L122.1,524.9 L123.4,525.3 L124.6,525.7 L125.8,526.1 L126.8,526.5 L127.8,526.9 L128.7,527.2 L129.5,527.6 L130.2,528.0 L130.8,528.3 L131.3,528.6 L131.7,529.0 L131.9,529.3 L132.1,529.5 L132.1,529.8 L132.0,530.0" fill="none" stroke="#000" stroke-width="4.3" stroke-linecap="round" stroke-linejoin="round"/><path d="M95.3,519.6 L95.5,519.6 L95.9,519.6 L96.3,519.6 L96.9,519.6 L97.6,519.7 L98.4,519.8 L99.3,519.9 L100.3,520.1 L101.4,520.2 L102.5,520.4 L103.7,520.6 L105.0,520.8 L106.3,521.1 L107.7,521.4 L109.2,521.7 L110.6,522.0 L112.1,522.3 L113.5,522.6 L115.0,523.0 L116.5,523.4 L117.9,523.7 L119.4,524.1 L120.8,524.5 L122.1,524.9 L123.4,525.3 L124.6,525.7 L125.8,526.1 L126.8,526.5 L127.8,526.9 L128.7,527.2 L129.5,527.6 L130.2,528.0 L130.8,528.3 L131.3,528.6 L131.7,529.0 L131.9,529.3 L132.1,529.5 L132.1,529.8 L132.0,530.0" fill="none" stroke="#fff" stroke-width="2.5" stroke-linecap="round" stroke-linejoin="round"/>
<path d="M95.2,531.8 L95.4,532.0 L95.7,532.2 L96.1,532.4 L96.6,532.7 L97.2,532.9 L98.0,533.2 L98.8,533.5 L99.8,533.8 L100.8,534.1 L101.9,534.5 L103.1,534.8 L104.3,535.2 L105.6,535.5 L107.0,535.9 L108.4,536.3 L109.8,536.6 L111.3,537.0 L112.7,537.4 L114.2,537.7 L115.7,538.1 L117.2,538.4 L118.6,538.8 L120.0,539.1 L121.4,539.4 L122.7,539.8 L124.0,540.0 L125.1,540.3 L126.3,540.6 L127.3,540.8 L128.3,541.0 L129.1,541.3 L129.9,541.4 L130.5,541.6 L131.1,541.7 L131.5,541.9 L131.8,542.0 L132.0,542.0 L132.1,542.1 L132.1,542.1" fill="none" stroke="#000" stroke-width="4.3" stroke-linecap="round" stroke-linejoin="round"/><path d="M95.2,531.8 L95.4,532.0 L95.7,532.2 L96.1,532.4 L96.6,532.7 L97.2,532.9 L98.0,533.2 L98.8,533.5 L99.8,533.8 L100.8,534.1 L101.9,534.5 L103.1,534.8 L104.3,535.2 L105.6,535.5 L107.0,535.9 L108.4,536.3 L109.8,536.6 L111.3,537.0 L112.7,537.4 L114.2,537.7 L115.7,538.1 L117.2,538.4 L118.6,538.8 L120.0,539.1 L121.4,539.4 L122.7,539.8 L124.0,540.0 L125.1,540.3 L126.3,540.6 L127.3,540.8 L128.3,541.0 L129.1,541.3 L129.9,541.4 L130.5,541.6 L131.1,541.7 L131.5,541.9 L131.8,542.0 L132.0,542.0 L132.1,542.1 L132.1,542.1" fill="none" stroke="#fff" stroke-width="2.5" stroke-linecap="round" stroke-linejoin="round"/>
<path d="M95.1,544.3 L95.2,544.7 L95.5,545.1 L95.8,545.6 L96.3,546.0 L96.9,546.5 L97.6,546.9 L98.3,547.4 L99.2,547.9 L100.2,548.4 L101.3,548.9 L102.4,549.4 L103.6,549.8 L104.9,550.3 L106.2,550.8 L107.6,551.2 L109.0,551.7 L110.5,552.1 L112.0,552.5 L113.4,552.9 L114.9,553.2 L116.4,553.6 L117.8,553.9 L119.3,554.2 L120.6,554.4 L122.0,554.7 L123.3,554.9 L124.5,555.1 L125.7,555.2 L126.8,555.3 L127.7,555.4 L128.7,555.4 L129.5,555.4 L130.2,555.4 L130.8,555.4 L131.3,555.3 L131.7,555.2 L131.9,555.1 L132.1,555.0 L132.1,554.8" fill="none" stroke="#000" stroke-width="4.3" stroke-linecap="round" stroke-linejoin="round"/><path d="M95.1,544.3 L95.2,544.7 L95.5,545.1 L95.8,545.6 L96.3,546.0 L96.9,546.5 L97.6,546.9 L98.3,547.4 L99.2,547.9 L100.2,548.4 L101.3,548.9 L102.4,549.4 L103.6,549.8 L104.9,550.3 L106.2,550.8 L107.6,551.2 L109.0,551.7 L110.5,552.1 L112.0,552.5 L113.4,552.9 L114.9,553.2 L116.4,553.6 L117.8,553.9 L119.3,554.2 L120.6,554.4 L122.0,554.7 L123.3,554.9 L124.5,555.1 L125.7,555.2 L126.8,555.3 L127.7,555.4 L128.7,555.4 L129.5,555.4 L130.2,555.4 L130.8,555.4 L131.3,555.3 L131.7,555.2 L131.9,555.1 L132.1,555.0 L132.1,554.8" fill="none" stroke="#fff" stroke-width="2.5" stroke-linecap="round" stroke-linejoin="round"/>
<path d="M95.1,704.3 L95.2,704.7 L95.4,705.0 L95.7,705.4 L96.2,705.8 L96.7,706.1 L97.4,706.5 L98.1,706.9 L99.0,707.3 L100.0,707.7 L101.0,708.1 L102.1,708.4 L103.3,708.8 L104.6,709.2 L105.9,709.5 L107.3,709.9 L108.7,710.2 L110.1,710.5 L111.6,710.8 L113.1,711.1 L114.5,711.3 L116.0,711.6 L117.5,711.8 L118.9,712.0 L120.3,712.2 L121.7,712.3 L123.0,712.4 L124.2,712.5 L125.4,712.6 L126.5,712.6 L127.5,712.7 L128.4,712.7 L129.3,712.7 L130.0,712.6 L130.6,712.5 L131.2,712.5 L131.6,712.4 L131.9,712.2 L132.0,712.1 L132.1,711.9 L132.0,711.8" fill="none" stroke="#000" stroke-width="4.3" stroke-linecap="round" stroke-linejoin="round"/><path d="M95.1,704.3 L95.2,704.7 L95.4,705.0 L95.7,705.4 L96.2,705.8 L96.7,706.1 L97.4,706.5 L98.1,706.9 L99.0,707.3 L100.0,707.7 L101.0,708.1 L102.1,708.4 L103.3,708.8 L104.6,709.2 L105.9,709.5 L107.3,709.9 L108.7,710.2 L110.1,710.5 L111.6,710.8 L113.1,711.1 L114.5,711.3 L116.0,711.6 L117.5,711.8 L118.9,712.0 L120.3,712.2 L121.7,712.3 L123.0,712.4 L124.2,712.5 L125.4,712.6 L126.5,712.6 L127.5,712.7 L128.4,712.7 L129.3,712.7 L130.0,712.6 L130.6,712.5 L131.2,712.5 L131.6,712.4 L131.9,712.2 L132.0,712.1 L132.1,711.9 L132.0,711.8" fill="none" stroke="#fff" stroke-width="2.5" stroke-linecap="round" stroke-linejoin="round"/>
<path d="M95.1,631.7 L95.2,632.0 L95.4,632.4 L95.7,632.8 L96.1,633.1 L96.7,633.5 L97.3,633.9 L98.1,634.3 L98.9,634.7 L99.9,635.1 L100.9,635.4 L102.0,635.8 L103.2,636.2 L104.5,636.6 L105.8,636.9 L107.2,637.3 L108.6,637.6 L110.0,637.9 L111.5,638.2 L113.0,638.5 L114.4,638.7 L115.9,639.0 L117.4,639.2 L118.8,639.4 L120.2,639.5 L121.6,639.7 L122.9,639.8 L124.1,639.9 L125.3,640.0 L126.4,640.0 L127.4,640.1 L128.4,640.1 L129.2,640.1 L130.0,640.0 L130.6,639.9 L131.1,639.9 L131.5,639.8 L131.8,639.6 L132.0,639.5 L132.1,639.3 L132.0,639.2" fill="none" stroke="#000" stroke-width="4.3" stroke-linecap="round" stroke-linejoin="round"/><path d="M95.1,631.7 L95.2,632.0 L95.4,632.4 L95.7,632.8 L96.1,633.1 L96.7,633.5 L97.3,633.9 L98.1,634.3 L98.9,634.7 L99.9,635.1 L100.9,635.4 L102.0,635.8 L103.2,636.2 L104.5,636.6 L105.8,636.9 L107.2,637.3 L108.6,637.6 L110.0,637.9 L111.5,638.2 L113.0,638.5 L114.4,638.7 L115.9,639.0 L117.4,639.2 L118.8,639.4 L120.2,639.5 L121.6,639.7 L122.9,639.8 L124.1,639.9 L125.3,640.0 L126.4,640.0 L127.4,640.1 L128.4,640.1 L129.2,640.1 L130.0,640.0 L130.6,639.9 L131.1,639.9 L131.5,639.8 L131.8,639.6 L132.0,639.5 L132.1,639.3 L132.0,639.2" fill="none" stroke="#fff" stroke-width="2.5" stroke-linecap="round" stroke-linejoin="round"/>
<path d="M95.1,717.5 L95.2,717.8 L95.4,718.2 L95.7,718.5 L96.1,718.9 L96.7,719.3 L97.3,719.7 L98.1,720.1 L98.9,720.5 L99.9,720.9 L100.9,721.2 L102.0,721.6 L103.2,722.0 L104.5,722.4 L105.8,722.7 L107.2,723.0 L108.6,723.4 L110.0,723.7 L111.5,724.0 L112.9,724.3 L114.4,724.5 L115.9,724.8 L117.3,725.0 L118.8,725.2 L120.2,725.3 L121.5,725.5 L122.9,725.6 L124.1,725.7 L125.3,725.8 L126.4,725.8 L127.4,725.9 L128.4,725.9 L129.2,725.9 L130.0,725.8 L130.6,725.8 L131.1,725.7 L131.5,725.6 L131.8,725.4 L132.0,725.3 L132.1,725.1 L132.1,725.0" fill="none" stroke="#000" stroke-width="4.3" stroke-linecap="round" stroke-linejoin="round"/><path d="M95.1,717.5 L95.2,717.8 L95.4,718.2 L95.7,718.5 L96.1,718.9 L96.7,719.3 L97.3,719.7 L98.1,720.1 L98.9,720.5 L99.9,720.9 L100.9,721.2 L102.0,721.6 L103.2,722.0 L104.5,722.4 L105.8,722.7 L107.2,723.0 L108.6,723.4 L110.0,723.7 L111.5,724.0 L112.9,724.3 L114.4,724.5 L115.9,724.8 L117.3,725.0 L118.8,725.2 L120.2,725.3 L121.5,725.5 L122.9,725.6 L124.1,725.7 L125.3,725.8 L126.4,725.8 L127.4,725.9 L128.4,725.9 L129.2,725.9 L130.0,725.8 L130.6,725.8 L131.1,725.7 L131.5,725.6 L131.8,725.4 L132.0,725.3 L132.1,725.1 L132.1,725.0" fill="none" stroke="#fff" stroke-width="2.5" stroke-linecap="round" stroke-linejoin="round"/>
<path d="M95.1,644.9 L95.2,645.2 L95.4,645.6 L95.7,645.9 L96.1,646.3 L96.6,646.7 L97.3,647.1 L98.0,647.4 L98.9,647.8 L99.8,648.2 L100.8,648.6 L102.0,649.0 L103.1,649.4 L104.4,649.7 L105.7,650.1 L107.1,650.4 L108.5,650.8 L109.9,651.1 L111.4,651.4 L112.8,651.6 L114.3,651.9 L115.8,652.1 L117.3,652.4 L118.7,652.6 L120.1,652.7 L121.5,652.9 L122.8,653.0 L124.0,653.1 L125.2,653.2 L126.3,653.2 L127.4,653.3 L128.3,653.3 L129.2,653.3 L129.9,653.2 L130.6,653.2 L131.1,653.1 L131.5,653.0 L131.8,652.8 L132.0,652.7 L132.1,652.6 L132.1,652.4" fill="none" stroke="#000" stroke-width="4.3" stroke-linecap="round" stroke-linejoin="round"/><path d="M95.1,644.9 L95.2,645.2 L95.4,645.6 L95.7,645.9 L96.1,646.3 L96.6,646.7 L97.3,647.1 L98.0,647.4 L98.9,647.8 L99.8,648.2 L100.8,648.6 L102.0,649.0 L103.1,649.4 L104.4,649.7 L105.7,650.1 L107.1,650.4 L108.5,650.8 L109.9,651.1 L111.4,651.4 L112.8,651.6 L114.3,651.9 L115.8,652.1 L117.3,652.4 L118.7,652.6 L120.1,652.7 L121.5,652.9 L122.8,653.0 L124.0,653.1 L125.2,653.2 L126.3,653.2 L127.4,653.3 L128.3,653.3 L129.2,653.3 L129.9,653.2 L130.6,653.2 L131.1,653.1 L131.5,653.0 L131.8,652.8 L132.0,652.7 L132.1,652.6 L132.1,652.4" fill="none" stroke="#fff" stroke-width="2.5" stroke-linecap="round" stroke-linejoin="round"/>
<path d="M95.1,658.0 L95.2,658.4 L95.3,658.7 L95.6,659.1 L96.1,659.5 L96.6,659.8 L97.2,660.2 L98.0,660.6 L98.8,661.0 L99.7,661.4 L100.8,661.8 L101.9,662.2 L103.0,662.5 L104.3,662.9 L105.6,663.3 L107.0,663.6 L108.4,663.9 L109.8,664.2 L111.2,664.5 L112.7,664.8 L114.2,665.1 L115.7,665.3 L117.1,665.6 L118.6,665.7 L120.0,665.9 L121.4,666.1 L122.7,666.2 L123.9,666.3 L125.1,666.4 L126.2,666.4 L127.3,666.5 L128.2,666.5 L129.1,666.5 L129.9,666.4 L130.5,666.4 L131.1,666.3 L131.5,666.2 L131.8,666.1 L132.0,665.9 L132.1,665.8 L132.1,665.6" fill="none" stroke="#000" stroke-width="4.3" stroke-linecap="round" stroke-linejoin="round"/><path d="M95.1,658.0 L95.2,658.4 L95.3,658.7 L95.6,659.1 L96.1,659.5 L96.6,659.8 L97.2,660.2 L98.0,660.6 L98.8,661.0 L99.7,661.4 L100.8,661.8 L101.9,662.2 L103.0,662.5 L104.3,662.9 L105.6,663.3 L107.0,663.6 L108.4,663.9 L109.8,664.2 L111.2,664.5 L112.7,664.8 L114.2,665.1 L115.7,665.3 L117.1,665.6 L118.6,665.7 L120.0,665.9 L121.4,666.1 L122.7,666.2 L123.9,666.3 L125.1,666.4 L126.2,666.4 L127.3,666.5 L128.2,666.5 L129.1,666.5 L129.9,666.4 L130.5,666.4 L131.1,666.3 L131.5,666.2 L131.8,666.1 L132.0,665.9 L132.1,665.8 L132.1,665.6" fill="none" stroke="#fff" stroke-width="2.5" stroke-linecap="round" stroke-linejoin="round"/>
<path d="M95.2,557.4 L95.3,558.0 L95.6,558.6 L96.0,559.2 L96.5,559.9 L97.2,560.5 L97.9,561.1 L98.7,561.7 L99.7,562.3 L100.7,562.9 L101.8,563.5 L103.0,564.0 L104.2,564.6 L105.5,565.1 L106.9,565.6 L108.3,566.1 L109.7,566.5 L111.2,566.9 L112.6,567.3 L114.1,567.6 L115.6,567.9 L117.1,568.2 L118.5,568.4 L119.9,568.7 L121.3,568.8 L122.6,568.9 L123.9,569.0 L125.1,569.1 L126.2,569.1 L127.2,569.1 L128.2,569.1 L129.0,569.0 L129.8,568.9 L130.5,568.7 L131.0,568.6 L131.5,568.4 L131.8,568.2 L132.0,568.0 L132.1,567.7 L132.1,567.4" fill="none" stroke="#000" stroke-width="4.3" stroke-linecap="round" stroke-linejoin="round"/><path d="M95.2,557.4 L95.3,558.0 L95.6,558.6 L96.0,559.2 L96.5,559.9 L97.2,560.5 L97.9,561.1 L98.7,561.7 L99.7,562.3 L100.7,562.9 L101.8,563.5 L103.0,564.0 L104.2,564.6 L105.5,565.1 L106.9,565.6 L108.3,566.1 L109.7,566.5 L111.2,566.9 L112.6,567.3 L114.1,567.6 L115.6,567.9 L117.1,568.2 L118.5,568.4 L119.9,568.7 L121.3,568.8 L122.6,568.9 L123.9,569.0 L125.1,569.1 L126.2,569.1 L127.2,569.1 L128.2,569.1 L129.0,569.0 L129.8,568.9 L130.5,568.7 L131.0,568.6 L131.5,568.4 L131.8,568.2 L132.0,568.0 L132.1,567.7 L132.1,567.4" fill="none" stroke="#fff" stroke-width="2.5" stroke-linecap="round" stroke-linejoin="round"/>
<path d="M95.2,671.6 L95.3,671.9 L95.6,672.3 L96.0,672.6 L96.5,673.0 L97.2,673.4 L97.9,673.8 L98.7,674.2 L99.7,674.6 L100.7,675.0 L101.8,675.3 L102.9,675.7 L104.2,676.1 L105.5,676.4 L106.8,676.8 L108.2,677.1 L109.7,677.4 L111.1,677.7 L112.6,678.0 L114.1,678.3 L115.6,678.5 L117.0,678.7 L118.5,678.9 L119.9,679.1 L121.2,679.3 L122.6,679.4 L123.8,679.5 L125.0,679.6 L126.2,679.6 L127.2,679.7 L128.2,679.7 L129.0,679.7 L129.8,679.6 L130.5,679.6 L131.0,679.5 L131.5,679.4 L131.8,679.3 L132.0,679.1 L132.1,679.0 L132.1,678.8" fill="none" stroke="#000" stroke-width="4.3" stroke-linecap="round" stroke-linejoin="round"/><path d="M95.2,671.6 L95.3,671.9 L95.6,672.3 L96.0,672.6 L96.5,673.0 L97.2,673.4 L97.9,673.8 L98.7,674.2 L99.7,674.6 L100.7,675.0 L101.8,675.3 L102.9,675.7 L104.2,676.1 L105.5,676.4 L106.8,676.8 L108.2,677.1 L109.7,677.4 L111.1,677.7 L112.6,678.0 L114.1,678.3 L115.6,678.5 L117.0,678.7 L118.5,678.9 L119.9,679.1 L121.2,679.3 L122.6,679.4 L123.8,679.5 L125.0,679.6 L126.2,679.6 L127.2,679.7 L128.2,679.7 L129.0,679.7 L129.8,679.6 L130.5,679.6 L131.0,679.5 L131.5,679.4 L131.8,679.3 L132.0,679.1 L132.1,679.0 L132.1,678.8" fill="none" stroke="#fff" stroke-width="2.5" stroke-linecap="round" stroke-linejoin="round"/>
<path d="M95.1,583.0 L95.3,583.6 L95.6,584.2 L96.0,584.8 L96.5,585.4 L97.1,586.0 L97.8,586.7 L98.7,587.3 L99.6,587.9 L100.6,588.5 L101.7,589.0 L102.9,589.6 L104.1,590.1 L105.4,590.7 L106.8,591.2 L108.2,591.6 L109.6,592.1 L111.0,592.5 L112.5,592.9 L114.0,593.2 L115.5,593.5 L116.9,593.8 L118.4,594.0 L119.8,594.2 L121.2,594.4 L122.5,594.5 L123.8,594.6 L125.0,594.7 L126.1,594.7 L127.1,594.7 L128.1,594.7 L129.0,594.6 L129.7,594.5 L130.4,594.4 L131.0,594.2 L131.4,594.0 L131.8,593.8 L132.0,593.6 L132.1,593.3 L132.1,593.1" fill="none" stroke="#000" stroke-width="4.3" stroke-linecap="round" stroke-linejoin="round"/><path d="M95.1,583.0 L95.3,583.6 L95.6,584.2 L96.0,584.8 L96.5,585.4 L97.1,586.0 L97.8,586.7 L98.7,587.3 L99.6,587.9 L100.6,588.5 L101.7,589.0 L102.9,589.6 L104.1,590.1 L105.4,590.7 L106.8,591.2 L108.2,591.6 L109.6,592.1 L111.0,592.5 L112.5,592.9 L114.0,593.2 L115.5,593.5 L116.9,593.8 L118.4,594.0 L119.8,594.2 L121.2,594.4 L122.5,594.5 L123.8,594.6 L125.0,594.7 L126.1,594.7 L127.1,594.7 L128.1,594.7 L129.0,594.6 L129.7,594.5 L130.4,594.4 L131.0,594.2 L131.4,594.0 L131.8,593.8 L132.0,593.6 L132.1,593.3 L132.1,593.1" fill="none" stroke="#fff" stroke-width="2.5" stroke-linecap="round" stroke-linejoin="round"/>
<path d="M95.1,684.7 L95.3,685.1 L95.6,685.4 L96.0,685.8 L96.5,686.2 L97.1,686.6 L97.8,687.0 L98.7,687.3 L99.6,687.7 L100.6,688.1 L101.7,688.5 L102.8,688.9 L104.1,689.2 L105.4,689.6 L106.7,689.9 L108.1,690.3 L109.6,690.6 L111.0,690.9 L112.5,691.2 L114.0,691.4 L115.4,691.7 L116.9,691.9 L118.4,692.1 L119.8,692.3 L121.1,692.5 L122.5,692.6 L123.7,692.7 L124.9,692.8 L126.1,692.8 L127.1,692.9 L128.1,692.9 L129.0,692.9 L129.7,692.8 L130.4,692.8 L131.0,692.7 L131.4,692.6 L131.8,692.5 L132.0,692.3 L132.1,692.2 L132.1,692.0" fill="none" stroke="#000" stroke-width="4.3" stroke-linecap="round" stroke-linejoin="round"/><path d="M95.1,684.7 L95.3,685.1 L95.6,685.4 L96.0,685.8 L96.5,686.2 L97.1,686.6 L97.8,687.0 L98.7,687.3 L99.6,687.7 L100.6,688.1 L101.7,688.5 L102.8,688.9 L104.1,689.2 L105.4,689.6 L106.7,689.9 L108.1,690.3 L109.6,690.6 L111.0,690.9 L112.5,691.2 L114.0,691.4 L115.4,691.7 L116.9,691.9 L118.4,692.1 L119.8,692.3 L121.1,692.5 L122.5,692.6 L123.7,692.7 L124.9,692.8 L126.1,692.8 L127.1,692.9 L128.1,692.9 L129.0,692.9 L129.7,692.8 L130.4,692.8 L131.0,692.7 L131.4,692.6 L131.8,692.5 L132.0,692.3 L132.1,692.2 L132.1,692.0" fill="none" stroke="#fff" stroke-width="2.5" stroke-linecap="round" stroke-linejoin="round"/>
<path d="M95.1,608.5 L95.3,609.1 L95.6,609.7 L96.0,610.3 L96.5,611.0 L97.1,611.6 L97.8,612.2 L98.6,612.8 L99.5,613.4 L100.5,614.0 L101.6,614.6 L102.8,615.1 L104.0,615.6 L105.3,616.1 L106.7,616.6 L108.0,617.0 L109.5,617.5 L110.9,617.8 L112.4,618.2 L113.9,618.5 L115.4,618.8 L116.8,619.0 L118.3,619.3 L119.7,619.4 L121.1,619.6 L122.4,619.7 L123.7,619.8 L124.9,619.8 L126.0,619.8 L127.1,619.8 L128.0,619.7 L128.9,619.7 L129.7,619.6 L130.4,619.4 L130.9,619.3 L131.4,619.1 L131.7,618.9 L132.0,618.7 L132.1,618.5 L132.1,618.3" fill="none" stroke="#000" stroke-width="4.3" stroke-linecap="round" stroke-linejoin="round"/><path d="M95.1,608.5 L95.3,609.1 L95.6,609.7 L96.0,610.3 L96.5,611.0 L97.1,611.6 L97.8,612.2 L98.6,612.8 L99.5,613.4 L100.5,614.0 L101.6,614.6 L102.8,615.1 L104.0,615.6 L105.3,616.1 L106.7,616.6 L108.0,617.0 L109.5,617.5 L110.9,617.8 L112.4,618.2 L113.9,618.5 L115.4,618.8 L116.8,619.0 L118.3,619.3 L119.7,619.4 L121.1,619.6 L122.4,619.7 L123.7,619.8 L124.9,619.8 L126.0,619.8 L127.1,619.8 L128.0,619.7 L128.9,619.7 L129.7,619.6 L130.4,619.4 L130.9,619.3 L131.4,619.1 L131.7,618.9 L132.0,618.7 L132.1,618.5 L132.1,618.3" fill="none" stroke="#fff" stroke-width="2.5" stroke-linecap="round" stroke-linejoin="round"/>
<path d="M95.1,697.9 L95.3,698.2 L95.6,698.6 L95.9,699.0 L96.4,699.4 L97.1,699.7 L97.8,700.1 L98.6,700.5 L99.5,700.9 L100.5,701.3 L101.6,701.7 L102.8,702.0 L104.0,702.4 L105.3,702.8 L106.6,703.1 L108.0,703.5 L109.4,703.8 L110.9,704.1 L112.4,704.4 L113.8,704.6 L115.3,704.9 L116.8,705.1 L118.2,705.3 L119.7,705.5 L121.0,705.6 L122.4,705.8 L123.6,705.9 L124.8,706.0 L126.0,706.0 L127.0,706.1 L128.0,706.1 L128.9,706.1 L129.7,706.0 L130.4,706.0 L130.9,705.9 L131.4,705.8 L131.7,705.7 L132.0,705.6 L132.1,705.4 L132.1,705.2" fill="none" stroke="#000" stroke-width="4.3" stroke-linecap="round" stroke-linejoin="round"/><path d="M95.1,697.9 L95.3,698.2 L95.6,698.6 L95.9,699.0 L96.4,699.4 L97.1,699.7 L97.8,700.1 L98.6,700.5 L99.5,700.9 L100.5,701.3 L101.6,701.7 L102.8,702.0 L104.0,702.4 L105.3,702.8 L106.6,703.1 L108.0,703.5 L109.4,703.8 L110.9,704.1 L112.4,704.4 L113.8,704.6 L115.3,704.9 L116.8,705.1 L118.2,705.3 L119.7,705.5 L121.0,705.6 L122.4,705.8 L123.6,705.9 L124.8,706.0 L126.0,706.0 L127.0,706.1 L128.0,706.1 L128.9,706.1 L129.7,706.0 L130.4,706.0 L130.9,705.9 L131.4,705.8 L131.7,705.7 L132.0,705.6 L132.1,705.4 L132.1,705.2" fill="none" stroke="#fff" stroke-width="2.5" stroke-linecap="round" stroke-linejoin="round"/>
<path d="M95.1,625.3 L95.3,625.6 L95.5,626.0 L95.9,626.4 L96.4,626.7 L97.0,627.1 L97.7,627.5 L98.5,627.9 L99.4,628.3 L100.4,628.7 L101.5,629.0 L102.7,629.4 L103.9,629.8 L105.2,630.2 L106.5,630.5 L107.9,630.8 L109.4,631.2 L110.8,631.5 L112.3,631.7 L113.8,632.0 L115.2,632.3 L116.7,632.5 L118.2,632.7 L119.6,632.9 L120.9,633.0 L122.3,633.2 L123.6,633.3 L124.8,633.4 L125.9,633.4 L127.0,633.5 L128.0,633.5 L128.8,633.5 L129.6,633.4 L130.3,633.4 L130.9,633.3 L131.4,633.2 L131.7,633.1 L132.0,633.0 L132.1,632.8 L132.1,632.6" fill="none" stroke="#000" stroke-width="4.3" stroke-linecap="round" stroke-linejoin="round"/><path d="M95.1,625.3 L95.3,625.6 L95.5,626.0 L95.9,626.4 L96.4,626.7 L97.0,627.1 L97.7,627.5 L98.5,627.9 L99.4,628.3 L100.4,628.7 L101.5,629.0 L102.7,629.4 L103.9,629.8 L105.2,630.2 L106.5,630.5 L107.9,630.8 L109.4,631.2 L110.8,631.5 L112.3,631.7 L113.8,632.0 L115.2,632.3 L116.7,632.5 L118.2,632.7 L119.6,632.9 L120.9,633.0 L122.3,633.2 L123.6,633.3 L124.8,633.4 L125.9,633.4 L127.0,633.5 L128.0,633.5 L128.8,633.5 L129.6,633.4 L130.3,633.4 L130.9,633.3 L131.4,633.2 L131.7,633.1 L132.0,633.0 L132.1,632.8 L132.1,632.6" fill="none" stroke="#fff" stroke-width="2.5" stroke-linecap="round" stroke-linejoin="round"/>
<path d="M95.1,711.1 L95.3,711.4 L95.5,711.8 L95.9,712.1 L96.4,712.5 L97.0,712.9 L97.7,713.3 L98.5,713.7 L99.4,714.1 L100.4,714.5 L101.5,714.8 L102.7,715.2 L103.9,715.6 L105.2,715.9 L106.5,716.3 L107.9,716.6 L109.3,716.9 L110.8,717.3 L112.3,717.5 L113.7,717.8 L115.2,718.1 L116.7,718.3 L118.1,718.5 L119.5,718.7 L120.9,718.8 L122.3,719.0 L123.5,719.1 L124.8,719.2 L125.9,719.2 L127.0,719.3 L127.9,719.3 L128.8,719.3 L129.6,719.2 L130.3,719.2 L130.9,719.1 L131.4,719.0 L131.7,718.9 L132.0,718.8 L132.1,718.6 L132.1,718.5" fill="none" stroke="#000" stroke-width="4.3" stroke-linecap="round" stroke-linejoin="round"/><path d="M95.1,711.1 L95.3,711.4 L95.5,711.8 L95.9,712.1 L96.4,712.5 L97.0,712.9 L97.7,713.3 L98.5,713.7 L99.4,714.1 L100.4,714.5 L101.5,714.8 L102.7,715.2 L103.9,715.6 L105.2,715.9 L106.5,716.3 L107.9,716.6 L109.3,716.9 L110.8,717.3 L112.3,717.5 L113.7,717.8 L115.2,718.1 L116.7,718.3 L118.1,718.5 L119.5,718.7 L120.9,718.8 L122.3,719.0 L123.5,719.1 L124.8,719.2 L125.9,719.2 L127.0,719.3 L127.9,719.3 L128.8,719.3 L129.6,719.2 L130.3,719.2 L130.9,719.1 L131.4,719.0 L131.7,718.9 L132.0,718.8 L132.1,718.6 L132.1,718.5" fill="none" stroke="#fff" stroke-width="2.5" stroke-linecap="round" stroke-linejoin="round"/>
<path d="M95.1,638.5 L95.3,638.8 L95.5,639.2 L95.9,639.5 L96.4,639.9 L97.0,640.3 L97.7,640.7 L98.5,641.1 L99.4,641.4 L100.4,641.8 L101.4,642.2 L102.6,642.6 L103.8,643.0 L105.1,643.3 L106.4,643.7 L107.8,644.0 L109.2,644.3 L110.7,644.6 L112.2,644.9 L113.6,645.2 L115.1,645.4 L116.6,645.7 L118.0,645.9 L119.5,646.1 L120.8,646.2 L122.2,646.4 L123.5,646.5 L124.7,646.6 L125.8,646.6 L126.9,646.7 L127.9,646.7 L128.8,646.7 L129.6,646.6 L130.3,646.6 L130.9,646.5 L131.3,646.4 L131.7,646.3 L131.9,646.2 L132.1,646.0 L132.1,645.9" fill="none" stroke="#000" stroke-width="4.3" stroke-linecap="round" stroke-linejoin="round"/><path d="M95.1,638.5 L95.3,638.8 L95.5,639.2 L95.9,639.5 L96.4,639.9 L97.0,640.3 L97.7,640.7 L98.5,641.1 L99.4,641.4 L100.4,641.8 L101.4,642.2 L102.6,642.6 L103.8,643.0 L105.1,643.3 L106.4,643.7 L107.8,644.0 L109.2,644.3 L110.7,644.6 L112.2,644.9 L113.6,645.2 L115.1,645.4 L116.6,645.7 L118.0,645.9 L119.5,646.1 L120.8,646.2 L122.2,646.4 L123.5,646.5 L124.7,646.6 L125.8,646.6 L126.9,646.7 L127.9,646.7 L128.8,646.7 L129.6,646.6 L130.3,646.6 L130.9,646.5 L131.3,646.4 L131.7,646.3 L131.9,646.2 L132.1,646.0 L132.1,645.9" fill="none" stroke="#fff" stroke-width="2.5" stroke-linecap="round" stroke-linejoin="round"/>
<path d="M95.1,724.2 L95.3,724.6 L95.5,725.0 L95.9,725.3 L96.4,725.7 L97.0,726.1 L97.7,726.5 L98.5,726.9 L99.3,727.2 L100.3,727.6 L101.4,728.0 L102.6,728.4 L103.8,728.8 L105.1,729.1 L106.4,729.5 L107.8,729.8 L109.2,730.1 L110.7,730.4 L112.1,730.7 L113.6,731.0 L115.1,731.2 L116.6,731.5 L118.0,731.7 L119.4,731.9 L120.8,732.0 L122.2,732.2 L123.4,732.3 L124.7,732.4 L125.8,732.4 L126.9,732.5 L127.9,732.5 L128.8,732.5 L129.6,732.4 L130.3,732.4 L130.8,732.3 L131.3,732.2 L131.7,732.1 L131.9,732.0 L132.1,731.8 L132.1,731.7" fill="none" stroke="#000" stroke-width="4.3" stroke-linecap="round" stroke-linejoin="round"/><path d="M95.1,724.2 L95.3,724.6 L95.5,725.0 L95.9,725.3 L96.4,725.7 L97.0,726.1 L97.7,726.5 L98.5,726.9 L99.3,727.2 L100.3,727.6 L101.4,728.0 L102.6,728.4 L103.8,728.8 L105.1,729.1 L106.4,729.5 L107.8,729.8 L109.2,730.1 L110.7,730.4 L112.1,730.7 L113.6,731.0 L115.1,731.2 L116.6,731.5 L118.0,731.7 L119.4,731.9 L120.8,732.0 L122.2,732.2 L123.4,732.3 L124.7,732.4 L125.8,732.4 L126.9,732.5 L127.9,732.5 L128.8,732.5 L129.6,732.4 L130.3,732.4 L130.8,732.3 L131.3,732.2 L131.7,732.1 L131.9,732.0 L132.1,731.8 L132.1,731.7" fill="none" stroke="#fff" stroke-width="2.5" stroke-linecap="round" stroke-linejoin="round"/>
<path d="M95.1,651.6 L95.2,652.0 L95.5,652.3 L95.9,652.7 L96.3,653.1 L96.9,653.5 L97.6,653.8 L98.4,654.2 L99.3,654.6 L100.3,655.0 L101.3,655.4 L102.5,655.8 L103.7,656.1 L105.0,656.5 L106.3,656.8 L107.7,657.2 L109.1,657.5 L110.6,657.8 L112.0,658.1 L113.5,658.4 L115.0,658.6 L116.5,658.9 L117.9,659.1 L119.3,659.2 L120.7,659.4 L122.1,659.5 L123.4,659.7 L124.6,659.8 L125.7,659.8 L126.8,659.9 L127.8,659.9 L128.7,659.9 L129.5,659.8 L130.2,659.8 L130.8,659.7 L131.3,659.6 L131.7,659.5 L131.9,659.4 L132.1,659.2 L132.1,659.1" fill="none" stroke="#000" stroke-width="4.3" stroke-linecap="round" stroke-linejoin="round"/><path d="M95.1,651.6 L95.2,652.0 L95.5,652.3 L95.9,652.7 L96.3,653.1 L96.9,653.5 L97.6,653.8 L98.4,654.2 L99.3,654.6 L100.3,655.0 L101.3,655.4 L102.5,655.8 L103.7,656.1 L105.0,656.5 L106.3,656.8 L107.7,657.2 L109.1,657.5 L110.6,657.8 L112.0,658.1 L113.5,658.4 L115.0,658.6 L116.5,658.9 L117.9,659.1 L119.3,659.2 L120.7,659.4 L122.1,659.5 L123.4,659.7 L124.6,659.8 L125.7,659.8 L126.8,659.9 L127.8,659.9 L128.7,659.9 L129.5,659.8 L130.2,659.8 L130.8,659.7 L131.3,659.6 L131.7,659.5 L131.9,659.4 L132.1,659.2 L132.1,659.1" fill="none" stroke="#fff" stroke-width="2.5" stroke-linecap="round" stroke-linejoin="round"/>
<path d="M95.1,664.8 L95.2,665.1 L95.5,665.5 L95.8,665.9 L96.3,666.2 L96.9,666.6 L97.5,667.0 L98.3,667.4 L99.2,667.8 L100.2,668.2 L101.3,668.6 L102.4,668.9 L103.6,669.3 L104.9,669.7 L106.2,670.0 L107.6,670.4 L109.0,670.7 L110.5,671.0 L111.9,671.3 L113.4,671.6 L114.9,671.8 L116.4,672.0 L117.8,672.2 L119.2,672.4 L120.6,672.6 L122.0,672.7 L123.3,672.9 L124.5,672.9 L125.7,673.0 L126.7,673.1 L127.7,673.1 L128.6,673.1 L129.5,673.0 L130.2,673.0 L130.8,672.9 L131.3,672.8 L131.6,672.7 L131.9,672.6 L132.1,672.4 L132.1,672.3" fill="none" stroke="#000" stroke-width="4.3" stroke-linecap="round" stroke-linejoin="round"/><path d="M95.1,664.8 L95.2,665.1 L95.5,665.5 L95.8,665.9 L96.3,666.2 L96.9,666.6 L97.5,667.0 L98.3,667.4 L99.2,667.8 L100.2,668.2 L101.3,668.6 L102.4,668.9 L103.6,669.3 L104.9,669.7 L106.2,670.0 L107.6,670.4 L109.0,670.7 L110.5,671.0 L111.9,671.3 L113.4,671.6 L114.9,671.8 L116.4,672.0 L117.8,672.2 L119.2,672.4 L120.6,672.6 L122.0,672.7 L123.3,672.9 L124.5,672.9 L125.7,673.0 L126.7,673.1 L127.7,673.1 L128.6,673.1 L129.5,673.0 L130.2,673.0 L130.8,672.9 L131.3,672.8 L131.6,672.7 L131.9,672.6 L132.1,672.4 L132.1,672.3" fill="none" stroke="#fff" stroke-width="2.5" stroke-linecap="round" stroke-linejoin="round"/>
<path d="M95.1,569.9 L95.2,570.5 L95.5,571.1 L95.8,571.7 L96.3,572.3 L96.8,572.9 L97.5,573.6 L98.3,574.2 L99.2,574.8 L100.1,575.4 L101.2,576.0 L102.3,576.5 L103.5,577.1 L104.8,577.6 L106.1,578.1 L107.5,578.6 L108.9,579.1 L110.4,579.5 L111.8,579.9 L113.3,580.2 L114.8,580.6 L116.3,580.9 L117.7,581.1 L119.1,581.3 L120.5,581.5 L121.9,581.7 L123.2,581.8 L124.4,581.9 L125.6,581.9 L126.7,581.9 L127.7,581.9 L128.6,581.8 L129.4,581.7 L130.1,581.6 L130.7,581.5 L131.2,581.3 L131.6,581.1 L131.9,580.9 L132.1,580.6 L132.1,580.4" fill="none" stroke="#000" stroke-width="4.3" stroke-linecap="round" stroke-linejoin="round"/><path d="M95.1,569.9 L95.2,570.5 L95.5,571.1 L95.8,571.7 L96.3,572.3 L96.8,572.9 L97.5,573.6 L98.3,574.2 L99.2,574.8 L100.1,575.4 L101.2,576.0 L102.3,576.5 L103.5,577.1 L104.8,577.6 L106.1,578.1 L107.5,578.6 L108.9,579.1 L110.4,579.5 L111.8,579.9 L113.3,580.2 L114.8,580.6 L116.3,580.9 L117.7,581.1 L119.1,581.3 L120.5,581.5 L121.9,581.7 L123.2,581.8 L124.4,581.9 L125.6,581.9 L126.7,581.9 L127.7,581.9 L128.6,581.8 L129.4,581.7 L130.1,581.6 L130.7,581.5 L131.2,581.3 L131.6,581.1 L131.9,580.9 L132.1,580.6 L132.1,580.4" fill="none" stroke="#fff" stroke-width="2.5" stroke-linecap="round" stroke-linejoin="round"/>
<path d="M95.1,678.0 L95.2,678.3 L95.4,678.7 L95.8,679.0 L96.2,679.4 L96.8,679.8 L97.5,680.2 L98.3,680.6 L99.1,681.0 L100.1,681.3 L101.2,681.7 L102.3,682.1 L103.5,682.5 L104.8,682.8 L106.1,683.2 L107.5,683.5 L108.9,683.9 L110.3,684.2 L111.8,684.5 L113.3,684.7 L114.8,685.0 L116.2,685.2 L117.7,685.4 L119.1,685.6 L120.5,685.8 L121.9,685.9 L123.2,686.0 L124.4,686.1 L125.6,686.2 L126.7,686.3 L127.7,686.3 L128.6,686.3 L129.4,686.2 L130.1,686.2 L130.7,686.1 L131.2,686.0 L131.6,685.9 L131.9,685.8 L132.1,685.7 L132.1,685.5" fill="none" stroke="#000" stroke-width="4.3" stroke-linecap="round" stroke-linejoin="round"/><path d="M95.1,678.0 L95.2,678.3 L95.4,678.7 L95.8,679.0 L96.2,679.4 L96.8,679.8 L97.5,680.2 L98.3,680.6 L99.1,681.0 L100.1,681.3 L101.2,681.7 L102.3,682.1 L103.5,682.5 L104.8,682.8 L106.1,683.2 L107.5,683.5 L108.9,683.9 L110.3,684.2 L111.8,684.5 L113.3,684.7 L114.8,685.0 L116.2,685.2 L117.7,685.4 L119.1,685.6 L120.5,685.8 L121.9,685.9 L123.2,686.0 L124.4,686.1 L125.6,686.2 L126.7,686.3 L127.7,686.3 L128.6,686.3 L129.4,686.2 L130.1,686.2 L130.7,686.1 L131.2,686.0 L131.6,685.9 L131.9,685.8 L132.1,685.7 L132.1,685.5" fill="none" stroke="#fff" stroke-width="2.5" stroke-linecap="round" stroke-linejoin="round"/>
<path d="M95.1,595.4 L95.2,596.0 L95.4,596.6 L95.8,597.3 L96.2,597.9 L96.8,598.5 L97.4,599.1 L98.2,599.7 L99.1,600.3 L100.0,600.9 L101.1,601.5 L102.2,602.1 L103.4,602.6 L104.7,603.2 L106.0,603.7 L107.4,604.2 L108.8,604.6 L110.3,605.1 L111.7,605.5 L113.2,605.8 L114.7,606.1 L116.1,606.4 L117.6,606.7 L119.0,606.9 L120.4,607.1 L121.8,607.3 L123.1,607.4 L124.3,607.5 L125.5,607.5 L126.6,607.5 L127.6,607.5 L128.5,607.4 L129.3,607.3 L130.1,607.2 L130.7,607.1 L131.2,606.9 L131.6,606.7 L131.9,606.5 L132.1,606.3 L132.1,606.0" fill="none" stroke="#000" stroke-width="4.3" stroke-linecap="round" stroke-linejoin="round"/><path d="M95.1,595.4 L95.2,596.0 L95.4,596.6 L95.8,597.3 L96.2,597.9 L96.8,598.5 L97.4,599.1 L98.2,599.7 L99.1,600.3 L100.0,600.9 L101.1,601.5 L102.2,602.1 L103.4,602.6 L104.7,603.2 L106.0,603.7 L107.4,604.2 L108.8,604.6 L110.3,605.1 L111.7,605.5 L113.2,605.8 L114.7,606.1 L116.1,606.4 L117.6,606.7 L119.0,606.9 L120.4,607.1 L121.8,607.3 L123.1,607.4 L124.3,607.5 L125.5,607.5 L126.6,607.5 L127.6,607.5 L128.5,607.4 L129.3,607.3 L130.1,607.2 L130.7,607.1 L131.2,606.9 L131.6,606.7 L131.9,606.5 L132.1,606.3 L132.1,606.0" fill="none" stroke="#fff" stroke-width="2.5" stroke-linecap="round" stroke-linejoin="round"/>
<path d="M95.1,691.1 L95.2,691.5 L95.4,691.8 L95.8,692.2 L96.2,692.6 L96.8,693.0 L97.4,693.3 L98.2,693.7 L99.1,694.1 L100.0,694.5 L101.1,694.9 L102.2,695.3 L103.4,695.6 L104.7,696.0 L106.0,696.4 L107.4,696.7 L108.8,697.0 L110.2,697.3 L111.7,697.6 L113.2,697.9 L114.6,698.2 L116.1,698.4 L117.6,698.6 L119.0,698.8 L120.4,699.0 L121.8,699.1 L123.1,699.2 L124.3,699.3 L125.5,699.4 L126.6,699.5 L127.6,699.5 L128.5,699.5 L129.3,699.5 L130.1,699.4 L130.7,699.3 L131.2,699.3 L131.6,699.1 L131.9,699.0 L132.0,698.9 L132.1,698.7" fill="none" stroke="#000" stroke-width="4.3" stroke-linecap="round" stroke-linejoin="round"/><path d="M95.1,691.1 L95.2,691.5 L95.4,691.8 L95.8,692.2 L96.2,692.6 L96.8,693.0 L97.4,693.3 L98.2,693.7 L99.1,694.1 L100.0,694.5 L101.1,694.9 L102.2,695.3 L103.4,695.6 L104.7,696.0 L106.0,696.4 L107.4,696.7 L108.8,697.0 L110.2,697.3 L111.7,697.6 L113.2,697.9 L114.6,698.2 L116.1,698.4 L117.6,698.6 L119.0,698.8 L120.4,699.0 L121.8,699.1 L123.1,699.2 L124.3,699.3 L125.5,699.4 L126.6,699.5 L127.6,699.5 L128.5,699.5 L129.3,699.5 L130.1,699.4 L130.7,699.3 L131.2,699.3 L131.6,699.1 L131.9,699.0 L132.0,698.9 L132.1,698.7" fill="none" stroke="#fff" stroke-width="2.5" stroke-linecap="round" stroke-linejoin="round"/>
<path d="M95.1,618.4 L95.2,618.8 L95.4,619.2 L95.7,619.6 L96.2,620.0 L96.7,620.4 L97.4,620.8 L98.2,621.2 L99.0,621.5 L100.0,621.9 L101.0,622.3 L102.1,622.7 L103.3,623.1 L104.6,623.4 L105.9,623.8 L107.3,624.1 L108.7,624.4 L110.1,624.8 L111.6,625.0 L113.1,625.3 L114.6,625.6 L116.0,625.8 L117.5,626.0 L118.9,626.2 L120.3,626.4 L121.7,626.5 L123.0,626.6 L124.2,626.7 L125.4,626.8 L126.5,626.8 L127.5,626.9 L128.4,626.9 L129.3,626.9 L130.0,626.8 L130.6,626.7 L131.2,626.7 L131.6,626.5 L131.9,626.4 L132.0,626.3 L132.1,626.1" fill="none" stroke="#000" stroke-width="4.3" stroke-linecap="round" stroke-linejoin="round"/><path d="M95.1,618.4 L95.2,618.8 L95.4,619.2 L95.7,619.6 L96.2,620.0 L96.7,620.4 L97.4,620.8 L98.2,621.2 L99.0,621.5 L100.0,621.9 L101.0,622.3 L102.1,622.7 L103.3,623.1 L104.6,623.4 L105.9,623.8 L107.3,624.1 L108.7,624.4 L110.1,624.8 L111.6,625.0 L113.1,625.3 L114.6,625.6 L116.0,625.8 L117.5,626.0 L118.9,626.2 L120.3,626.4 L121.7,626.5 L123.0,626.6 L124.2,626.7 L125.4,626.8 L126.5,626.8 L127.5,626.9 L128.4,626.9 L129.3,626.9 L130.0,626.8 L130.6,626.7 L131.2,626.7 L131.6,626.5 L131.9,626.4 L132.0,626.3 L132.1,626.1" fill="none" stroke="#fff" stroke-width="2.5" stroke-linecap="round" stroke-linejoin="round"/>
<path d="M551.0,514.0 L561.0,628.0 L575.5,628.0 L566.0,514.0 Z" fill="#fff" stroke="#000" stroke-width="1.2"/>
<path d="M551.7,523.5 L566.7,518.5 M552.5,532.8 L567.4,527.8 M553.3,542.1 L568.2,537.1 M554.1,551.4 L569.0,546.4 M555.0,560.7 L569.8,555.7 M555.8,570.0 L570.5,565.0 M556.6,579.3 L571.3,574.3 M557.4,588.6 L572.1,583.6 M558.2,597.9 L572.9,592.9 M559.0,607.2 L573.6,602.2 M559.9,616.5 L574.4,611.5 M560.7,625.8 L575.2,620.8" fill="none" stroke="#000" stroke-width="2.4"/>
<path d="M551.7,523.5 L566.7,518.5 M552.5,532.8 L567.4,527.8 M553.3,542.1 L568.2,537.1 M554.1,551.4 L569.0,546.4 M555.0,560.7 L569.8,555.7 M555.8,570.0 L570.5,565.0 M556.6,579.3 L571.3,574.3 M557.4,588.6 L572.1,583.6 M558.2,597.9 L572.9,592.9 M559.0,607.2 L573.6,602.2 M559.9,616.5 L574.4,611.5 M560.7,625.8 L575.2,620.8" fill="none" stroke="#999" stroke-width="0.8"/>
<path d="M776.8,828 L776.8,685 A112.2,112.2 0 0 1 1001.2,685 L1001.2,686" fill="none" stroke="#000" stroke-width="1.4"/>
<path d="M795.1,828 L795.1,685 A93.9,93.9 0 0 1 982.9,685 L982.9,686" fill="none" stroke="#000" stroke-width="1.4"/>
<rect x="982.9" y="685.6" width="18.299999999999997" height="11.6" fill="#fff" stroke="#000" stroke-width="1.4"/>
<path d="M723.2,903.5 L723.2,787 Q723.2,785.6 725,785.4 Q735,784.3 746,784.3 Q757,784.3 767,785.4 Q768.7,785.6 768.7,787 L768.7,827.6 L776.9,827.6 Q785.5,831.5 794.7,827.6 L829.7,827.6 L829.7,873.5 L790.5,873.5 L768.7,873.5 L768.7,903.5 Z" fill="#fff" stroke="#000" stroke-width="1.4"/>
<line x1="723.2" y1="794.8" x2="768.7" y2="794.8" stroke="#000" stroke-width="1.4"/>
<path d="M773.5,873.5 Q781,869.5 790.7,873.5 Q781,876.5 773.5,873.5 Z" fill="#777" stroke="#000" stroke-width="1"/>
<rect x="718.3" y="903.5" width="55.2" height="4.6" rx="1.2" fill="#fff" stroke="#000" stroke-width="1.4"/>
<path d="M829.7,827.6 L853,827.6 Q868,849.6 853,871.7 L841.2,871.7 L829.7,873.5 Z" fill="#fff" stroke="#000" stroke-width="1.4"/>
<path d="M853,827.6 L853,871.7 M830.5,829 Q831.6,840 831.7,848.5 L841.2,871.7 M829.7,869.5 L838,868.3" fill="none" stroke="#000" stroke-width="1.2"/>
<rect x="843.3" y="811.5" width="8.2" height="16.1" fill="#fff" stroke="#000" stroke-width="1.4"/>
<rect x="840.4" y="766.4" width="13.3" height="46.2" rx="0.8" fill="#fff" stroke="#000" stroke-width="1.4"/>
<rect x="734.8" y="650" width="22.7" height="135" fill="#fff" stroke="#000" stroke-width="1.4"/>
<rect x="580" y="635.2" width="151" height="11.3" fill="#fff" stroke="#000" stroke-width="1.4"/>
<rect x="729.3" y="632" width="33.2" height="18.3" rx="0.8" fill="#fff" stroke="#000" stroke-width="1.4"/>
<rect x="557" y="649" width="20.3" height="6.3" fill="#fff" stroke="#000" stroke-width="1.4"/>
<rect x="555.2" y="655.3" width="24.5" height="82.7" fill="#fff" stroke="#000" stroke-width="1.4"/>
<line x1="555.2" y1="706" x2="579.7" y2="706" stroke="#000" stroke-width="1.3"/>
<rect x="553.7" y="631.9" width="28.6" height="18.1" rx="1" fill="#fff" stroke="#000" stroke-width="1.4"/>
<rect x="557.7" y="627.7" width="18.6" height="4.2" rx="0.8" fill="#fff" stroke="#000" stroke-width="1.4"/>
<rect x="548.3" y="738" width="37.6" height="17.3" rx="0.8" fill="#fff" stroke="#000" stroke-width="1.4"/>
<line x1="548.3" y1="738.3" x2="585.9" y2="738.3" stroke="#000" stroke-width="2.2"/>
<line x1="557" y1="756" x2="578" y2="756" stroke="#000" stroke-width="1.3"/>
<path d="M580,737.5 L601.6,660.2 Q604.5,660.2 606.4,662.4 L586,738 Z" fill="#fff" stroke="#000" stroke-width="1.4"/>
<path d="M579.6,714 Q583.5,714 584,720 L582.3,729 Q579.3,724 579.6,714 Z" fill="#fff" stroke="#000" stroke-width="1"/>
<rect x="86.1" y="1006.8" width="54.7" height="4.7" rx="1.2" fill="#fff" stroke="#000" stroke-width="1.4"/>
<path d="M90.3,1006.8 L90.3,892.6 Q90.3,890.8 92.5,890.6 L102.1,888.4 L104.3,888.4" fill="none" stroke="#000" stroke-width="1.4"/>
<path d="M137.3,1006.8 L137.3,898 L136.3,898 L136.3,892.6 Q136.3,890.8 134.2,890.6 L125.3,888.4 L122.9,888.4" fill="none" stroke="#000" stroke-width="1.4"/>
<path d="M90.3,898 L104.3,898 M122.9,898 L136.3,898" fill="none" stroke="#000" stroke-width="1.4"/>
<path d="M102.1,858 L102.1,888.4 M125.3,858 L125.3,888.4" fill="none" stroke="#000" stroke-width="1.4"/>
<rect x="94.5" y="840" width="7.6" height="18" rx="0.6" fill="#fff" stroke="#000" stroke-width="1.4"/>
<rect x="125.4" y="840" width="7.2" height="18" rx="0.6" fill="#fff" stroke="#000" stroke-width="1.4"/>
<path d="M101.5,756 L101.5,840 M126.1,756 L126.1,840" fill="none" stroke="#000" stroke-width="2.1"/>
<rect x="96.5" y="734" width="7.8" height="18" rx="0.6" fill="#fff" stroke="#000" stroke-width="1.4"/>
<rect x="123" y="731.8" width="7.6" height="20.2" rx="0.6" fill="#fff" stroke="#000" stroke-width="1.4"/>
<path d="M104.3,934 L104.3,684.3 A9.3,9.3 0 0 1 122.9,684.3 L122.9,934" fill="#fff" stroke="#000" stroke-width="1.4"/>
<path d="M104.3,787 L122.9,787 M104.3,799 L122.9,799" fill="none" stroke="#000" stroke-width="1.2"/>
<rect x="107.25" y="868.75" width="12.5" height="46.75" rx="1" fill="#fff" stroke="#000" stroke-width="1.4"/>
<path d="M109.6,916.6 L117.6,916.6 L118,933 L109.2,933 Z" fill="#fff" stroke="#000" stroke-width="1.4"/>
<line x1="109.8" y1="917.8" x2="117.4" y2="917.8" stroke="#666" stroke-width="1.3"/>
<ellipse cx="113.25" cy="955" rx="22.7" ry="22.4" fill="#fff" stroke="#000" stroke-width="1.4"/>
<path d="M91.5,962 Q95,972 105,976.5 M135,962 Q131,972 121.5,976.5" fill="none" stroke="#000" stroke-width="1"/>
<path d="M104.8,975.8 Q113.3,979.8 121.8,975.8 L121,978.6 Q113.3,981 105.6,978.6 Z" fill="#222" stroke="#000" stroke-width="0.8"/>
</svg></body></html>
